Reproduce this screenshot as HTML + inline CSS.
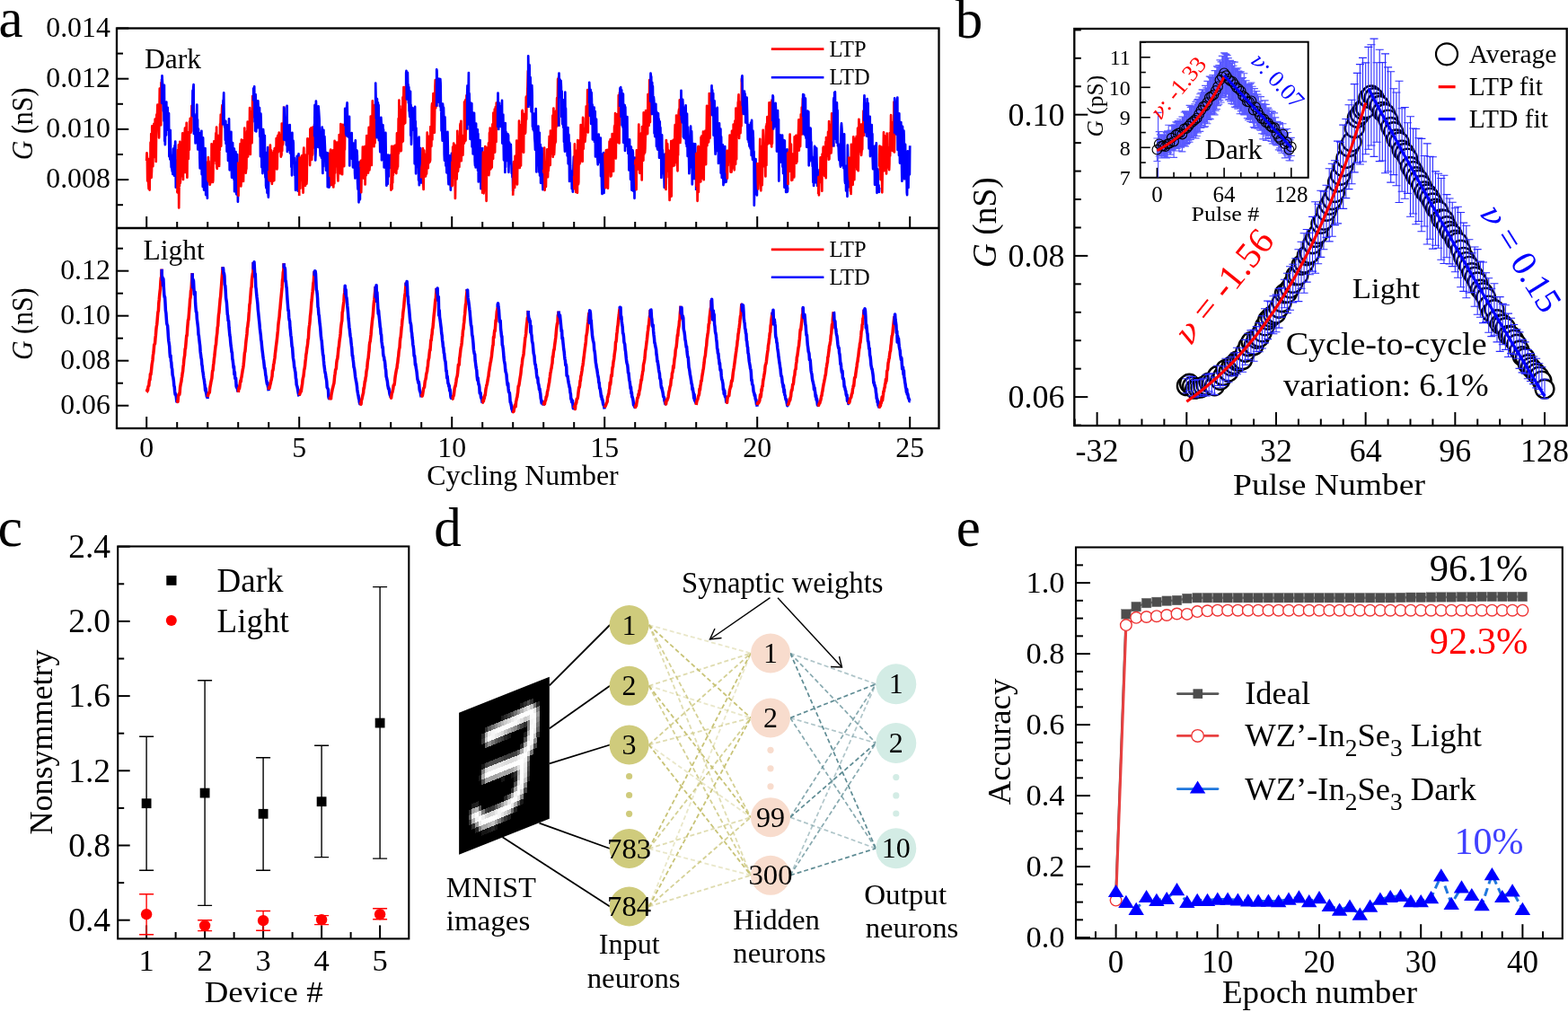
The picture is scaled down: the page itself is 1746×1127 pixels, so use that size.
<!DOCTYPE html>
<html><head><meta charset="utf-8"><title>Figure</title>
<style>html,body{margin:0;padding:0;background:#fff;overflow:hidden;} svg{display:block;}</style>
</head><body>
<svg width="1746" height="1127" viewBox="0 0 1746 1127" font-family="'Liberation Serif', 'Times New Roman', serif">
<rect width="1746" height="1127" fill="#fff"/>
<g id="pa">
<clipPath id="clipA1"><rect x="130" y="31.5" width="915.5" height="222.5"/></clipPath>
<clipPath id="clipA2"><rect x="130" y="254" width="915.5" height="223"/></clipPath>
<g clip-path="url(#clipA1)">
<polyline points="163.2,179.0 163.5,170.4 163.9,175.8 164.2,201.5 164.6,186.5 164.9,176.9 165.2,203.0 165.6,210.2 165.9,187.8 166.3,186.7 166.6,211.6 166.9,186.0 167.3,191.8 167.6,158.7 168.0,196.7 168.3,149.1 168.6,197.8 169.0,189.7 169.3,140.4 169.7,163.0 170.0,172.7 170.3,185.2 170.7,153.3 171.0,154.3 171.4,137.8 171.7,175.0 172.0,154.2 172.4,151.7 172.7,132.7 173.1,155.6 173.4,135.7 173.7,180.0 174.1,141.5 174.4,127.6 174.8,132.5 175.1,125.6 175.4,116.7 175.8,120.6 176.1,118.7 176.5,118.9 176.8,146.8 177.1,153.4 177.5,122.7 177.8,98.6 178.2,125.0 178.5,106.6 178.8,102.5 179.2,139.3 179.5,92.2 179.9,106.9 180.2,88.1" fill="none" stroke="#ff0000" stroke-width="2.7" stroke-linejoin="round" />
<polyline points="180.2,88.1 180.2,114.8 180.5,84.4 180.9,91.1 181.2,96.0 181.6,107.2 181.9,123.7 182.2,98.4 182.6,134.8 182.9,94.8 183.3,157.1 183.6,154.5 183.9,161.1 184.3,118.5 184.6,122.8 185.0,150.5 185.3,113.5 185.6,144.9 186.0,122.4 186.3,119.8 186.7,119.8 187.0,135.7 187.3,134.0 187.7,130.0 188.0,126.2 188.4,174.2 188.7,145.1 189.0,170.9 189.4,177.5 189.7,145.1 190.1,168.4 190.4,177.2 190.7,186.3 191.1,173.2 191.4,187.8 191.8,190.8 192.1,180.4 192.4,193.9 192.8,185.6 193.1,165.7 193.5,176.5 193.8,179.3 194.1,195.7 194.5,162.3 194.8,170.4 195.2,157.5 195.5,173.6 195.8,208.7 196.2,178.6 196.5,200.0 196.9,192.6 197.2,184.3" fill="none" stroke="#0000ff" stroke-width="2.7" stroke-linejoin="round" />
<polyline points="197.2,212.6 197.5,214.4 197.9,167.2 198.2,210.8 198.6,193.6 198.9,161.3 199.2,231.4 199.6,194.8 199.9,207.3 200.3,157.8 200.6,204.0 200.9,202.2 201.3,185.4 201.6,194.3 202.0,180.1 202.3,184.1 202.6,196.1 203.0,156.5 203.3,148.4 203.7,156.6 204.0,199.9 204.3,152.1 204.7,160.1 205.0,156.9 205.4,187.4 205.7,147.9 206.0,142.5 206.4,192.0 206.7,145.5 207.1,150.1 207.4,161.9 207.7,136.8 208.1,174.7 208.4,197.7 208.8,156.0 209.1,149.2 209.4,147.4 209.8,176.9 210.1,148.3 210.5,166.2 210.8,166.7 211.1,135.5 211.5,140.3 211.8,131.9 212.2,136.7 212.5,147.6 212.8,133.4 213.2,146.1 213.5,117.8 213.9,130.2 214.2,119.0" fill="none" stroke="#ff0000" stroke-width="2.7" stroke-linejoin="round" />
<polyline points="214.2,119.0 214.2,128.8 214.5,100.9 214.9,118.7 215.2,97.5 215.6,94.2 215.9,149.0 216.2,126.7 216.6,129.0 216.9,133.9 217.3,143.5 217.6,159.4 217.9,138.3 218.3,151.1 218.6,130.6 219.0,138.5 219.3,116.5 219.6,158.6 220.0,133.3 220.3,166.4 220.7,152.3 221.0,143.5 221.3,161.0 221.7,155.8 222.0,148.1 222.4,177.0 222.7,187.4 223.0,162.2 223.4,182.2 223.7,187.0 224.1,170.4 224.4,145.8 224.7,194.3 225.1,153.5 225.4,156.6 225.8,208.0 226.1,153.4 226.4,169.6 226.8,169.6 227.1,211.6 227.5,186.4 227.8,195.9 228.1,202.0 228.5,165.0 228.8,183.9 229.2,217.1 229.5,213.4 229.8,210.2 230.2,209.1 230.5,186.4 230.9,220.8 231.2,220.1" fill="none" stroke="#0000ff" stroke-width="2.7" stroke-linejoin="round" />
<polyline points="231.2,179.4 231.5,200.3 231.9,175.1 232.2,202.1 232.6,179.7 232.9,200.7 233.2,187.4 233.6,205.7 233.9,205.2 234.3,201.6 234.6,198.2 234.9,203.1 235.3,202.0 235.6,160.3 236.0,187.4 236.3,190.7 236.6,184.7 237.0,202.9 237.3,200.3 237.7,172.0 238.0,170.6 238.3,157.4 238.7,170.9 239.0,162.3 239.4,162.3 239.7,178.8 240.0,159.7 240.4,148.4 240.7,182.3 241.1,141.6 241.4,186.0 241.7,187.9 242.1,167.4 242.4,177.7 242.8,151.2 243.1,184.2 243.4,159.3 243.8,175.2 244.1,184.9 244.5,150.7 244.8,167.1 245.1,138.1 245.5,138.0 245.8,127.6 246.2,162.7 246.5,144.7 246.8,133.6 247.2,120.7 247.5,117.0 247.9,129.0 248.2,139.4" fill="none" stroke="#ff0000" stroke-width="2.7" stroke-linejoin="round" />
<polyline points="248.2,139.4 248.2,128.4 248.5,111.9 248.9,112.3 249.2,103.3 249.6,135.8 249.9,138.6 250.2,141.5 250.6,139.3 250.9,155.9 251.3,134.8 251.6,160.1 251.9,153.1 252.3,153.9 252.6,168.6 253.0,139.4 253.3,160.3 253.6,147.4 254.0,179.0 254.3,170.6 254.7,173.6 255.0,132.3 255.3,154.8 255.7,189.3 256.0,188.9 256.4,186.8 256.7,166.3 257.0,186.9 257.4,146.8 257.7,181.4 258.1,197.6 258.4,194.1 258.7,181.1 259.1,159.0 259.4,173.6 259.8,172.2 260.1,185.6 260.4,199.8 260.8,165.6 261.1,213.2 261.5,194.4 261.8,179.9 262.1,202.3 262.5,169.2 262.8,201.3 263.2,216.3 263.5,187.5 263.8,191.9 264.2,172.0 264.5,187.1 264.9,224.7 265.2,197.4" fill="none" stroke="#0000ff" stroke-width="2.7" stroke-linejoin="round" />
<polyline points="265.2,180.5 265.5,217.8 265.9,190.7 266.2,206.1 266.6,186.7 266.9,196.4 267.2,169.4 267.6,160.1 267.9,182.4 268.3,207.4 268.6,202.9 268.9,155.6 269.3,200.7 269.6,159.1 270.0,174.2 270.3,188.6 270.6,156.4 271.0,202.0 271.3,187.8 271.7,178.5 272.0,183.9 272.3,142.6 272.7,180.1 273.0,166.8 273.4,188.9 273.7,192.6 274.0,189.2 274.4,187.7 274.7,166.1 275.1,146.2 275.4,155.6 275.7,135.7 276.1,174.5 276.4,140.8 276.8,140.7 277.1,137.4 277.4,136.6 277.8,152.4 278.1,120.1 278.5,147.0 278.8,172.0 279.1,152.2 279.5,151.9 279.8,130.2 280.2,124.1 280.5,159.2 280.8,144.4 281.2,107.0 281.5,118.5 281.9,130.5 282.2,112.6" fill="none" stroke="#ff0000" stroke-width="2.7" stroke-linejoin="round" />
<polyline points="282.2,112.6 282.2,98.6 282.5,98.1 282.9,108.9 283.2,96.3 283.6,135.7 283.9,115.0 284.2,145.7 284.6,105.2 284.9,112.1 285.3,146.4 285.6,125.3 285.9,139.6 286.3,114.6 286.6,128.8 287.0,142.2 287.3,112.3 287.6,119.4 288.0,135.9 288.3,130.1 288.7,127.9 289.0,120.0 289.3,152.1 289.7,142.4 290.0,174.2 290.4,126.5 290.7,134.9 291.0,157.1 291.4,186.3 291.7,151.2 292.1,144.2 292.4,193.1 292.7,154.9 293.1,144.0 293.4,147.8 293.8,190.2 294.1,177.7 294.4,175.6 294.8,151.0 295.1,188.0 295.5,197.6 295.8,175.0 296.1,206.6 296.5,209.4 296.8,196.0 297.2,169.9 297.5,214.7 297.8,194.4 298.2,164.0 298.5,214.3 298.9,219.7 299.2,198.1" fill="none" stroke="#0000ff" stroke-width="2.7" stroke-linejoin="round" />
<polyline points="299.2,190.1 299.5,198.3 299.9,201.0 300.2,190.5 300.6,167.5 300.9,161.6 301.2,188.9 301.6,201.6 301.9,167.3 302.3,188.5 302.6,179.7 302.9,204.8 303.3,170.4 303.6,202.1 304.0,172.8 304.3,170.6 304.6,182.3 305.0,168.0 305.3,201.1 305.7,165.4 306.0,175.4 306.3,164.8 306.7,168.7 307.0,188.0 307.4,174.4 307.7,154.0 308.0,164.2 308.4,188.4 308.7,186.8 309.1,152.9 309.4,150.8 309.7,169.4 310.1,152.2 310.4,151.0 310.8,147.5 311.1,154.2 311.4,157.6 311.8,168.3 312.1,167.1 312.5,150.2 312.8,174.6 313.1,173.4 313.5,172.6 313.8,137.6 314.2,168.0 314.5,143.9 314.8,161.7 315.2,159.6 315.5,144.0 315.9,133.7 316.2,118.5" fill="none" stroke="#ff0000" stroke-width="2.7" stroke-linejoin="round" />
<polyline points="316.2,118.5 316.2,155.6 316.5,120.0 316.9,135.3 317.2,145.1 317.6,149.9 317.9,149.6 318.2,156.5 318.6,137.0 318.9,161.6 319.3,152.5 319.6,117.8 319.9,168.9 320.3,159.6 320.6,161.4 321.0,140.8 321.3,153.9 321.6,139.6 322.0,166.8 322.3,164.1 322.7,139.1 323.0,170.5 323.3,165.4 323.7,168.7 324.0,161.7 324.4,185.9 324.7,155.8 325.0,195.3 325.4,147.8 325.7,179.0 326.1,165.3 326.4,156.5 326.7,159.5 327.1,181.8 327.4,178.2 327.8,175.9 328.1,194.9 328.4,192.9 328.8,188.0 329.1,211.8 329.5,182.6 329.8,187.0 330.1,181.9 330.5,183.7 330.8,173.9 331.2,192.1 331.5,199.2 331.8,212.6 332.2,190.1 332.5,171.4 332.9,191.5 333.2,202.9" fill="none" stroke="#0000ff" stroke-width="2.7" stroke-linejoin="round" />
<polyline points="333.2,218.1 333.5,175.7 333.9,209.9 334.2,195.0 334.6,194.9 334.9,196.0 335.2,200.6 335.6,188.8 335.9,173.5 336.3,178.3 336.6,173.2 336.9,209.9 337.3,206.8 337.6,214.6 338.0,171.0 338.3,164.7 338.6,193.3 339.0,178.1 339.3,180.1 339.7,172.5 340.0,206.8 340.3,194.7 340.7,179.7 341.0,184.2 341.4,204.6 341.7,200.0 342.0,169.3 342.4,154.4 342.7,170.9 343.1,164.1 343.4,160.1 343.7,164.3 344.1,159.7 344.4,154.5 344.8,158.3 345.1,184.1 345.4,143.6 345.8,144.0 346.1,152.3 346.5,142.4 346.8,163.3 347.1,177.9 347.5,169.1 347.8,172.8 348.2,171.3 348.5,141.7 348.8,158.1 349.2,161.4 349.5,164.5 349.9,157.2 350.2,137.9" fill="none" stroke="#ff0000" stroke-width="2.7" stroke-linejoin="round" />
<polyline points="350.2,137.9 350.2,151.3 350.5,117.2 350.9,145.6 351.2,178.5 351.6,169.0 351.9,112.5 352.2,120.2 352.6,122.4 352.9,151.3 353.3,147.7 353.6,139.8 353.9,153.6 354.3,164.0 354.6,118.4 355.0,123.3 355.3,128.1 355.6,132.8 356.0,152.7 356.3,164.4 356.7,173.3 357.0,163.3 357.3,168.5 357.7,170.5 358.0,175.7 358.4,152.0 358.7,141.7 359.0,176.6 359.4,193.0 359.7,152.9 360.1,185.6 360.4,144.8 360.7,175.9 361.1,157.2 361.4,152.1 361.8,161.5 362.1,168.8 362.4,171.9 362.8,177.3 363.1,189.6 363.5,180.0 363.8,170.1 364.1,171.7 364.5,176.5 364.8,208.2 365.2,182.2 365.5,170.6 365.8,191.7 366.2,202.0 366.5,208.6 366.9,205.9 367.2,185.8" fill="none" stroke="#0000ff" stroke-width="2.7" stroke-linejoin="round" />
<polyline points="367.2,170.6 367.5,196.0 367.9,167.9 368.2,166.6 368.6,193.3 368.9,206.1 369.2,186.6 369.6,167.8 369.9,186.7 370.3,167.5 370.6,180.7 370.9,167.7 371.3,208.5 371.6,190.8 372.0,204.7 372.3,204.1 372.6,156.9 373.0,192.6 373.3,177.1 373.7,185.2 374.0,170.6 374.3,158.7 374.7,183.0 375.0,172.3 375.4,178.0 375.7,158.5 376.0,193.0 376.4,201.5 376.7,161.7 377.1,184.8 377.4,191.5 377.7,150.0 378.1,173.4 378.4,181.6 378.8,152.9 379.1,193.3 379.4,138.0 379.8,147.9 380.1,178.2 380.5,187.1 380.8,175.2 381.1,194.2 381.5,163.5 381.8,138.8 382.2,156.7 382.5,173.1 382.8,181.8 383.2,185.1 383.5,144.2 383.9,166.6 384.2,140.8" fill="none" stroke="#ff0000" stroke-width="2.7" stroke-linejoin="round" />
<polyline points="384.2,140.8 384.2,120.8 384.5,122.9 384.9,131.4 385.2,149.5 385.6,134.5 385.9,151.2 386.2,118.2 386.6,114.3 386.9,128.1 387.3,142.2 387.6,152.3 387.9,135.1 388.3,142.8 388.6,147.7 389.0,129.8 389.3,184.5 389.6,149.6 390.0,157.4 390.3,166.5 390.7,165.3 391.0,148.7 391.3,163.4 391.7,148.0 392.0,176.9 392.4,166.8 392.7,159.5 393.0,186.3 393.4,178.3 393.7,159.6 394.1,185.7 394.4,167.7 394.7,168.6 395.1,193.2 395.4,198.5 395.8,156.4 396.1,185.6 396.4,179.9 396.8,191.4 397.1,167.2 397.5,168.1 397.8,173.8 398.1,203.3 398.5,210.7 398.8,210.7 399.2,202.9 399.5,225.3 399.8,193.4 400.2,180.7 400.5,218.9 400.9,222.2 401.2,181.3" fill="none" stroke="#0000ff" stroke-width="2.7" stroke-linejoin="round" />
<polyline points="401.2,186.7 401.5,186.0 401.9,178.9 402.2,214.2 402.6,197.9 402.9,183.6 403.2,188.1 403.6,181.5 403.9,163.6 404.3,192.6 404.6,182.9 404.9,167.6 405.3,198.7 405.6,185.3 406.0,195.0 406.3,163.2 406.6,205.4 407.0,185.3 407.3,167.2 407.7,195.2 408.0,161.8 408.3,151.1 408.7,153.2 409.0,178.6 409.4,158.7 409.7,162.5 410.0,192.6 410.4,165.2 410.7,141.9 411.1,156.0 411.4,189.4 411.7,185.4 412.1,165.0 412.4,158.6 412.8,129.5 413.1,156.1 413.4,176.0 413.8,184.0 414.1,143.4 414.5,141.7 414.8,112.4 415.1,154.5 415.5,127.8 415.8,136.6 416.2,117.7 416.5,163.2 416.8,127.9 417.2,144.0 417.5,159.3 417.9,116.4 418.2,117.2" fill="none" stroke="#ff0000" stroke-width="2.7" stroke-linejoin="round" />
<polyline points="418.2,117.2 418.2,92.5 418.5,106.4 418.9,132.1 419.2,129.9 419.6,153.2 419.9,110.1 420.2,121.2 420.6,149.8 420.9,114.3 421.3,145.7 421.6,117.1 421.9,156.2 422.3,143.5 422.6,142.2 423.0,156.9 423.3,169.2 423.6,151.8 424.0,152.4 424.3,130.9 424.7,137.8 425.0,178.3 425.3,142.6 425.7,140.7 426.0,139.9 426.4,139.2 426.7,165.0 427.0,144.4 427.4,158.3 427.7,186.5 428.1,171.4 428.4,179.7 428.7,161.2 429.1,157.9 429.4,147.9 429.8,179.4 430.1,192.1 430.4,206.7 430.8,177.8 431.1,181.1 431.5,197.5 431.8,204.8 432.1,172.5 432.5,184.0 432.8,196.5 433.2,181.6 433.5,176.1 433.8,176.0 434.2,187.0 434.5,172.9 434.9,178.6 435.2,185.9" fill="none" stroke="#0000ff" stroke-width="2.7" stroke-linejoin="round" />
<polyline points="435.2,205.1 435.5,211.6 435.9,185.2 436.2,162.9 436.6,210.2 436.9,179.8 437.2,203.4 437.6,171.1 437.9,194.8 438.3,162.9 438.6,179.1 438.9,191.7 439.3,176.2 439.6,186.3 440.0,161.8 440.3,177.9 440.6,163.2 441.0,174.5 441.3,193.1 441.7,168.4 442.0,148.3 442.3,188.2 442.7,162.3 443.0,185.7 443.4,160.5 443.7,132.1 444.0,170.7 444.4,111.5 444.7,139.6 445.1,142.9 445.4,118.3 445.7,156.1 446.1,155.1 446.4,168.2 446.8,167.6 447.1,122.1 447.4,133.9 447.8,158.2 448.1,144.6 448.5,108.4 448.8,157.3 449.1,128.3 449.5,97.0 449.8,138.2 450.2,98.1 450.5,130.2 450.8,113.7 451.2,137.1 451.5,104.6 451.9,98.9 452.2,94.4" fill="none" stroke="#ff0000" stroke-width="2.7" stroke-linejoin="round" />
<polyline points="452.2,94.4 452.2,81.1 452.5,78.9 452.9,110.5 453.2,87.6 453.6,82.0 453.9,80.9 454.2,96.4 454.6,94.2 454.9,114.6 455.3,97.2 455.6,123.5 455.9,124.4 456.3,129.8 456.6,126.1 457.0,101.8 457.3,150.8 457.6,116.9 458.0,160.8 458.3,150.1 458.7,129.9 459.0,139.1 459.3,120.1 459.7,144.6 460.0,130.5 460.4,125.9 460.7,121.6 461.0,136.1 461.4,128.9 461.7,182.3 462.1,118.9 462.4,160.6 462.7,135.2 463.1,193.3 463.4,142.6 463.8,172.5 464.1,185.9 464.4,172.2 464.8,170.3 465.1,155.1 465.5,162.3 465.8,167.9 466.1,200.7 466.5,152.5 466.8,206.2 467.2,195.0 467.5,189.1 467.8,178.5 468.2,165.2 468.5,196.6 468.9,192.1 469.2,204.7" fill="none" stroke="#0000ff" stroke-width="2.7" stroke-linejoin="round" />
<polyline points="469.2,198.5 469.5,186.7 469.9,184.2 470.2,182.3 470.6,166.9 470.9,165.2 471.2,202.4 471.6,211.0 471.9,194.0 472.3,167.5 472.6,178.6 472.9,171.5 473.3,188.2 473.6,175.6 474.0,196.3 474.3,172.2 474.6,190.5 475.0,193.5 475.3,183.2 475.7,147.5 476.0,160.6 476.3,169.4 476.7,187.2 477.0,154.2 477.4,179.9 477.7,151.9 478.0,181.1 478.4,164.6 478.7,180.1 479.1,178.2 479.4,141.0 479.7,161.8 480.1,160.1 480.4,162.8 480.8,119.2 481.1,115.3 481.4,155.4 481.8,114.5 482.1,125.2 482.5,104.1 482.8,138.8 483.1,145.6 483.5,108.9 483.8,147.7 484.2,120.3 484.5,96.6 484.8,89.0 485.2,120.3 485.5,109.7 485.9,102.1 486.2,118.8" fill="none" stroke="#ff0000" stroke-width="2.7" stroke-linejoin="round" />
<polyline points="486.2,118.8 486.2,77.3 486.5,78.8 486.9,98.9 487.2,97.6 487.6,87.4 487.9,109.4 488.2,104.3 488.6,113.7 488.9,111.9 489.3,96.1 489.6,87.8 489.9,118.3 490.3,88.2 490.6,92.9 491.0,123.3 491.3,116.8 491.6,145.6 492.0,140.8 492.3,146.2 492.7,156.6 493.0,115.6 493.3,119.5 493.7,155.4 494.0,119.8 494.4,138.4 494.7,171.9 495.0,178.6 495.4,130.4 495.7,142.8 496.1,160.1 496.4,184.6 496.7,172.2 497.1,183.7 497.4,192.3 497.8,172.3 498.1,180.9 498.4,146.8 498.8,165.8 499.1,198.0 499.5,205.2 499.8,178.3 500.1,187.0 500.5,173.3 500.8,197.7 501.2,200.7 501.5,190.6 501.8,211.6 502.2,200.4 502.5,198.6 502.9,170.9 503.2,183.9" fill="none" stroke="#0000ff" stroke-width="2.7" stroke-linejoin="round" />
<polyline points="503.2,208.3 503.5,180.6 503.9,206.6 504.2,163.5 504.6,169.2 504.9,192.4 505.2,159.5 505.6,171.4 505.9,198.2 506.3,164.1 506.6,161.7 506.9,221.0 507.3,196.6 507.6,199.3 508.0,168.4 508.3,187.1 508.6,199.4 509.0,186.5 509.3,145.9 509.7,156.8 510.0,190.8 510.3,185.0 510.7,153.8 511.0,152.5 511.4,185.9 511.7,163.1 512.0,170.6 512.4,139.2 512.7,137.5 513.1,144.6 513.4,134.8 513.7,179.2 514.1,161.9 514.4,150.9 514.8,156.1 515.1,165.1 515.4,172.6 515.8,155.0 516.1,157.0 516.5,155.7 516.8,159.6 517.1,113.4 517.5,113.2 517.8,157.3 518.2,111.4 518.5,156.5 518.8,132.8 519.2,143.2 519.5,106.3 519.9,139.1 520.2,144.5" fill="none" stroke="#ff0000" stroke-width="2.7" stroke-linejoin="round" />
<polyline points="520.2,144.5 520.2,104.9 520.5,95.3 520.9,129.3 521.2,102.1 521.6,101.1 521.9,81.1 522.2,138.3 522.6,104.2 522.9,113.7 523.3,127.8 523.6,155.0 523.9,114.5 524.3,119.5 524.6,116.2 525.0,119.6 525.3,115.0 525.6,163.5 526.0,125.1 526.3,142.0 526.7,171.4 527.0,128.6 527.3,162.7 527.7,168.0 528.0,125.8 528.4,144.0 528.7,179.2 529.0,184.2 529.4,150.3 529.7,186.4 530.1,137.6 530.4,177.5 530.7,163.9 531.1,160.3 531.4,156.0 531.8,144.4 532.1,190.1 532.4,149.0 532.8,202.5 533.1,187.6 533.5,196.5 533.8,201.7 534.1,172.4 534.5,156.1 534.8,199.4 535.2,177.5 535.5,210.2 535.8,199.6 536.2,186.8 536.5,189.8 536.9,191.7 537.2,164.0" fill="none" stroke="#0000ff" stroke-width="2.7" stroke-linejoin="round" />
<polyline points="537.2,215.8 537.5,197.2 537.9,169.7 538.2,178.4 538.6,215.3 538.9,207.9 539.2,212.3 539.6,195.3 539.9,206.4 540.3,163.1 540.6,187.9 540.9,211.2 541.3,198.0 541.6,223.8 542.0,178.0 542.3,164.6 542.6,181.2 543.0,187.8 543.3,164.7 543.7,176.6 544.0,159.3 544.3,195.1 544.7,191.0 545.0,147.9 545.4,176.0 545.7,142.7 546.0,157.1 546.4,188.3 546.7,160.7 547.1,167.5 547.4,184.6 547.7,186.5 548.1,161.9 548.4,138.3 548.8,145.8 549.1,176.8 549.4,125.5 549.8,166.9 550.1,146.0 550.5,132.3 550.8,121.5 551.1,169.6 551.5,140.9 551.8,119.2 552.2,120.8 552.5,157.9 552.8,114.5 553.2,125.9 553.5,130.5 553.9,137.9 554.2,141.7" fill="none" stroke="#ff0000" stroke-width="2.7" stroke-linejoin="round" />
<polyline points="554.2,141.7 554.2,125.7 554.5,103.6 554.9,124.3 555.2,144.0 555.6,117.7 555.9,114.5 556.2,131.6 556.6,123.1 556.9,118.1 557.3,140.8 557.6,118.4 557.9,118.8 558.3,121.2 558.6,128.2 559.0,111.8 559.3,159.6 559.6,150.6 560.0,136.5 560.3,127.5 560.7,160.0 561.0,178.3 561.3,173.1 561.7,167.9 562.0,163.8 562.4,191.9 562.7,137.2 563.0,186.0 563.4,146.8 563.7,175.9 564.1,156.0 564.4,174.4 564.7,178.9 565.1,172.1 565.4,149.2 565.8,161.9 566.1,150.5 566.4,191.8 566.8,175.8 567.1,158.7 567.5,175.6 567.8,181.8 568.1,164.4 568.5,163.9 568.8,160.9 569.2,179.1 569.5,182.6 569.8,193.0 570.2,189.2 570.5,197.4 570.9,194.2 571.2,213.1" fill="none" stroke="#0000ff" stroke-width="2.7" stroke-linejoin="round" />
<polyline points="571.2,217.8 571.5,203.9 571.9,194.0 572.2,180.0 572.6,193.4 572.9,196.0 573.2,208.9 573.6,173.8 573.9,195.5 574.3,199.0 574.6,189.4 574.9,195.4 575.3,156.6 575.6,200.7 576.0,205.3 576.3,175.1 576.6,185.1 577.0,187.2 577.3,170.4 577.7,171.9 578.0,134.7 578.3,157.1 578.7,186.9 579.0,149.4 579.4,150.8 579.7,171.4 580.0,184.5 580.4,139.0 580.7,148.9 581.1,148.3 581.4,123.9 581.7,122.8 582.1,127.8 582.4,169.0 582.8,157.7 583.1,169.7 583.4,127.2 583.8,139.1 584.1,143.0 584.5,141.4 584.8,148.7 585.1,147.7 585.5,134.0 585.8,108.2 586.2,132.8 586.5,107.0 586.8,117.4 587.2,102.8 587.5,95.8 587.9,79.2 588.2,120.0" fill="none" stroke="#ff0000" stroke-width="2.7" stroke-linejoin="round" />
<polyline points="588.2,120.0 588.2,62.4 588.5,76.1 588.9,86.2 589.2,112.4 589.6,72.4 589.9,116.4 590.2,103.7 590.6,86.2 590.9,100.5 591.3,109.7 591.6,124.3 591.9,115.2 592.3,95.2 592.6,104.1 593.0,141.0 593.3,126.5 593.6,144.0 594.0,143.8 594.3,145.4 594.7,126.7 595.0,146.1 595.3,153.8 595.7,158.6 596.0,166.8 596.4,148.0 596.7,121.2 597.0,145.8 597.4,191.5 597.7,180.6 598.1,154.1 598.4,178.8 598.7,169.2 599.1,146.3 599.4,140.6 599.8,181.6 600.1,169.5 600.4,191.8 600.8,147.8 601.1,195.6 601.5,186.4 601.8,161.2 602.1,203.8 602.5,172.9 602.8,171.3 603.2,198.9 603.5,164.8 603.8,180.6 604.2,200.6 604.5,211.1 604.9,207.0 605.2,192.3" fill="none" stroke="#0000ff" stroke-width="2.7" stroke-linejoin="round" />
<polyline points="605.2,188.8 605.5,192.0 605.9,189.5 606.2,164.7 606.6,211.8 606.9,206.4 607.2,180.5 607.6,181.0 607.9,207.9 608.3,186.7 608.6,195.7 608.9,188.8 609.3,166.3 609.6,189.1 610.0,197.2 610.3,187.7 610.6,190.5 611.0,186.4 611.3,166.1 611.7,151.9 612.0,152.7 612.3,156.5 612.7,183.8 613.0,145.5 613.4,164.3 613.7,154.9 614.0,171.2 614.4,165.7 614.7,164.2 615.1,167.0 615.4,128.7 615.7,174.8 616.1,154.9 616.4,120.6 616.8,163.5 617.1,171.9 617.4,164.4 617.8,157.9 618.1,138.2 618.5,151.2 618.8,158.4 619.1,123.7 619.5,141.5 619.8,132.5 620.2,109.1 620.5,136.2 620.8,119.6 621.2,88.0 621.5,126.6 621.9,86.4 622.2,140.7" fill="none" stroke="#ff0000" stroke-width="2.7" stroke-linejoin="round" />
<polyline points="622.2,140.7 622.2,94.8 622.5,81.6 622.9,98.3 623.2,98.1 623.6,88.6 623.9,108.2 624.2,97.3 624.6,90.1 624.9,96.8 625.3,130.1 625.6,101.5 625.9,127.2 626.3,138.3 626.6,122.8 627.0,111.1 627.3,142.1 627.6,112.4 628.0,158.0 628.3,148.5 628.7,162.9 629.0,168.6 629.3,102.7 629.7,155.3 630.0,120.7 630.4,157.2 630.7,159.1 631.0,157.1 631.4,162.4 631.7,173.4 632.1,152.4 632.4,142.0 632.7,182.3 633.1,149.6 633.4,150.3 633.8,172.7 634.1,202.0 634.4,159.2 634.8,168.5 635.1,184.9 635.5,192.0 635.8,190.0 636.1,201.3 636.5,191.2 636.8,210.2 637.2,209.7 637.5,196.8 637.8,213.6 638.2,200.2 638.5,183.9 638.9,174.5 639.2,175.2" fill="none" stroke="#0000ff" stroke-width="2.7" stroke-linejoin="round" />
<polyline points="639.2,195.9 639.5,210.2 639.9,160.4 640.2,205.0 640.6,202.1 640.9,167.5 641.2,213.9 641.6,210.3 641.9,190.4 642.3,173.4 642.6,183.9 642.9,214.7 643.3,156.1 643.6,188.7 644.0,205.1 644.3,202.6 644.6,169.9 645.0,156.9 645.3,182.6 645.7,177.0 646.0,181.4 646.3,164.6 646.7,139.0 647.0,154.9 647.4,175.8 647.7,143.5 648.0,158.9 648.4,171.3 648.7,179.8 649.1,130.8 649.4,131.9 649.7,165.7 650.1,143.2 650.4,151.6 650.8,147.6 651.1,156.0 651.4,157.9 651.8,152.7 652.1,150.5 652.5,132.2 652.8,118.4 653.1,134.8 653.5,141.6 653.8,136.2 654.2,100.2 654.5,113.4 654.8,147.4 655.2,108.8 655.5,122.9 655.9,102.9 656.2,115.1" fill="none" stroke="#ff0000" stroke-width="2.7" stroke-linejoin="round" />
<polyline points="656.2,115.1 656.2,91.9 656.5,98.1 656.9,128.9 657.2,113.0 657.6,99.8 657.9,102.4 658.2,137.9 658.6,103.1 658.9,110.3 659.3,135.9 659.6,116.6 659.9,155.3 660.3,134.0 660.6,147.1 661.0,153.6 661.3,154.0 661.6,119.6 662.0,158.1 662.3,136.9 662.7,124.1 663.0,174.5 663.3,163.3 663.7,173.3 664.0,132.5 664.4,165.1 664.7,174.4 665.0,166.9 665.4,177.9 665.7,183.3 666.1,155.4 666.4,178.4 666.7,149.7 667.1,168.9 667.4,180.7 667.8,157.4 668.1,179.0 668.4,172.4 668.8,153.6 669.1,196.2 669.5,192.7 669.8,188.7 670.1,207.1 670.5,215.9 670.8,207.0 671.2,210.8 671.5,171.3 671.8,207.1 672.2,170.1 672.5,215.0 672.9,186.0 673.2,182.3" fill="none" stroke="#0000ff" stroke-width="2.7" stroke-linejoin="round" />
<polyline points="673.2,172.5 673.5,171.7 673.9,187.2 674.2,209.2 674.6,172.2 674.9,167.3 675.2,197.0 675.6,190.8 675.9,178.6 676.3,166.8 676.6,189.3 676.9,209.7 677.3,188.9 677.6,176.7 678.0,185.4 678.3,183.7 678.6,157.7 679.0,175.2 679.3,175.5 679.7,155.0 680.0,196.5 680.3,155.4 680.7,195.7 681.0,175.9 681.4,185.0 681.7,149.0 682.0,176.4 682.4,165.0 682.7,153.5 683.1,190.8 683.4,159.4 683.7,168.6 684.1,141.4 684.4,139.9 684.8,159.0 685.1,126.2 685.4,163.4 685.8,176.4 686.1,136.9 686.5,144.4 686.8,157.2 687.1,149.0 687.5,127.1 687.8,158.5 688.2,131.5 688.5,146.5 688.8,106.2 689.2,151.7 689.5,159.5 689.9,103.4 690.2,119.1" fill="none" stroke="#ff0000" stroke-width="2.7" stroke-linejoin="round" />
<polyline points="690.2,119.1 690.2,108.1 690.5,98.2 690.9,112.8 691.2,97.2 691.6,130.1 691.9,114.1 692.2,100.3 692.6,139.6 692.9,114.5 693.3,110.8 693.6,141.8 693.9,104.7 694.3,158.8 694.6,116.3 695.0,143.0 695.3,145.3 695.6,117.1 696.0,167.9 696.3,119.3 696.7,142.8 697.0,144.6 697.3,137.4 697.7,153.4 698.0,150.3 698.4,130.0 698.7,163.2 699.0,157.2 699.4,171.0 699.7,164.2 700.1,161.2 700.4,189.4 700.7,159.8 701.1,155.4 701.4,177.1 701.8,174.4 702.1,199.7 702.4,179.0 702.8,163.6 703.1,192.8 703.5,211.6 703.8,188.7 704.1,167.5 704.5,167.3 704.8,170.5 705.2,212.7 705.5,204.3 705.8,195.5 706.2,178.1 706.5,220.8 706.9,175.6 707.2,182.1" fill="none" stroke="#0000ff" stroke-width="2.7" stroke-linejoin="round" />
<polyline points="707.2,183.7 707.5,178.5 707.9,184.0 708.2,201.7 708.6,211.1 708.9,167.4 709.2,170.5 709.6,176.5 709.9,170.6 710.3,188.4 710.6,180.4 710.9,170.4 711.3,138.5 711.6,179.0 712.0,186.2 712.3,192.8 712.6,190.4 713.0,179.9 713.3,150.2 713.7,151.8 714.0,148.4 714.3,159.7 714.7,200.4 715.0,141.1 715.4,165.4 715.7,146.5 716.0,176.9 716.4,178.8 716.7,125.4 717.1,159.8 717.4,171.4 717.7,152.4 718.1,169.9 718.4,165.3 718.8,149.4 719.1,123.0 719.4,126.4 719.8,145.5 720.1,145.8 720.5,123.2 720.8,149.2 721.1,148.8 721.5,105.0 721.8,109.5 722.2,117.8 722.5,139.9 722.8,132.7 723.2,89.0 723.5,103.3 723.9,136.1 724.2,88.1" fill="none" stroke="#ff0000" stroke-width="2.7" stroke-linejoin="round" />
<polyline points="724.2,88.1 724.2,112.8 724.5,81.7 724.9,85.2 725.2,85.3 725.6,108.9 725.9,127.1 726.2,91.8 726.6,113.3 726.9,96.2 727.3,122.6 727.6,123.7 727.9,108.2 728.3,112.1 728.6,148.6 729.0,121.3 729.3,152.1 729.6,121.9 730.0,122.3 730.3,115.8 730.7,138.1 731.0,162.9 731.3,124.7 731.7,136.6 732.0,165.6 732.4,166.6 732.7,150.7 733.0,126.4 733.4,145.4 733.7,132.5 734.1,175.7 734.4,164.1 734.7,135.3 735.1,158.5 735.4,142.0 735.8,167.3 736.1,156.3 736.4,197.9 736.8,188.5 737.1,150.3 737.5,175.7 737.8,167.2 738.1,193.0 738.5,181.2 738.8,177.3 739.2,180.3 739.5,195.8 739.8,208.8 740.2,177.8 740.5,171.7 740.9,195.8 741.2,205.2" fill="none" stroke="#0000ff" stroke-width="2.7" stroke-linejoin="round" />
<polyline points="741.2,207.5 741.5,210.9 741.9,156.1 742.2,185.3 742.6,161.2 742.9,162.4 743.2,160.0 743.6,172.7 743.9,190.6 744.3,177.2 744.6,197.5 744.9,167.9 745.3,204.9 745.6,223.0 746.0,201.8 746.3,197.6 746.6,177.0 747.0,176.8 747.3,157.0 747.7,218.6 748.0,175.3 748.3,165.7 748.7,168.1 749.0,175.2 749.4,184.9 749.7,155.9 750.0,163.4 750.4,168.8 750.7,177.9 751.1,184.2 751.4,151.4 751.7,139.2 752.1,150.8 752.4,145.8 752.8,180.9 753.1,128.5 753.4,145.2 753.8,176.3 754.1,177.3 754.5,190.3 754.8,131.2 755.1,172.7 755.5,129.5 755.8,124.2 756.2,121.5 756.5,147.3 756.8,111.4 757.2,155.7 757.5,158.9 757.9,124.7 758.2,123.9" fill="none" stroke="#ff0000" stroke-width="2.7" stroke-linejoin="round" />
<polyline points="758.2,123.9 758.2,128.0 758.5,100.8 758.9,133.1 759.2,128.5 759.6,136.3 759.9,125.6 760.2,110.9 760.6,120.4 760.9,152.6 761.3,151.7 761.6,119.6 761.9,153.9 762.3,144.2 762.6,149.5 763.0,131.5 763.3,154.8 763.6,117.4 764.0,159.9 764.3,133.3 764.7,162.9 765.0,126.6 765.3,147.9 765.7,173.9 766.0,141.7 766.4,154.5 766.7,158.9 767.0,171.4 767.4,193.2 767.7,187.0 768.1,165.2 768.4,186.4 768.7,185.0 769.1,140.7 769.4,161.5 769.8,149.2 770.1,146.0 770.4,157.8 770.8,205.3 771.1,182.7 771.5,174.5 771.8,175.8 772.1,171.0 772.5,160.1 772.8,187.0 773.2,199.0 773.5,190.8 773.8,172.0 774.2,160.4 774.5,193.9 774.9,172.2 775.2,212.1" fill="none" stroke="#0000ff" stroke-width="2.7" stroke-linejoin="round" />
<polyline points="775.2,170.2 775.5,207.3 775.9,170.7 776.2,182.1 776.6,223.8 776.9,212.4 777.2,164.1 777.6,162.9 777.9,213.8 778.3,178.6 778.6,176.9 778.9,164.8 779.3,192.6 779.6,198.1 780.0,163.7 780.3,202.3 780.6,153.1 781.0,199.0 781.3,151.6 781.7,196.0 782.0,163.1 782.3,185.4 782.7,186.4 783.0,146.7 783.4,166.2 783.7,200.2 784.0,154.0 784.4,146.9 784.7,148.2 785.1,154.5 785.4,145.5 785.7,145.9 786.1,183.1 786.4,156.5 786.8,139.9 787.1,117.8 787.4,162.2 787.8,119.1 788.1,130.4 788.5,137.3 788.8,124.9 789.1,158.3 789.5,143.0 789.8,104.1 790.2,131.5 790.5,153.8 790.8,116.2 791.2,113.8 791.5,105.0 791.9,121.9 792.2,110.0" fill="none" stroke="#ff0000" stroke-width="2.7" stroke-linejoin="round" />
<polyline points="792.2,110.0 792.2,112.5 792.5,95.4 792.9,128.1 793.2,100.4 793.6,110.6 793.9,117.3 794.2,104.1 794.6,150.7 794.9,118.2 795.3,144.2 795.6,112.4 795.9,148.3 796.3,161.7 796.6,171.7 797.0,163.7 797.3,166.8 797.6,140.4 798.0,120.9 798.3,165.0 798.7,119.9 799.0,150.8 799.3,168.4 799.7,142.1 800.0,181.9 800.4,168.2 800.7,166.8 801.0,137.3 801.4,165.8 801.7,147.6 802.1,150.7 802.4,143.7 802.7,192.7 803.1,152.4 803.4,170.9 803.8,198.0 804.1,166.7 804.4,173.0 804.8,161.4 805.1,181.1 805.5,206.1 805.8,183.1 806.1,197.6 806.5,180.0 806.8,203.2 807.2,163.0 807.5,180.5 807.8,190.8 808.2,196.4 808.5,202.7 808.9,199.0 809.2,198.7" fill="none" stroke="#0000ff" stroke-width="2.7" stroke-linejoin="round" />
<polyline points="809.2,192.5 809.5,167.8 809.9,198.6 810.2,176.2 810.6,184.4 810.9,177.9 811.2,169.5 811.6,169.9 811.9,166.9 812.3,165.4 812.6,150.5 812.9,165.1 813.3,168.0 813.6,191.6 814.0,172.7 814.3,170.4 814.6,191.6 815.0,145.8 815.3,159.5 815.7,171.6 816.0,175.0 816.3,186.9 816.7,138.6 817.0,140.2 817.4,171.8 817.7,189.3 818.0,149.6 818.4,134.7 818.7,168.9 819.1,182.8 819.4,120.7 819.7,130.3 820.1,177.2 820.4,136.8 820.8,143.5 821.1,144.2 821.4,138.9 821.8,114.2 822.1,113.0 822.5,105.4 822.8,141.5 823.1,153.9 823.5,115.7 823.8,136.1 824.2,114.0 824.5,148.1 824.8,139.6 825.2,116.3 825.5,140.3 825.9,87.8 826.2,91.3" fill="none" stroke="#ff0000" stroke-width="2.7" stroke-linejoin="round" />
<polyline points="826.2,91.3 826.2,85.5 826.5,84.4 826.9,117.5 827.2,108.6 827.6,123.8 827.9,126.9 828.2,105.3 828.6,115.2 828.9,101.6 829.3,110.2 829.6,104.7 829.9,109.5 830.3,136.6 830.6,115.9 831.0,132.6 831.3,126.4 831.6,108.7 832.0,123.3 832.3,138.1 832.7,155.4 833.0,153.0 833.3,138.8 833.7,158.5 834.0,139.4 834.4,162.0 834.7,163.3 835.0,159.4 835.4,145.8 835.7,165.4 836.1,136.6 836.4,137.0 836.7,173.0 837.1,133.9 837.4,156.0 837.8,173.4 838.1,177.9 838.4,145.7 838.8,153.7 839.1,172.9 839.5,168.7 839.8,228.7 840.1,209.2 840.5,206.0 840.8,192.2 841.2,205.5 841.5,177.1 841.8,194.7 842.2,198.3 842.5,215.8 842.9,217.5 843.2,182.0" fill="none" stroke="#0000ff" stroke-width="2.7" stroke-linejoin="round" />
<polyline points="843.2,180.9 843.5,186.1 843.9,204.2 844.2,210.5 844.6,201.2 844.9,200.3 845.2,185.7 845.6,201.5 845.9,179.2 846.3,154.8 846.6,196.0 846.9,183.6 847.3,212.3 847.6,162.9 848.0,203.1 848.3,171.1 848.6,206.1 849.0,192.3 849.3,165.9 849.7,144.8 850.0,162.0 850.3,171.7 850.7,185.2 851.0,161.3 851.4,166.1 851.7,182.6 852.0,162.9 852.4,196.4 852.7,151.9 853.1,140.5 853.4,184.0 853.7,138.0 854.1,147.4 854.4,130.0 854.8,160.5 855.1,152.5 855.4,145.1 855.8,150.5 856.1,157.2 856.5,114.3 856.8,157.1 857.1,129.2 857.5,159.7 857.8,114.3 858.2,151.5 858.5,130.3 858.8,157.6 859.2,163.5 859.5,111.5 859.9,159.8 860.2,135.1" fill="none" stroke="#ff0000" stroke-width="2.7" stroke-linejoin="round" />
<polyline points="860.2,135.1 860.2,133.1 860.5,106.4 860.9,107.7 861.2,143.5 861.6,121.1 861.9,125.8 862.2,141.1 862.6,128.5 862.9,140.0 863.3,139.5 863.6,114.9 863.9,120.3 864.3,139.1 864.6,124.9 865.0,168.6 865.3,147.4 865.6,157.6 866.0,123.1 866.3,137.8 866.7,152.8 867.0,133.1 867.3,201.6 867.7,154.0 868.0,161.1 868.4,169.3 868.7,150.4 869.0,166.0 869.4,180.4 869.7,177.7 870.1,158.2 870.4,176.2 870.7,180.8 871.1,150.5 871.4,185.7 871.8,166.9 872.1,193.1 872.4,189.3 872.8,156.0 873.1,185.5 873.5,208.7 873.8,156.5 874.1,205.9 874.5,169.5 874.8,167.7 875.2,214.0 875.5,213.5 875.8,203.8 876.2,213.8 876.5,166.4 876.9,213.5 877.2,208.7" fill="none" stroke="#0000ff" stroke-width="2.7" stroke-linejoin="round" />
<polyline points="877.2,169.8 877.5,205.0 877.9,169.8 878.2,189.6 878.6,181.4 878.9,177.0 879.2,166.7 879.6,149.7 879.9,190.7 880.3,177.4 880.6,169.4 880.9,160.5 881.3,200.8 881.6,194.3 882.0,171.7 882.3,200.5 882.6,171.7 883.0,179.0 883.3,188.0 883.7,174.3 884.0,185.1 884.3,197.4 884.7,152.4 885.0,163.2 885.4,158.3 885.7,179.9 886.0,172.3 886.4,150.8 886.7,181.7 887.1,158.6 887.4,180.2 887.7,166.1 888.1,154.2 888.4,150.7 888.8,151.8 889.1,144.8 889.4,133.3 889.8,167.6 890.1,135.1 890.5,150.2 890.8,135.0 891.1,163.1 891.5,141.0 891.8,127.4 892.2,139.7 892.5,145.7 892.8,119.6 893.2,149.5 893.5,123.2 893.9,109.7 894.2,130.0" fill="none" stroke="#ff0000" stroke-width="2.7" stroke-linejoin="round" />
<polyline points="894.2,130.0 894.2,105.2 894.5,106.4 894.9,149.2 895.2,105.6 895.6,123.6 895.9,139.9 896.2,120.1 896.6,150.8 896.9,109.7 897.3,151.0 897.6,153.9 897.9,126.7 898.3,163.8 898.6,142.0 899.0,157.5 899.3,123.6 899.6,147.4 900.0,147.1 900.3,124.4 900.7,184.3 901.0,163.8 901.3,180.1 901.7,148.8 902.0,145.4 902.4,142.5 902.7,143.9 903.0,163.4 903.4,158.0 903.7,178.7 904.1,174.7 904.4,176.6 904.7,185.2 905.1,183.5 905.4,202.9 905.8,184.8 906.1,207.0 906.4,188.6 906.8,172.1 907.1,162.9 907.5,177.3 907.8,164.0 908.1,183.6 908.5,203.1 908.8,190.2 909.2,165.2 909.5,181.1 909.8,189.2 910.2,207.0 910.5,189.2 910.9,196.3 911.2,190.6" fill="none" stroke="#0000ff" stroke-width="2.7" stroke-linejoin="round" />
<polyline points="911.2,216.1 911.5,197.0 911.9,217.3 912.2,203.0 912.6,198.3 912.9,198.3 913.2,199.2 913.6,175.3 913.9,181.9 914.3,202.9 914.6,203.2 914.9,176.4 915.3,212.7 915.6,171.6 916.0,190.8 916.3,190.4 916.6,164.4 917.0,163.4 917.3,185.9 917.7,186.2 918.0,194.4 918.3,196.0 918.7,180.7 919.0,186.4 919.4,158.0 919.7,198.2 920.0,153.0 920.4,173.3 920.7,174.0 921.1,155.2 921.4,155.8 921.7,166.2 922.1,146.9 922.4,164.6 922.8,177.7 923.1,135.0 923.4,177.3 923.8,144.5 924.1,155.8 924.5,143.9 924.8,139.0 925.1,153.7 925.5,170.5 925.8,166.7 926.2,126.3 926.5,153.8 926.8,141.2 927.2,132.6 927.5,161.0 927.9,153.0 928.2,163.5" fill="none" stroke="#ff0000" stroke-width="2.7" stroke-linejoin="round" />
<polyline points="928.2,163.5 928.2,112.7 928.5,109.1 928.9,140.2 929.2,103.0 929.6,133.0 929.9,102.3 930.2,124.0 930.6,154.8 930.9,146.9 931.3,126.5 931.6,158.7 931.9,114.4 932.3,140.3 932.6,122.9 933.0,162.5 933.3,159.9 933.6,160.6 934.0,172.4 934.3,178.2 934.7,162.1 935.0,171.5 935.3,173.4 935.7,183.4 936.0,185.6 936.4,155.9 936.7,141.3 937.0,137.4 937.4,142.8 937.7,149.0 938.1,157.6 938.4,184.3 938.7,157.0 939.1,158.2 939.4,187.2 939.8,181.8 940.1,149.3 940.4,184.9 940.8,201.0 941.1,203.9 941.5,184.7 941.8,194.5 942.1,212.4 942.5,203.4 942.8,195.5 943.2,186.0 943.5,218.8 943.8,161.7 944.2,176.7 944.5,191.8 944.9,177.0 945.2,209.5" fill="none" stroke="#0000ff" stroke-width="2.7" stroke-linejoin="round" />
<polyline points="945.2,174.5 945.5,181.8 945.9,195.7 946.2,200.4 946.6,189.1 946.9,212.8 947.2,198.2 947.6,215.9 947.9,160.9 948.3,202.9 948.6,205.0 948.9,174.9 949.3,186.3 949.6,205.8 950.0,167.5 950.3,152.4 950.6,160.6 951.0,169.9 951.3,200.1 951.7,178.9 952.0,155.7 952.3,166.0 952.7,170.8 953.0,154.1 953.4,175.9 953.7,151.9 954.0,181.2 954.4,188.8 954.7,179.6 955.1,142.5 955.4,150.2 955.7,190.2 956.1,163.0 956.4,132.9 956.8,140.1 957.1,164.8 957.4,155.4 957.8,148.7 958.1,138.7 958.5,168.8 958.8,169.6 959.1,172.8 959.5,167.8 959.8,142.9 960.2,166.3 960.5,137.8 960.8,143.5 961.2,139.8 961.5,123.7 961.9,150.8 962.2,134.9" fill="none" stroke="#ff0000" stroke-width="2.7" stroke-linejoin="round" />
<polyline points="962.2,134.9 962.2,117.2 962.5,106.3 962.9,121.4 963.2,126.9 963.6,147.1 963.9,127.6 964.2,119.5 964.6,115.1 964.9,151.4 965.3,142.6 965.6,110.2 965.9,128.8 966.3,151.9 966.6,114.9 967.0,148.2 967.3,152.2 967.6,165.4 968.0,161.0 968.3,130.9 968.7,129.8 969.0,174.1 969.3,151.0 969.7,141.7 970.0,149.2 970.4,172.7 970.7,139.1 971.0,162.5 971.4,149.2 971.7,176.5 972.1,188.1 972.4,163.2 972.7,162.6 973.1,184.8 973.4,170.3 973.8,180.3 974.1,205.7 974.4,166.8 974.8,185.0 975.1,162.2 975.5,197.8 975.8,159.4 976.1,189.3 976.5,214.8 976.8,197.2 977.2,201.6 977.5,188.6 977.8,206.1 978.2,212.5 978.5,206.4 978.9,213.8 979.2,208.8" fill="none" stroke="#0000ff" stroke-width="2.7" stroke-linejoin="round" />
<polyline points="979.2,185.6 979.5,162.6 979.9,189.1 980.2,174.0 980.6,200.1 980.9,197.3 981.2,163.6 981.6,189.1 981.9,186.1 982.3,214.3 982.6,196.9 982.9,173.0 983.3,187.7 983.6,170.1 984.0,147.3 984.3,180.8 984.6,190.2 985.0,151.2 985.3,173.1 985.7,184.3 986.0,167.7 986.3,153.0 986.7,163.9 987.0,193.5 987.4,169.6 987.7,148.5 988.0,186.5 988.4,182.8 988.7,183.2 989.1,171.6 989.4,186.1 989.7,164.4 990.1,189.1 990.4,182.1 990.8,148.2 991.1,173.6 991.4,162.1 991.8,152.4 992.1,128.2 992.5,140.8 992.8,167.3 993.1,158.1 993.5,161.4 993.8,136.4 994.2,168.1 994.5,165.9 994.8,139.2 995.2,151.0 995.5,113.6 995.9,169.5 996.2,148.8" fill="none" stroke="#ff0000" stroke-width="2.7" stroke-linejoin="round" />
<polyline points="996.2,148.8 996.2,109.3 996.5,111.9 996.9,134.8 997.2,141.0 997.6,126.2 997.9,149.5 998.2,121.6 998.6,124.0 998.9,135.1 999.3,108.5 999.6,166.9 999.9,150.0 1000.3,142.7 1000.6,132.7 1001.0,173.1 1001.3,126.3 1001.6,153.8 1002.0,181.6 1002.3,151.0 1002.7,167.5 1003.0,145.9 1003.3,136.2 1003.7,154.1 1004.0,180.0 1004.4,201.7 1004.7,164.1 1005.0,140.8 1005.4,156.8 1005.7,150.2 1006.1,151.6 1006.4,145.5 1006.7,155.2 1007.1,199.3 1007.4,181.6 1007.8,172.3 1008.1,160.9 1008.4,190.5 1008.8,197.0 1009.1,186.9 1009.5,194.9 1009.8,214.6 1010.1,217.1 1010.5,176.1 1010.8,168.4 1011.2,175.8 1011.5,209.0 1011.8,181.1 1012.2,179.7 1012.5,178.9 1012.9,194.3 1013.2,162.3" fill="none" stroke="#0000ff" stroke-width="2.7" stroke-linejoin="round" />
</g>
<g clip-path="url(#clipA2)">
<polyline points="163.2,436.7 163.6,436.3 164.0,433.9 164.5,434.8 164.9,431.1 165.3,429.8 165.8,429.5 166.2,424.8 166.6,422.7 167.0,422.9 167.4,416.4 167.9,417.4 168.3,414.3 168.7,410.7 169.1,406.4 169.6,403.5 170.0,401.0 170.4,396.0 170.8,393.7 171.3,389.1 171.7,383.8 172.1,383.3 172.5,382.9 173.0,376.5 173.4,373.4 173.8,368.0 174.2,364.0 174.7,361.5 175.1,357.2 175.5,352.0 175.9,347.6 176.4,346.1 176.8,337.4 177.2,334.0 177.6,329.5 178.1,324.5 178.5,321.5 178.9,314.2 179.3,309.4 179.8,308.2 180.2,299.7" fill="none" stroke="#ff0000" stroke-width="3.5" stroke-linejoin="round" />
<polyline points="180.2,299.7 180.2,305.1 180.6,311.9 181.0,308.8 181.5,317.9 181.9,310.5 182.3,319.5 182.8,328.0 183.2,330.9 183.6,330.8 184.0,337.5 184.4,345.9 184.9,348.7 185.3,354.8 185.7,360.0 186.1,361.6 186.6,362.7 187.0,368.2 187.4,374.7 187.8,379.5 188.3,382.7 188.7,385.5 189.1,393.1 189.5,397.6 190.0,395.9 190.4,402.0 190.8,403.7 191.2,409.3 191.7,410.9 192.1,417.4 192.5,419.1 192.9,420.7 193.4,424.6 193.8,429.7 194.2,430.5 194.6,435.5 195.1,439.2 195.5,438.7 195.9,439.6 196.3,442.3 196.8,447.0 197.2,444.9" fill="none" stroke="#0000ff" stroke-width="3.5" stroke-linejoin="round" />
<polyline points="197.2,445.4 197.6,446.1 198.0,447.4 198.5,441.7 198.9,440.1 199.3,438.7 199.8,439.4 200.2,436.8 200.6,431.3 201.0,429.0 201.4,426.7 201.9,424.9 202.3,421.1 202.7,419.3 203.1,415.9 203.6,413.3 204.0,408.6 204.4,406.0 204.8,400.8 205.3,397.5 205.7,395.7 206.1,388.6 206.5,388.4 207.0,382.5 207.4,377.7 207.8,373.4 208.2,373.6 208.7,365.3 209.1,360.8 209.5,356.1 209.9,356.2 210.4,349.8 210.8,344.5 211.2,340.3 211.6,333.3 212.1,331.1 212.5,323.9 212.9,323.4 213.3,317.9 213.8,309.3 214.2,304.2" fill="none" stroke="#ff0000" stroke-width="3.5" stroke-linejoin="round" />
<polyline points="214.2,304.2 214.2,314.2 214.6,320.1 215.0,311.2 215.5,312.7 215.9,320.6 216.3,327.8 216.8,326.7 217.2,325.1 217.6,337.5 218.0,342.9 218.4,347.4 218.9,347.5 219.3,354.8 219.7,358.0 220.1,361.3 220.6,365.6 221.0,372.6 221.4,373.8 221.8,377.9 222.3,382.3 222.7,385.3 223.1,391.4 223.5,394.4 224.0,398.6 224.4,400.2 224.8,405.8 225.2,407.6 225.7,413.1 226.1,414.9 226.5,418.3 226.9,421.0 227.4,423.5 227.8,426.8 228.2,429.5 228.6,434.8 229.1,432.4 229.5,437.3 229.9,438.8 230.3,441.4 230.8,440.2 231.2,444.1" fill="none" stroke="#0000ff" stroke-width="3.5" stroke-linejoin="round" />
<polyline points="231.2,442.1 231.6,440.5 232.0,438.8 232.5,437.8 232.9,436.8 233.3,437.1 233.8,431.9 234.2,429.7 234.6,427.7 235.0,425.1 235.4,423.3 235.9,421.1 236.3,416.2 236.7,412.8 237.1,412.5 237.6,406.8 238.0,404.2 238.4,399.9 238.8,397.0 239.3,392.3 239.7,388.6 240.1,384.9 240.5,383.8 241.0,377.0 241.4,373.8 241.8,371.1 242.2,364.6 242.7,362.8 243.1,355.6 243.5,350.1 243.9,348.3 244.4,341.9 244.8,337.7 245.2,332.7 245.6,330.4 246.1,323.1 246.5,318.7 246.9,312.9 247.3,307.5 247.8,302.4 248.2,297.2" fill="none" stroke="#ff0000" stroke-width="3.5" stroke-linejoin="round" />
<polyline points="248.2,297.2 248.2,299.9 248.6,298.8 249.0,304.8 249.5,304.4 249.9,307.2 250.3,317.0 250.8,318.1 251.2,324.1 251.6,331.9 252.0,334.2 252.4,337.1 252.9,344.1 253.3,350.3 253.7,351.6 254.1,357.0 254.6,357.4 255.0,364.3 255.4,368.2 255.8,373.1 256.3,375.6 256.7,380.6 257.1,384.9 257.5,387.3 258.0,392.0 258.4,392.4 258.8,399.5 259.2,401.2 259.7,405.4 260.1,409.7 260.5,408.3 260.9,416.8 261.4,414.5 261.8,421.5 262.2,422.0 262.6,421.3 263.1,430.2 263.5,431.3 263.9,429.4 264.4,432.9 264.8,435.5 265.2,435.7" fill="none" stroke="#0000ff" stroke-width="3.5" stroke-linejoin="round" />
<polyline points="265.2,436.8 265.6,434.8 266.0,432.0 266.5,432.8 266.9,430.4 267.3,427.2 267.8,424.1 268.2,425.0 268.6,421.4 269.0,419.9 269.4,417.3 269.9,414.2 270.3,411.5 270.7,409.8 271.1,406.9 271.6,402.1 272.0,397.7 272.4,392.9 272.9,391.5 273.3,387.4 273.7,382.6 274.1,378.7 274.5,375.8 275.0,371.7 275.4,365.3 275.8,363.9 276.2,359.8 276.7,356.9 277.1,350.0 277.5,346.4 277.9,339.3 278.4,337.4 278.8,331.4 279.2,326.5 279.6,320.9 280.1,319.6 280.5,311.2 280.9,308.3 281.4,304.4 281.8,304.1 282.2,292.0" fill="none" stroke="#ff0000" stroke-width="3.5" stroke-linejoin="round" />
<polyline points="282.2,292.0 282.2,299.0 282.6,295.6 283.0,291.7 283.5,300.6 283.9,308.4 284.3,305.0 284.8,319.5 285.2,321.7 285.6,326.6 286.0,330.7 286.4,333.8 286.9,338.5 287.3,344.8 287.7,348.3 288.1,352.3 288.6,357.2 289.0,360.9 289.4,366.0 289.9,370.1 290.3,372.9 290.7,378.4 291.1,380.2 291.5,384.9 292.0,389.6 292.4,392.8 292.8,396.2 293.2,399.2 293.7,402.2 294.1,406.0 294.5,410.2 294.9,409.9 295.4,413.7 295.8,417.7 296.2,419.3 296.6,422.8 297.1,426.1 297.5,428.0 297.9,426.3 298.4,430.6 298.8,432.1 299.2,435.2" fill="none" stroke="#0000ff" stroke-width="3.5" stroke-linejoin="round" />
<polyline points="299.2,433.9 299.6,431.3 300.1,432.3 300.5,430.1 300.9,428.2 301.3,427.0 301.8,423.8 302.2,423.2 302.6,420.5 303.0,419.3 303.4,412.7 303.9,412.7 304.3,410.1 304.7,405.5 305.1,404.6 305.6,400.8 306.0,398.5 306.4,394.1 306.8,391.1 307.3,386.4 307.7,383.5 308.1,380.3 308.6,376.1 309.0,371.9 309.4,368.4 309.8,362.6 310.2,358.8 310.7,355.2 311.1,352.5 311.5,346.1 311.9,343.8 312.4,337.5 312.8,333.1 313.2,329.3 313.6,324.9 314.1,319.9 314.5,311.8 314.9,310.2 315.3,303.3 315.8,301.1 316.2,293.2" fill="none" stroke="#ff0000" stroke-width="3.5" stroke-linejoin="round" />
<polyline points="316.2,293.2 316.2,297.0 316.6,298.0 317.1,298.2 317.5,300.0 317.9,313.4 318.3,312.7 318.8,318.7 319.2,320.8 319.6,328.0 320.0,333.8 320.4,338.9 320.9,345.8 321.3,345.4 321.7,353.4 322.1,356.3 322.6,357.7 323.0,365.0 323.4,367.8 323.8,373.2 324.3,376.0 324.7,381.0 325.1,385.8 325.6,387.0 326.0,393.2 326.4,398.5 326.8,400.7 327.2,403.1 327.7,409.0 328.1,409.6 328.5,413.0 328.9,414.2 329.4,421.3 329.8,422.4 330.2,428.6 330.6,429.5 331.1,431.3 331.5,433.3 331.9,436.1 332.3,438.1 332.8,440.5 333.2,441.3" fill="none" stroke="#0000ff" stroke-width="3.5" stroke-linejoin="round" />
<polyline points="333.2,440.3 333.6,439.3 334.1,438.1 334.5,436.2 334.9,434.3 335.3,436.0 335.8,432.4 336.2,429.7 336.6,427.9 337.0,423.3 337.4,421.0 337.9,419.3 338.3,416.1 338.7,411.8 339.1,410.6 339.6,407.3 340.0,402.6 340.4,399.7 340.8,395.1 341.3,392.7 341.7,388.6 342.1,386.4 342.6,383.1 343.0,378.0 343.4,377.2 343.8,369.5 344.2,364.7 344.7,361.5 345.1,357.6 345.5,351.7 345.9,348.6 346.4,342.9 346.8,336.9 347.2,334.1 347.6,329.1 348.1,324.9 348.5,320.4 348.9,315.3 349.3,313.4 349.8,304.7 350.2,302.1" fill="none" stroke="#ff0000" stroke-width="3.5" stroke-linejoin="round" />
<polyline points="350.2,302.1 350.2,306.0 350.6,301.7 351.1,302.0 351.5,304.7 351.9,313.2 352.3,322.7 352.8,323.7 353.2,327.2 353.6,332.1 354.0,341.8 354.4,342.8 354.9,350.4 355.3,351.2 355.7,356.0 356.1,360.3 356.6,364.0 357.0,369.0 357.4,374.6 357.8,377.3 358.3,380.1 358.7,386.0 359.1,389.7 359.6,395.3 360.0,395.6 360.4,401.7 360.8,405.7 361.2,408.8 361.7,412.8 362.1,415.2 362.5,416.3 362.9,420.1 363.4,422.3 363.8,425.1 364.2,431.3 364.6,432.0 365.1,433.0 365.5,434.2 365.9,441.7 366.3,443.6 366.8,442.5 367.2,444.6" fill="none" stroke="#0000ff" stroke-width="3.5" stroke-linejoin="round" />
<polyline points="367.2,445.4 367.6,443.1 368.1,443.5 368.5,444.0 368.9,439.8 369.3,437.9 369.8,435.4 370.2,433.1 370.6,431.9 371.0,430.1 371.4,428.3 371.9,426.9 372.3,422.9 372.7,418.5 373.1,416.2 373.6,411.6 374.0,411.3 374.4,410.2 374.8,404.0 375.3,400.5 375.7,399.9 376.1,397.1 376.6,391.6 377.0,387.4 377.4,386.0 377.8,381.5 378.2,378.3 378.7,375.0 379.1,371.4 379.5,365.7 379.9,362.4 380.4,358.8 380.8,357.0 381.2,347.7 381.6,346.7 382.1,341.6 382.5,338.5 382.9,335.9 383.3,328.7 383.8,325.4 384.2,320.7" fill="none" stroke="#ff0000" stroke-width="3.5" stroke-linejoin="round" />
<polyline points="384.2,320.7 384.2,318.2 384.6,327.5 385.1,322.6 385.5,330.6 385.9,331.3 386.3,334.4 386.8,340.7 387.2,344.5 387.6,349.3 388.0,354.8 388.4,358.4 388.9,364.5 389.3,366.7 389.7,371.3 390.1,374.5 390.6,376.9 391.0,381.3 391.4,384.9 391.8,387.7 392.3,396.4 392.7,396.0 393.1,400.2 393.6,403.7 394.0,408.9 394.4,409.5 394.8,412.0 395.2,415.3 395.7,420.0 396.1,422.0 396.5,424.5 396.9,426.1 397.4,429.7 397.8,433.9 398.2,436.5 398.6,438.8 399.1,441.0 399.5,444.1 399.9,444.3 400.3,448.1 400.8,449.7 401.2,448.9" fill="none" stroke="#0000ff" stroke-width="3.5" stroke-linejoin="round" />
<polyline points="401.2,450.1 401.6,449.1 402.1,450.2 402.5,445.4 402.9,444.8 403.3,443.2 403.8,440.5 404.2,438.8 404.6,437.6 405.0,432.0 405.4,432.5 405.9,428.2 406.3,424.4 406.7,424.6 407.1,420.8 407.6,418.9 408.0,413.6 408.4,412.0 408.8,409.7 409.3,403.4 409.7,400.5 410.1,399.1 410.6,393.1 411.0,390.6 411.4,383.9 411.8,381.3 412.2,380.1 412.7,375.8 413.1,372.5 413.5,367.3 413.9,363.2 414.4,358.2 414.8,354.7 415.2,352.3 415.6,347.1 416.1,340.0 416.5,335.8 416.9,333.2 417.3,328.2 417.8,323.3 418.2,319.1" fill="none" stroke="#ff0000" stroke-width="3.5" stroke-linejoin="round" />
<polyline points="418.2,319.1 418.2,330.8 418.6,320.3 419.1,317.8 419.5,335.6 419.9,325.5 420.3,333.6 420.8,342.3 421.2,349.5 421.6,345.8 422.0,351.1 422.4,354.5 422.9,359.6 423.3,364.2 423.7,365.6 424.1,371.9 424.6,372.9 425.0,380.2 425.4,382.7 425.8,387.0 426.3,386.5 426.7,394.3 427.1,396.7 427.6,397.4 428.0,401.3 428.4,401.6 428.8,405.2 429.2,410.0 429.7,412.8 430.1,419.3 430.5,420.7 430.9,422.6 431.4,425.0 431.8,429.2 432.2,430.9 432.6,433.1 433.1,432.5 433.5,435.4 433.9,438.3 434.3,439.9 434.8,440.4 435.2,442.7" fill="none" stroke="#0000ff" stroke-width="3.5" stroke-linejoin="round" />
<polyline points="435.2,442.0 435.6,443.2 436.1,439.3 436.5,437.6 436.9,436.8 437.3,434.9 437.7,433.2 438.2,429.1 438.6,429.1 439.0,428.7 439.4,425.9 439.9,421.3 440.3,418.3 440.7,415.9 441.2,413.0 441.6,410.8 442.0,409.8 442.4,405.8 442.8,404.0 443.3,399.0 443.7,396.8 444.1,391.7 444.6,388.5 445.0,387.1 445.4,380.3 445.8,376.5 446.2,375.4 446.7,369.7 447.1,365.1 447.5,362.4 447.9,357.0 448.4,353.7 448.8,348.5 449.2,345.4 449.7,341.6 450.1,336.5 450.5,331.8 450.9,329.1 451.3,325.7 451.8,319.5 452.2,314.7" fill="none" stroke="#ff0000" stroke-width="3.5" stroke-linejoin="round" />
<polyline points="452.2,314.7 452.2,317.3 452.6,316.6 453.1,313.4 453.5,318.7 453.9,329.8 454.3,330.2 454.7,337.2 455.2,340.5 455.6,344.5 456.0,349.1 456.4,354.2 456.9,359.7 457.3,359.8 457.7,362.2 458.2,369.1 458.6,370.8 459.0,375.8 459.4,378.5 459.8,383.7 460.3,386.4 460.7,389.7 461.1,396.4 461.6,396.0 462.0,399.8 462.4,406.4 462.8,405.1 463.2,409.1 463.7,411.8 464.1,414.5 464.5,418.5 464.9,422.2 465.4,424.0 465.8,426.5 466.2,425.1 466.7,428.0 467.1,433.6 467.5,435.5 467.9,436.3 468.3,437.6 468.8,440.8 469.2,442.2" fill="none" stroke="#0000ff" stroke-width="3.5" stroke-linejoin="round" />
<polyline points="469.2,438.4 469.6,438.9 470.1,441.1 470.5,440.1 470.9,437.5 471.3,434.7 471.7,432.5 472.2,431.7 472.6,431.2 473.0,426.8 473.4,424.1 473.9,422.5 474.3,420.7 474.7,416.8 475.2,414.9 475.6,413.5 476.0,409.2 476.4,408.0 476.8,402.3 477.3,399.9 477.7,398.6 478.1,393.9 478.6,389.4 479.0,390.2 479.4,384.4 479.8,378.8 480.2,379.2 480.7,373.9 481.1,371.8 481.5,366.5 481.9,365.6 482.4,360.8 482.8,355.6 483.2,350.9 483.7,346.7 484.1,342.6 484.5,337.6 484.9,333.6 485.3,332.4 485.8,325.2 486.2,320.9" fill="none" stroke="#ff0000" stroke-width="3.5" stroke-linejoin="round" />
<polyline points="486.2,320.9 486.2,321.0 486.6,326.4 487.1,320.9 487.5,332.1 487.9,335.1 488.3,330.4 488.7,351.1 489.2,345.5 489.6,353.4 490.0,355.7 490.4,358.7 490.9,363.0 491.3,366.0 491.7,371.1 492.2,373.8 492.6,379.0 493.0,381.5 493.4,386.5 493.8,386.9 494.3,393.2 494.7,393.7 495.1,398.6 495.6,401.7 496.0,402.7 496.4,407.4 496.8,413.5 497.2,412.9 497.7,420.8 498.1,419.0 498.5,422.7 498.9,426.9 499.4,427.3 499.8,430.3 500.2,429.3 500.7,435.1 501.1,433.7 501.5,436.6 501.9,441.3 502.3,443.2 502.8,441.4 503.2,444.4" fill="none" stroke="#0000ff" stroke-width="3.5" stroke-linejoin="round" />
<polyline points="503.2,444.0 503.6,444.0 504.1,444.2 504.5,441.9 504.9,441.1 505.3,440.2 505.7,436.9 506.2,432.4 506.6,430.5 507.0,430.4 507.4,427.9 507.9,425.0 508.3,421.5 508.7,420.2 509.2,418.5 509.6,415.6 510.0,410.9 510.4,406.1 510.8,407.1 511.3,405.8 511.7,399.0 512.1,396.9 512.5,393.3 513.0,388.6 513.4,386.6 513.8,384.8 514.2,382.0 514.7,376.0 515.1,373.7 515.5,368.1 516.0,366.3 516.4,361.2 516.8,358.7 517.2,353.3 517.7,349.4 518.1,344.0 518.5,338.9 518.9,338.8 519.3,330.9 519.8,326.6 520.2,322.2" fill="none" stroke="#ff0000" stroke-width="3.5" stroke-linejoin="round" />
<polyline points="520.2,322.2 520.2,323.4 520.6,323.0 521.0,331.2 521.5,334.4 521.9,336.6 522.3,339.9 522.8,344.3 523.2,347.2 523.6,352.3 524.0,357.0 524.5,362.7 524.9,362.9 525.3,367.1 525.7,373.1 526.2,374.8 526.6,378.6 527.0,382.7 527.4,389.2 527.8,391.7 528.3,394.3 528.7,394.4 529.1,401.5 529.5,404.0 530.0,408.4 530.4,410.6 530.8,412.5 531.2,419.1 531.7,423.2 532.1,420.8 532.5,424.6 533.0,428.2 533.4,428.5 533.8,431.0 534.2,438.0 534.7,437.4 535.1,437.6 535.5,442.3 535.9,443.6 536.3,443.3 536.8,446.5 537.2,448.8" fill="none" stroke="#0000ff" stroke-width="3.5" stroke-linejoin="round" />
<polyline points="537.2,447.8 537.6,448.1 538.0,444.9 538.5,446.6 538.9,441.9 539.3,443.8 539.8,440.0 540.2,440.2 540.6,436.9 541.0,433.3 541.5,431.1 541.9,428.8 542.3,428.3 542.7,425.7 543.2,423.2 543.6,420.2 544.0,418.9 544.4,414.4 544.8,412.7 545.3,408.9 545.7,406.9 546.1,403.8 546.5,402.6 547.0,399.2 547.4,397.2 547.8,392.8 548.2,389.5 548.7,385.0 549.1,384.3 549.5,375.3 550.0,376.1 550.4,371.0 550.8,367.7 551.2,368.6 551.7,362.2 552.1,356.4 552.5,357.5 552.9,352.1 553.3,347.0 553.8,345.0 554.2,342.0" fill="none" stroke="#ff0000" stroke-width="3.5" stroke-linejoin="round" />
<polyline points="554.2,342.0 554.2,339.0 554.6,337.9 555.0,342.1 555.5,345.3 555.9,351.7 556.3,358.3 556.8,358.3 557.2,357.2 557.6,366.7 558.0,369.5 558.5,374.9 558.9,374.5 559.3,384.4 559.7,384.7 560.2,388.3 560.6,392.2 561.0,397.8 561.4,401.3 561.8,403.3 562.3,406.1 562.7,411.3 563.1,414.3 563.5,415.0 564.0,417.4 564.4,422.8 564.8,426.0 565.2,428.9 565.7,427.0 566.1,432.7 566.5,436.2 567.0,437.2 567.4,437.7 567.8,441.8 568.2,448.0 568.7,448.2 569.1,450.7 569.5,452.6 569.9,455.6 570.3,456.0 570.8,458.3 571.2,457.0" fill="none" stroke="#0000ff" stroke-width="3.5" stroke-linejoin="round" />
<polyline points="571.2,457.4 571.6,458.7 572.0,458.2 572.5,455.5 572.9,452.8 573.3,451.5 573.8,450.5 574.2,452.8 574.6,447.4 575.0,445.7 575.5,443.1 575.9,442.1 576.3,438.8 576.7,436.7 577.2,430.0 577.6,430.0 578.0,428.5 578.4,425.7 578.8,423.0 579.3,419.8 579.7,417.7 580.1,414.2 580.5,409.9 581.0,407.0 581.4,404.5 581.8,400.1 582.2,398.2 582.7,396.4 583.1,394.0 583.5,389.2 584.0,384.9 584.4,380.8 584.8,376.4 585.2,374.8 585.7,371.4 586.1,365.7 586.5,361.4 586.9,358.9 587.3,353.9 587.8,356.6 588.2,345.9" fill="none" stroke="#ff0000" stroke-width="3.5" stroke-linejoin="round" />
<polyline points="588.2,345.9 588.2,349.4 588.6,351.7 589.0,356.3 589.5,355.2 589.9,358.8 590.3,357.4 590.8,370.1 591.2,362.9 591.6,371.9 592.0,373.4 592.5,380.0 592.9,381.3 593.3,383.2 593.7,388.0 594.2,393.5 594.6,394.9 595.0,396.6 595.4,402.6 595.8,405.6 596.3,406.0 596.7,410.6 597.1,411.0 597.5,416.5 598.0,420.2 598.4,421.3 598.8,420.5 599.2,426.6 599.7,427.7 600.1,429.8 600.5,433.9 601.0,433.1 601.4,436.7 601.8,438.4 602.2,443.6 602.7,445.6 603.1,448.9 603.5,446.8 603.9,448.4 604.3,448.3 604.8,448.3 605.2,451.6" fill="none" stroke="#0000ff" stroke-width="3.5" stroke-linejoin="round" />
<polyline points="605.2,451.6 605.6,450.2 606.0,448.0 606.5,449.8 606.9,446.7 607.3,446.3 607.8,444.9 608.2,441.7 608.6,441.9 609.0,440.4 609.5,436.2 609.9,434.9 610.3,433.0 610.7,430.6 611.2,427.4 611.6,426.1 612.0,422.1 612.4,420.0 612.8,416.0 613.3,413.6 613.7,411.3 614.1,409.8 614.5,406.4 615.0,404.4 615.4,397.0 615.8,397.8 616.2,393.7 616.7,389.5 617.1,389.6 617.5,385.6 618.0,381.7 618.4,379.1 618.8,375.9 619.2,371.5 619.7,365.7 620.1,362.8 620.5,360.0 620.9,360.5 621.3,351.3 621.8,349.7 622.2,346.6" fill="none" stroke="#ff0000" stroke-width="3.5" stroke-linejoin="round" />
<polyline points="622.2,346.6 622.2,351.5 622.6,350.3 623.0,352.9 623.5,351.0 623.9,355.1 624.3,358.9 624.8,364.6 625.2,369.0 625.6,367.8 626.0,377.2 626.5,376.1 626.9,380.8 627.3,384.6 627.7,388.8 628.2,391.7 628.6,396.4 629.0,400.0 629.4,401.2 629.8,406.7 630.3,406.0 630.7,408.6 631.1,418.4 631.5,418.5 632.0,418.6 632.4,421.5 632.8,424.4 633.2,426.6 633.7,428.8 634.1,431.1 634.5,432.2 635.0,437.3 635.4,438.3 635.8,444.3 636.2,444.2 636.7,447.8 637.1,445.8 637.5,446.2 637.9,450.5 638.3,454.7 638.8,454.1 639.2,454.7" fill="none" stroke="#0000ff" stroke-width="3.5" stroke-linejoin="round" />
<polyline points="639.2,454.5 639.6,452.9 640.0,452.1 640.5,455.5 640.9,449.2 641.3,450.0 641.8,448.5 642.2,444.3 642.6,444.6 643.0,444.0 643.5,441.9 643.9,438.0 644.3,434.7 644.7,431.6 645.2,431.3 645.6,429.2 646.0,424.0 646.4,424.0 646.8,418.9 647.3,417.7 647.7,414.8 648.1,412.5 648.5,408.9 649.0,406.8 649.4,404.0 649.8,400.1 650.2,397.6 650.7,393.1 651.1,390.1 651.5,387.1 652.0,383.6 652.4,380.2 652.8,374.2 653.2,372.8 653.7,369.9 654.1,365.9 654.5,361.0 654.9,358.7 655.3,354.2 655.8,349.1 656.2,351.2" fill="none" stroke="#ff0000" stroke-width="3.5" stroke-linejoin="round" />
<polyline points="656.2,351.2 656.2,359.6 656.6,345.8 657.0,346.1 657.5,349.0 657.9,357.3 658.3,356.8 658.8,365.1 659.2,369.0 659.6,374.3 660.0,376.6 660.5,379.7 660.9,380.8 661.3,383.0 661.7,389.5 662.2,391.5 662.6,394.9 663.0,399.6 663.4,404.1 663.8,405.7 664.3,409.8 664.7,411.1 665.1,413.7 665.5,416.7 666.0,419.5 666.4,421.2 666.8,426.0 667.2,426.0 667.7,432.4 668.1,432.3 668.5,434.2 669.0,438.3 669.4,441.8 669.8,440.6 670.2,444.7 670.7,444.5 671.1,446.4 671.5,449.3 671.9,450.9 672.3,450.8 672.8,452.9 673.2,455.6" fill="none" stroke="#0000ff" stroke-width="3.5" stroke-linejoin="round" />
<polyline points="673.2,454.0 673.6,453.0 674.0,452.5 674.5,451.4 674.9,450.4 675.3,448.9 675.8,448.2 676.2,447.1 676.6,442.0 677.0,442.1 677.5,438.9 677.9,438.8 678.3,434.4 678.7,433.3 679.2,426.0 679.6,428.4 680.0,425.7 680.4,420.6 680.8,417.6 681.3,418.7 681.7,412.8 682.1,409.0 682.5,408.6 683.0,403.1 683.4,401.4 683.8,398.7 684.2,394.6 684.7,391.3 685.1,389.0 685.5,381.0 686.0,380.8 686.4,377.6 686.8,372.0 687.2,369.4 687.7,363.9 688.1,362.1 688.5,357.5 688.9,353.5 689.3,350.6 689.8,345.7 690.2,343.6" fill="none" stroke="#ff0000" stroke-width="3.5" stroke-linejoin="round" />
<polyline points="690.2,343.6 690.2,342.3 690.6,343.0 691.0,342.4 691.5,355.2 691.9,352.6 692.3,358.0 692.8,362.1 693.2,364.0 693.6,371.1 694.0,371.3 694.5,375.0 694.9,380.8 695.3,382.3 695.7,383.2 696.2,389.5 696.6,391.3 697.0,395.8 697.4,399.9 697.8,403.2 698.3,405.5 698.7,406.1 699.1,409.8 699.5,415.0 700.0,415.4 700.4,419.9 700.8,423.5 701.2,424.6 701.7,429.2 702.1,432.8 702.5,431.0 703.0,438.1 703.4,436.9 703.8,442.2 704.2,442.1 704.7,444.4 705.1,446.7 705.5,451.1 705.9,449.7 706.3,451.0 706.8,453.5 707.2,453.1" fill="none" stroke="#0000ff" stroke-width="3.5" stroke-linejoin="round" />
<polyline points="707.2,451.8 707.6,453.4 708.0,451.3 708.5,451.9 708.9,448.7 709.3,446.9 709.8,443.0 710.2,443.2 710.6,442.0 711.0,438.8 711.5,439.7 711.9,435.0 712.3,434.8 712.7,432.6 713.2,428.1 713.6,426.6 714.0,422.7 714.4,423.5 714.9,418.7 715.3,416.9 715.7,413.8 716.1,412.9 716.5,406.4 717.0,404.3 717.4,402.7 717.8,400.0 718.2,396.2 718.7,390.2 719.1,388.7 719.5,385.6 720.0,381.2 720.4,378.3 720.8,374.5 721.2,370.3 721.7,367.2 722.1,362.9 722.5,361.7 722.9,357.3 723.4,352.7 723.8,350.5 724.2,345.2" fill="none" stroke="#ff0000" stroke-width="3.5" stroke-linejoin="round" />
<polyline points="724.2,345.2 724.2,352.4 724.6,345.2 725.0,345.1 725.5,353.5 725.9,355.5 726.3,362.7 726.8,363.7 727.2,361.9 727.6,368.4 728.0,372.7 728.5,376.6 728.9,381.9 729.3,382.2 729.7,385.2 730.2,387.4 730.6,389.1 731.0,394.6 731.4,396.7 731.9,402.7 732.3,402.2 732.7,405.6 733.1,407.7 733.5,411.5 734.0,414.5 734.4,415.6 734.8,421.4 735.2,422.0 735.7,423.8 736.1,429.0 736.5,431.9 737.0,431.8 737.4,434.4 737.8,435.8 738.2,437.8 738.7,441.8 739.1,442.0 739.5,442.5 739.9,446.2 740.4,447.5 740.8,449.8 741.2,447.7" fill="none" stroke="#0000ff" stroke-width="3.5" stroke-linejoin="round" />
<polyline points="741.2,446.6 741.6,450.1 742.0,446.6 742.5,445.3 742.9,445.8 743.3,444.1 743.8,443.4 744.2,441.3 744.6,438.4 745.0,435.8 745.5,434.5 745.9,431.4 746.3,430.0 746.7,429.4 747.2,423.8 747.6,421.7 748.0,421.5 748.4,415.8 748.9,414.7 749.3,412.4 749.7,407.4 750.1,409.9 750.5,405.9 751.0,400.1 751.4,398.2 751.8,396.0 752.2,389.8 752.7,387.8 753.1,386.7 753.5,382.6 754.0,377.4 754.4,372.8 754.8,373.9 755.2,367.7 755.7,364.8 756.1,362.9 756.5,357.3 756.9,356.6 757.4,348.4 757.8,344.6 758.2,340.7" fill="none" stroke="#ff0000" stroke-width="3.5" stroke-linejoin="round" />
<polyline points="758.2,340.7 758.2,348.9 758.6,345.7 759.0,342.5 759.5,352.3 759.9,354.7 760.3,351.8 760.8,354.1 761.2,365.9 761.6,368.3 762.0,369.6 762.5,373.5 762.9,378.2 763.3,379.6 763.7,382.9 764.2,386.8 764.6,385.8 765.0,391.3 765.4,395.1 765.9,397.9 766.3,398.0 766.7,403.7 767.1,409.2 767.5,410.5 768.0,413.7 768.4,417.3 768.8,418.8 769.2,421.4 769.7,424.4 770.1,427.5 770.5,427.9 771.0,433.8 771.4,432.5 771.8,435.9 772.2,437.5 772.7,443.4 773.1,439.3 773.5,446.0 773.9,446.3 774.4,445.5 774.8,448.5 775.2,449.0" fill="none" stroke="#0000ff" stroke-width="3.5" stroke-linejoin="round" />
<polyline points="775.2,451.1 775.6,448.4 776.0,446.7 776.5,444.9 776.9,444.7 777.3,442.5 777.8,440.6 778.2,440.1 778.6,438.3 779.0,432.9 779.5,434.2 779.9,429.4 780.3,428.4 780.7,424.2 781.2,424.3 781.6,420.3 782.0,417.8 782.4,415.7 782.9,412.2 783.3,410.6 783.7,406.8 784.1,404.1 784.5,399.6 785.0,397.4 785.4,395.7 785.8,391.2 786.2,387.5 786.7,385.0 787.1,378.8 787.5,376.4 788.0,372.2 788.4,370.6 788.8,366.4 789.2,360.9 789.7,360.1 790.1,354.0 790.5,350.4 790.9,346.9 791.4,343.2 791.8,343.0 792.2,334.3" fill="none" stroke="#ff0000" stroke-width="3.5" stroke-linejoin="round" />
<polyline points="792.2,334.3 792.2,345.1 792.6,333.2 793.0,341.3 793.5,356.0 793.9,346.2 794.3,346.0 794.8,352.0 795.2,350.3 795.6,361.0 796.0,363.5 796.5,369.5 796.9,371.3 797.3,372.7 797.7,377.7 798.2,381.6 798.6,388.1 799.0,389.0 799.4,393.6 799.9,393.7 800.3,399.1 800.7,400.6 801.1,405.7 801.5,404.4 802.0,411.8 802.4,412.8 802.8,411.9 803.2,418.2 803.7,422.5 804.1,422.9 804.5,424.9 805.0,427.5 805.4,434.1 805.8,433.1 806.2,438.7 806.7,434.9 807.1,439.5 807.5,442.1 807.9,442.1 808.4,443.9 808.8,447.6 809.2,444.2" fill="none" stroke="#0000ff" stroke-width="3.5" stroke-linejoin="round" />
<polyline points="809.2,446.9 809.6,448.3 810.0,443.5 810.5,442.2 810.9,441.2 811.3,440.6 811.8,440.7 812.2,436.7 812.6,433.7 813.0,433.0 813.5,429.9 813.9,430.6 814.3,426.1 814.7,423.9 815.2,424.4 815.6,422.1 816.0,418.3 816.4,414.7 816.9,411.4 817.3,409.5 817.7,406.4 818.1,403.5 818.5,400.2 819.0,396.5 819.4,393.5 819.8,390.9 820.2,387.3 820.7,384.8 821.1,379.9 821.5,378.1 822.0,372.0 822.4,370.5 822.8,366.5 823.2,364.2 823.7,360.0 824.1,355.6 824.5,352.0 824.9,351.7 825.4,343.7 825.8,339.2 826.2,341.6" fill="none" stroke="#ff0000" stroke-width="3.5" stroke-linejoin="round" />
<polyline points="826.2,341.6 826.2,339.3 826.6,346.1 827.0,345.4 827.5,340.1 827.9,345.9 828.3,354.5 828.8,358.3 829.2,359.9 829.6,366.0 830.0,366.4 830.5,371.3 830.9,371.6 831.3,379.5 831.7,379.9 832.2,385.9 832.6,386.8 833.0,393.2 833.4,394.0 833.9,399.0 834.3,402.8 834.7,405.0 835.1,407.1 835.5,410.3 836.0,411.6 836.4,415.6 836.8,423.7 837.2,423.2 837.7,428.3 838.1,428.5 838.5,429.6 839.0,435.1 839.4,437.3 839.8,437.6 840.2,440.5 840.7,439.8 841.1,443.7 841.5,445.3 841.9,445.2 842.4,450.0 842.8,450.5 843.2,452.8" fill="none" stroke="#0000ff" stroke-width="3.5" stroke-linejoin="round" />
<polyline points="843.2,451.1 843.6,449.6 844.0,448.3 844.5,449.0 844.9,448.5 845.3,447.2 845.8,446.4 846.2,442.8 846.6,439.5 847.0,442.3 847.5,440.0 847.9,433.5 848.3,435.1 848.7,430.4 849.2,430.0 849.6,425.1 850.0,422.6 850.4,420.8 850.9,417.4 851.3,415.6 851.7,412.2 852.1,407.8 852.5,405.9 853.0,405.1 853.4,402.3 853.8,398.6 854.2,395.4 854.7,391.9 855.1,389.5 855.5,384.7 856.0,382.1 856.4,378.4 856.8,375.4 857.2,371.2 857.7,369.9 858.1,362.9 858.5,360.8 858.9,356.4 859.4,352.7 859.8,350.1 860.2,347.7" fill="none" stroke="#ff0000" stroke-width="3.5" stroke-linejoin="round" />
<polyline points="860.2,347.7 860.2,349.9 860.6,349.9 861.0,345.2 861.5,361.1 861.9,357.0 862.3,355.8 862.8,360.3 863.2,362.6 863.6,373.0 864.0,375.9 864.5,376.9 864.9,381.5 865.3,381.8 865.7,387.2 866.2,390.4 866.6,393.1 867.0,397.3 867.4,399.7 867.9,403.9 868.3,405.9 868.7,409.4 869.1,411.1 869.5,416.4 870.0,419.3 870.4,419.0 870.8,422.0 871.2,426.3 871.7,427.7 872.1,431.4 872.5,429.1 873.0,436.8 873.4,434.1 873.8,440.0 874.2,440.2 874.7,443.1 875.1,445.1 875.5,444.8 875.9,446.6 876.4,449.6 876.8,451.7 877.2,448.0" fill="none" stroke="#0000ff" stroke-width="3.5" stroke-linejoin="round" />
<polyline points="877.2,449.3 877.6,450.4 878.0,450.1 878.5,448.2 878.9,447.2 879.3,444.3 879.8,445.4 880.2,442.5 880.6,441.6 881.0,437.1 881.5,434.4 881.9,434.7 882.3,431.7 882.7,428.3 883.2,428.0 883.6,426.3 884.0,421.3 884.4,419.4 884.9,417.6 885.3,412.7 885.7,411.4 886.1,411.1 886.5,405.5 887.0,403.0 887.4,397.5 887.8,396.7 888.2,393.8 888.7,389.7 889.1,386.7 889.5,385.4 890.0,380.1 890.4,377.2 890.8,371.5 891.2,366.8 891.7,367.6 892.1,363.7 892.5,359.9 892.9,357.4 893.4,350.2 893.8,352.7 894.2,342.9" fill="none" stroke="#ff0000" stroke-width="3.5" stroke-linejoin="round" />
<polyline points="894.2,342.9 894.2,342.4 894.6,352.0 895.0,353.8 895.5,350.5 895.9,350.3 896.3,354.2 896.8,361.0 897.2,362.6 897.6,368.6 898.0,373.4 898.5,373.1 898.9,379.3 899.3,384.4 899.7,386.7 900.2,391.6 900.6,392.4 901.0,394.0 901.4,400.6 901.9,400.1 902.3,401.7 902.7,407.3 903.1,412.5 903.5,414.9 904.0,416.9 904.4,421.1 904.8,423.8 905.2,424.9 905.7,427.4 906.1,428.7 906.5,433.8 907.0,431.6 907.4,435.1 907.8,437.5 908.2,441.9 908.7,440.3 909.1,445.3 909.5,443.9 909.9,446.6 910.4,451.0 910.8,451.5 911.2,448.7" fill="none" stroke="#0000ff" stroke-width="3.5" stroke-linejoin="round" />
<polyline points="911.2,450.3 911.6,451.3 912.0,450.0 912.5,448.9 912.9,448.9 913.3,446.8 913.8,445.8 914.2,443.9 914.6,441.0 915.0,440.9 915.5,436.8 915.9,435.6 916.3,432.6 916.7,430.2 917.2,427.5 917.6,425.9 918.0,423.4 918.4,421.9 918.9,418.4 919.3,417.6 919.7,414.1 920.1,410.1 920.5,408.3 921.0,404.7 921.4,403.7 921.8,397.6 922.2,397.0 922.7,392.7 923.1,390.1 923.5,385.6 924.0,384.0 924.4,381.5 924.8,379.2 925.2,373.8 925.7,371.5 926.1,365.8 926.5,361.2 926.9,365.1 927.4,354.6 927.8,350.9 928.2,347.2" fill="none" stroke="#ff0000" stroke-width="3.5" stroke-linejoin="round" />
<polyline points="928.2,347.2 928.2,347.2 928.6,348.1 929.0,356.9 929.5,357.2 929.9,357.9 930.3,365.3 930.8,366.4 931.2,370.7 931.6,373.1 932.0,374.2 932.5,379.0 932.9,383.2 933.3,385.7 933.7,387.6 934.2,387.5 934.6,393.3 935.0,394.4 935.4,398.8 935.9,405.6 936.3,404.6 936.7,409.2 937.1,412.6 937.5,414.9 938.0,413.2 938.4,420.8 938.8,421.8 939.2,421.6 939.7,424.7 940.1,430.6 940.5,430.4 941.0,433.2 941.4,434.9 941.8,435.4 942.2,439.4 942.7,440.8 943.1,439.9 943.5,446.5 943.9,445.8 944.4,445.8 944.8,449.5 945.2,449.3" fill="none" stroke="#0000ff" stroke-width="3.5" stroke-linejoin="round" />
<polyline points="945.2,450.0 945.6,447.6 946.0,447.8 946.5,444.9 946.9,443.4 947.3,443.2 947.8,442.2 948.2,439.7 948.6,438.2 949.0,438.0 949.5,433.1 949.9,432.1 950.3,429.3 950.7,429.8 951.2,424.6 951.6,420.7 952.0,420.1 952.4,420.2 952.9,415.8 953.3,413.2 953.7,410.2 954.1,408.0 954.5,404.2 955.0,402.5 955.4,398.7 955.8,396.9 956.2,392.8 956.7,388.5 957.1,387.3 957.5,382.6 958.0,381.3 958.4,377.3 958.8,373.7 959.2,368.5 959.7,367.5 960.1,361.5 960.5,361.4 960.9,354.8 961.4,353.7 961.8,347.7 962.2,344.8" fill="none" stroke="#ff0000" stroke-width="3.5" stroke-linejoin="round" />
<polyline points="962.2,344.8 962.2,349.2 962.6,347.2 963.0,343.7 963.5,346.0 963.9,352.5 964.3,365.1 964.8,361.8 965.2,366.4 965.6,370.5 966.0,371.8 966.5,379.8 966.9,380.1 967.3,383.8 967.7,388.4 968.2,387.9 968.6,395.6 969.0,396.8 969.4,399.9 969.9,406.4 970.3,408.3 970.7,410.6 971.1,410.8 971.5,413.5 972.0,416.8 972.4,420.1 972.8,426.5 973.2,425.5 973.7,429.2 974.1,429.1 974.5,431.3 975.0,432.3 975.4,436.9 975.8,438.9 976.2,443.8 976.7,444.1 977.1,448.0 977.5,446.5 977.9,451.3 978.4,451.2 978.8,453.3 979.2,453.5" fill="none" stroke="#0000ff" stroke-width="3.5" stroke-linejoin="round" />
<polyline points="979.2,452.3 979.6,453.1 980.0,451.2 980.5,451.7 980.9,447.5 981.3,448.7 981.8,445.1 982.2,442.0 982.6,446.1 983.0,442.4 983.5,439.5 983.9,435.7 984.3,435.7 984.7,432.4 985.2,431.5 985.6,427.5 986.0,427.4 986.4,422.3 986.9,424.6 987.3,420.6 987.7,413.2 988.1,412.6 988.5,411.1 989.0,404.3 989.4,402.9 989.8,399.8 990.2,398.8 990.7,394.4 991.1,391.4 991.5,391.0 992.0,384.9 992.4,382.6 992.8,377.4 993.2,374.0 993.7,373.1 994.1,369.6 994.5,365.1 994.9,361.8 995.4,357.0 995.8,353.4 996.2,352.6" fill="none" stroke="#ff0000" stroke-width="3.5" stroke-linejoin="round" />
<polyline points="996.2,352.6 996.2,360.4 996.6,349.9 997.0,355.8 997.5,359.2 997.9,362.1 998.3,370.6 998.8,368.9 999.2,381.1 999.6,374.3 1000.0,378.1 1000.5,377.0 1000.9,382.1 1001.3,386.0 1001.7,388.4 1002.2,390.4 1002.6,395.5 1003.0,397.5 1003.4,400.5 1003.9,398.8 1004.3,405.2 1004.7,411.0 1005.1,409.3 1005.5,409.1 1006.0,417.0 1006.4,412.7 1006.8,420.5 1007.2,421.2 1007.7,425.9 1008.1,427.6 1008.5,431.3 1009.0,433.1 1009.4,436.8 1009.8,433.6 1010.2,439.0 1010.7,438.4 1011.1,440.1 1011.5,443.2 1011.9,443.5 1012.4,445.0 1012.8,446.7 1013.2,446.5" fill="none" stroke="#0000ff" stroke-width="3.5" stroke-linejoin="round" />
</g>
<rect x="130" y="31.5" width="915.5" height="445.5" fill="none" stroke="#000" stroke-width="2.3"/>
<line x1="130" y1="254" x2="1045.5" y2="254" stroke="#000" stroke-width="2.3" />
<line x1="163.2" y1="254" x2="163.2" y2="241" stroke="#000" stroke-width="2" />
<line x1="197.2" y1="254" x2="197.2" y2="247" stroke="#000" stroke-width="2" />
<line x1="231.2" y1="254" x2="231.2" y2="247" stroke="#000" stroke-width="2" />
<line x1="265.2" y1="254" x2="265.2" y2="247" stroke="#000" stroke-width="2" />
<line x1="299.2" y1="254" x2="299.2" y2="247" stroke="#000" stroke-width="2" />
<line x1="333.2" y1="254" x2="333.2" y2="241" stroke="#000" stroke-width="2" />
<line x1="367.2" y1="254" x2="367.2" y2="247" stroke="#000" stroke-width="2" />
<line x1="401.2" y1="254" x2="401.2" y2="247" stroke="#000" stroke-width="2" />
<line x1="435.2" y1="254" x2="435.2" y2="247" stroke="#000" stroke-width="2" />
<line x1="469.2" y1="254" x2="469.2" y2="247" stroke="#000" stroke-width="2" />
<line x1="503.2" y1="254" x2="503.2" y2="241" stroke="#000" stroke-width="2" />
<line x1="537.2" y1="254" x2="537.2" y2="247" stroke="#000" stroke-width="2" />
<line x1="571.2" y1="254" x2="571.2" y2="247" stroke="#000" stroke-width="2" />
<line x1="605.2" y1="254" x2="605.2" y2="247" stroke="#000" stroke-width="2" />
<line x1="639.2" y1="254" x2="639.2" y2="247" stroke="#000" stroke-width="2" />
<line x1="673.2" y1="254" x2="673.2" y2="241" stroke="#000" stroke-width="2" />
<line x1="707.2" y1="254" x2="707.2" y2="247" stroke="#000" stroke-width="2" />
<line x1="741.2" y1="254" x2="741.2" y2="247" stroke="#000" stroke-width="2" />
<line x1="775.2" y1="254" x2="775.2" y2="247" stroke="#000" stroke-width="2" />
<line x1="809.2" y1="254" x2="809.2" y2="247" stroke="#000" stroke-width="2" />
<line x1="843.2" y1="254" x2="843.2" y2="241" stroke="#000" stroke-width="2" />
<line x1="877.2" y1="254" x2="877.2" y2="247" stroke="#000" stroke-width="2" />
<line x1="911.2" y1="254" x2="911.2" y2="247" stroke="#000" stroke-width="2" />
<line x1="945.2" y1="254" x2="945.2" y2="247" stroke="#000" stroke-width="2" />
<line x1="979.2" y1="254" x2="979.2" y2="247" stroke="#000" stroke-width="2" />
<line x1="1013.2" y1="254" x2="1013.2" y2="241" stroke="#000" stroke-width="2" />
<line x1="163.2" y1="477" x2="163.2" y2="464" stroke="#000" stroke-width="2" />
<line x1="197.2" y1="477" x2="197.2" y2="470" stroke="#000" stroke-width="2" />
<line x1="231.2" y1="477" x2="231.2" y2="470" stroke="#000" stroke-width="2" />
<line x1="265.2" y1="477" x2="265.2" y2="470" stroke="#000" stroke-width="2" />
<line x1="299.2" y1="477" x2="299.2" y2="470" stroke="#000" stroke-width="2" />
<line x1="333.2" y1="477" x2="333.2" y2="464" stroke="#000" stroke-width="2" />
<line x1="367.2" y1="477" x2="367.2" y2="470" stroke="#000" stroke-width="2" />
<line x1="401.2" y1="477" x2="401.2" y2="470" stroke="#000" stroke-width="2" />
<line x1="435.2" y1="477" x2="435.2" y2="470" stroke="#000" stroke-width="2" />
<line x1="469.2" y1="477" x2="469.2" y2="470" stroke="#000" stroke-width="2" />
<line x1="503.2" y1="477" x2="503.2" y2="464" stroke="#000" stroke-width="2" />
<line x1="537.2" y1="477" x2="537.2" y2="470" stroke="#000" stroke-width="2" />
<line x1="571.2" y1="477" x2="571.2" y2="470" stroke="#000" stroke-width="2" />
<line x1="605.2" y1="477" x2="605.2" y2="470" stroke="#000" stroke-width="2" />
<line x1="639.2" y1="477" x2="639.2" y2="470" stroke="#000" stroke-width="2" />
<line x1="673.2" y1="477" x2="673.2" y2="464" stroke="#000" stroke-width="2" />
<line x1="707.2" y1="477" x2="707.2" y2="470" stroke="#000" stroke-width="2" />
<line x1="741.2" y1="477" x2="741.2" y2="470" stroke="#000" stroke-width="2" />
<line x1="775.2" y1="477" x2="775.2" y2="470" stroke="#000" stroke-width="2" />
<line x1="809.2" y1="477" x2="809.2" y2="470" stroke="#000" stroke-width="2" />
<line x1="843.2" y1="477" x2="843.2" y2="464" stroke="#000" stroke-width="2" />
<line x1="877.2" y1="477" x2="877.2" y2="470" stroke="#000" stroke-width="2" />
<line x1="911.2" y1="477" x2="911.2" y2="470" stroke="#000" stroke-width="2" />
<line x1="945.2" y1="477" x2="945.2" y2="470" stroke="#000" stroke-width="2" />
<line x1="979.2" y1="477" x2="979.2" y2="470" stroke="#000" stroke-width="2" />
<line x1="1013.2" y1="477" x2="1013.2" y2="464" stroke="#000" stroke-width="2" />
<line x1="130" y1="228.2" x2="137" y2="228.2" stroke="#000" stroke-width="2" />
<line x1="130" y1="200.1" x2="143.3" y2="200.1" stroke="#000" stroke-width="2" />
<text x="122.8" y="209.4" font-size="31.8" text-anchor="end" >0.008</text>
<line x1="130" y1="172" x2="137" y2="172" stroke="#000" stroke-width="2" />
<line x1="130" y1="143.9" x2="143.3" y2="143.9" stroke="#000" stroke-width="2" />
<text x="122.8" y="153.2" font-size="31.8" text-anchor="end" >0.010</text>
<line x1="130" y1="115.8" x2="137" y2="115.8" stroke="#000" stroke-width="2" />
<line x1="130" y1="87.7" x2="143.3" y2="87.7" stroke="#000" stroke-width="2" />
<text x="122.8" y="97" font-size="31.8" text-anchor="end" >0.012</text>
<line x1="130" y1="59.6" x2="137" y2="59.6" stroke="#000" stroke-width="2" />
<line x1="130" y1="31.5" x2="143.3" y2="31.5" stroke="#000" stroke-width="2" />
<text x="122.8" y="40.8" font-size="31.8" text-anchor="end" >0.014</text>
<line x1="130" y1="451.7" x2="143.3" y2="451.7" stroke="#000" stroke-width="2" />
<text x="122.8" y="460.9" font-size="31.8" text-anchor="end" >0.06</text>
<line x1="130" y1="426.7" x2="137" y2="426.7" stroke="#000" stroke-width="2" />
<line x1="130" y1="401.7" x2="143.3" y2="401.7" stroke="#000" stroke-width="2" />
<text x="122.8" y="410.9" font-size="31.8" text-anchor="end" >0.08</text>
<line x1="130" y1="376.7" x2="137" y2="376.7" stroke="#000" stroke-width="2" />
<line x1="130" y1="351.7" x2="143.3" y2="351.7" stroke="#000" stroke-width="2" />
<text x="122.8" y="360.9" font-size="31.8" text-anchor="end" >0.10</text>
<line x1="130" y1="326.7" x2="137" y2="326.7" stroke="#000" stroke-width="2" />
<line x1="130" y1="301.7" x2="143.3" y2="301.7" stroke="#000" stroke-width="2" />
<text x="122.8" y="310.9" font-size="31.8" text-anchor="end" >0.12</text>
<line x1="130" y1="276.7" x2="137" y2="276.7" stroke="#000" stroke-width="2" />
<text x="163.2" y="509.4" font-size="31.8" text-anchor="middle" >0</text>
<text x="333.2" y="509.4" font-size="31.8" text-anchor="middle" >5</text>
<text x="503.2" y="509.4" font-size="31.8" text-anchor="middle" >10</text>
<text x="673.2" y="509.4" font-size="31.8" text-anchor="middle" >15</text>
<text x="843.2" y="509.4" font-size="31.8" text-anchor="middle" >20</text>
<text x="1013.2" y="509.4" font-size="31.8" text-anchor="middle" >25</text>
<text x="582" y="540" font-size="31.8" text-anchor="middle" textLength="213.47" lengthAdjust="spacingAndGlyphs" >Cycling Number</text>
<text x="161" y="76" font-size="31.5" >Dark</text>
<text x="159.6" y="289.3" font-size="31.5" >Light</text>
<line x1="858.8" y1="54.6" x2="917.4" y2="54.6" stroke="#ff0000" stroke-width="2.6" />
<line x1="858.8" y1="86.2" x2="917.4" y2="86.2" stroke="#0000ff" stroke-width="2.6" />
<text x="923.4" y="62.7" font-size="24.5" >LTP</text>
<text x="923.4" y="93.8" font-size="24.5" >LTD</text>
<line x1="858.8" y1="277.9" x2="917.4" y2="277.9" stroke="#ff0000" stroke-width="2.6" />
<line x1="858.8" y1="308.8" x2="917.4" y2="308.8" stroke="#0000ff" stroke-width="2.6" />
<text x="923.4" y="286" font-size="24.5" >LTP</text>
<text x="923.4" y="316.9" font-size="24.5" >LTD</text>
<text transform="translate(36.4,137.9) rotate(-90)" font-size="33" text-anchor="middle" textLength="80.54" lengthAdjust="spacingAndGlyphs" ><tspan font-style="italic">G</tspan><tspan> (nS)</tspan></text>
<text transform="translate(36.4,360.7) rotate(-90)" font-size="33" text-anchor="middle" textLength="80.54" lengthAdjust="spacingAndGlyphs" ><tspan font-style="italic">G</tspan><tspan> (nS)</tspan></text>
<text x="-1.5" y="40.8" font-size="61" >a</text>
</g>
<g id="pb">
<clipPath id="clipB"><rect x="1196.3" y="32" width="548.4000000000001" height="442"/></clipPath>
<g clip-path="url(#clipB)">
<circle cx="1321.3" cy="429.7" r="10.4" fill="#fff" stroke="#000" stroke-width="2.4"/>
<circle cx="1324.4" cy="427.1" r="10.4" fill="#fff" stroke="#000" stroke-width="2.4"/>
<circle cx="1327.5" cy="430.2" r="10.4" fill="#fff" stroke="#000" stroke-width="2.4"/>
<circle cx="1330.6" cy="433.2" r="10.4" fill="#fff" stroke="#000" stroke-width="2.4"/>
<circle cx="1333.8" cy="431.9" r="10.4" fill="#fff" stroke="#000" stroke-width="2.4"/>
<circle cx="1336.9" cy="432.1" r="10.4" fill="#fff" stroke="#000" stroke-width="2.4"/>
<circle cx="1340.0" cy="430.4" r="10.4" fill="#fff" stroke="#000" stroke-width="2.4"/>
<circle cx="1343.1" cy="429.1" r="10.4" fill="#fff" stroke="#000" stroke-width="2.4"/>
<circle cx="1346.2" cy="426.1" r="10.4" fill="#fff" stroke="#000" stroke-width="2.4"/>
<circle cx="1349.3" cy="426.9" r="10.4" fill="#fff" stroke="#000" stroke-width="2.4"/>
<circle cx="1352.4" cy="429.9" r="10.4" fill="#fff" stroke="#000" stroke-width="2.4"/>
<circle cx="1355.6" cy="418.4" r="10.4" fill="#fff" stroke="#000" stroke-width="2.4"/>
<circle cx="1358.7" cy="423.4" r="10.4" fill="#fff" stroke="#000" stroke-width="2.4"/>
<circle cx="1361.8" cy="418.6" r="10.4" fill="#fff" stroke="#000" stroke-width="2.4"/>
<circle cx="1364.9" cy="411.3" r="10.4" fill="#fff" stroke="#000" stroke-width="2.4"/>
<circle cx="1368.0" cy="414.0" r="10.4" fill="#fff" stroke="#000" stroke-width="2.4"/>
<circle cx="1371.1" cy="407.9" r="10.4" fill="#fff" stroke="#000" stroke-width="2.4"/>
<circle cx="1374.3" cy="405.8" r="10.4" fill="#fff" stroke="#000" stroke-width="2.4"/>
<circle cx="1377.4" cy="402.1" r="10.4" fill="#fff" stroke="#000" stroke-width="2.4"/>
<circle cx="1380.5" cy="401.9" r="10.4" fill="#fff" stroke="#000" stroke-width="2.4"/>
<circle cx="1383.6" cy="400.8" r="10.4" fill="#fff" stroke="#000" stroke-width="2.4"/>
<circle cx="1386.7" cy="392.3" r="10.4" fill="#fff" stroke="#000" stroke-width="2.4"/>
<circle cx="1389.8" cy="385.8" r="10.4" fill="#fff" stroke="#000" stroke-width="2.4"/>
<circle cx="1392.9" cy="380.7" r="10.4" fill="#fff" stroke="#000" stroke-width="2.4"/>
<circle cx="1396.1" cy="384.7" r="10.4" fill="#fff" stroke="#000" stroke-width="2.4"/>
<circle cx="1399.2" cy="377.4" r="10.4" fill="#fff" stroke="#000" stroke-width="2.4"/>
<circle cx="1402.3" cy="375.7" r="10.4" fill="#fff" stroke="#000" stroke-width="2.4"/>
<circle cx="1405.4" cy="369.9" r="10.4" fill="#fff" stroke="#000" stroke-width="2.4"/>
<circle cx="1408.5" cy="362.9" r="10.4" fill="#fff" stroke="#000" stroke-width="2.4"/>
<circle cx="1411.6" cy="356.4" r="10.4" fill="#fff" stroke="#000" stroke-width="2.4"/>
<circle cx="1414.7" cy="353.2" r="10.4" fill="#fff" stroke="#000" stroke-width="2.4"/>
<circle cx="1417.9" cy="350.7" r="10.4" fill="#fff" stroke="#000" stroke-width="2.4"/>
<circle cx="1421.0" cy="349.0" r="10.4" fill="#fff" stroke="#000" stroke-width="2.4"/>
<circle cx="1424.1" cy="343.3" r="10.4" fill="#fff" stroke="#000" stroke-width="2.4"/>
<circle cx="1427.2" cy="336.8" r="10.4" fill="#fff" stroke="#000" stroke-width="2.4"/>
<circle cx="1430.3" cy="326.9" r="10.4" fill="#fff" stroke="#000" stroke-width="2.4"/>
<circle cx="1433.4" cy="326.4" r="10.4" fill="#fff" stroke="#000" stroke-width="2.4"/>
<circle cx="1436.5" cy="321.0" r="10.4" fill="#fff" stroke="#000" stroke-width="2.4"/>
<circle cx="1439.7" cy="315.6" r="10.4" fill="#fff" stroke="#000" stroke-width="2.4"/>
<circle cx="1442.8" cy="306.9" r="10.4" fill="#fff" stroke="#000" stroke-width="2.4"/>
<circle cx="1445.9" cy="306.6" r="10.4" fill="#fff" stroke="#000" stroke-width="2.4"/>
<circle cx="1449.0" cy="295.3" r="10.4" fill="#fff" stroke="#000" stroke-width="2.4"/>
<circle cx="1452.1" cy="293.0" r="10.4" fill="#fff" stroke="#000" stroke-width="2.4"/>
<circle cx="1455.2" cy="284.8" r="10.4" fill="#fff" stroke="#000" stroke-width="2.4"/>
<circle cx="1458.4" cy="282.5" r="10.4" fill="#fff" stroke="#000" stroke-width="2.4"/>
<circle cx="1461.5" cy="271.8" r="10.4" fill="#fff" stroke="#000" stroke-width="2.4"/>
<circle cx="1464.6" cy="264.5" r="10.4" fill="#fff" stroke="#000" stroke-width="2.4"/>
<circle cx="1467.7" cy="260.5" r="10.4" fill="#fff" stroke="#000" stroke-width="2.4"/>
<circle cx="1470.8" cy="249.4" r="10.4" fill="#fff" stroke="#000" stroke-width="2.4"/>
<circle cx="1473.9" cy="245.4" r="10.4" fill="#fff" stroke="#000" stroke-width="2.4"/>
<circle cx="1477.0" cy="235.4" r="10.4" fill="#fff" stroke="#000" stroke-width="2.4"/>
<circle cx="1480.2" cy="228.3" r="10.4" fill="#fff" stroke="#000" stroke-width="2.4"/>
<circle cx="1483.3" cy="222.8" r="10.4" fill="#fff" stroke="#000" stroke-width="2.4"/>
<circle cx="1486.4" cy="214.6" r="10.4" fill="#fff" stroke="#000" stroke-width="2.4"/>
<circle cx="1489.5" cy="203.0" r="10.4" fill="#fff" stroke="#000" stroke-width="2.4"/>
<circle cx="1492.6" cy="195.3" r="10.4" fill="#fff" stroke="#000" stroke-width="2.4"/>
<circle cx="1495.7" cy="185.7" r="10.4" fill="#fff" stroke="#000" stroke-width="2.4"/>
<circle cx="1498.8" cy="176.5" r="10.4" fill="#fff" stroke="#000" stroke-width="2.4"/>
<circle cx="1502.0" cy="163.7" r="10.4" fill="#fff" stroke="#000" stroke-width="2.4"/>
<circle cx="1505.1" cy="158.0" r="10.4" fill="#fff" stroke="#000" stroke-width="2.4"/>
<circle cx="1508.2" cy="142.8" r="10.4" fill="#fff" stroke="#000" stroke-width="2.4"/>
<circle cx="1511.3" cy="131.3" r="10.4" fill="#fff" stroke="#000" stroke-width="2.4"/>
<circle cx="1514.4" cy="127.3" r="10.4" fill="#fff" stroke="#000" stroke-width="2.4"/>
<circle cx="1517.5" cy="122.2" r="10.4" fill="#fff" stroke="#000" stroke-width="2.4"/>
<circle cx="1520.7" cy="120.8" r="10.4" fill="#fff" stroke="#000" stroke-width="2.4"/>
<circle cx="1523.8" cy="109.3" r="10.4" fill="#fff" stroke="#000" stroke-width="2.4"/>
<circle cx="1526.9" cy="105.9" r="10.4" fill="#fff" stroke="#000" stroke-width="2.4"/>
<circle cx="1530.0" cy="108.7" r="10.4" fill="#fff" stroke="#000" stroke-width="2.4"/>
<circle cx="1533.1" cy="114.1" r="10.4" fill="#fff" stroke="#000" stroke-width="2.4"/>
<circle cx="1536.2" cy="117.4" r="10.4" fill="#fff" stroke="#000" stroke-width="2.4"/>
<circle cx="1539.3" cy="124.3" r="10.4" fill="#fff" stroke="#000" stroke-width="2.4"/>
<circle cx="1542.5" cy="126.4" r="10.4" fill="#fff" stroke="#000" stroke-width="2.4"/>
<circle cx="1545.6" cy="133.0" r="10.4" fill="#fff" stroke="#000" stroke-width="2.4"/>
<circle cx="1548.7" cy="141.4" r="10.4" fill="#fff" stroke="#000" stroke-width="2.4"/>
<circle cx="1551.8" cy="146.6" r="10.4" fill="#fff" stroke="#000" stroke-width="2.4"/>
<circle cx="1554.9" cy="154.9" r="10.4" fill="#fff" stroke="#000" stroke-width="2.4"/>
<circle cx="1558.0" cy="157.9" r="10.4" fill="#fff" stroke="#000" stroke-width="2.4"/>
<circle cx="1561.1" cy="167.0" r="10.4" fill="#fff" stroke="#000" stroke-width="2.4"/>
<circle cx="1564.3" cy="170.4" r="10.4" fill="#fff" stroke="#000" stroke-width="2.4"/>
<circle cx="1567.4" cy="176.0" r="10.4" fill="#fff" stroke="#000" stroke-width="2.4"/>
<circle cx="1570.5" cy="185.4" r="10.4" fill="#fff" stroke="#000" stroke-width="2.4"/>
<circle cx="1573.6" cy="190.5" r="10.4" fill="#fff" stroke="#000" stroke-width="2.4"/>
<circle cx="1576.7" cy="196.6" r="10.4" fill="#fff" stroke="#000" stroke-width="2.4"/>
<circle cx="1579.8" cy="200.1" r="10.4" fill="#fff" stroke="#000" stroke-width="2.4"/>
<circle cx="1582.9" cy="206.1" r="10.4" fill="#fff" stroke="#000" stroke-width="2.4"/>
<circle cx="1586.1" cy="212.8" r="10.4" fill="#fff" stroke="#000" stroke-width="2.4"/>
<circle cx="1589.2" cy="215.9" r="10.4" fill="#fff" stroke="#000" stroke-width="2.4"/>
<circle cx="1592.3" cy="220.2" r="10.4" fill="#fff" stroke="#000" stroke-width="2.4"/>
<circle cx="1595.4" cy="225.9" r="10.4" fill="#fff" stroke="#000" stroke-width="2.4"/>
<circle cx="1598.5" cy="232.1" r="10.4" fill="#fff" stroke="#000" stroke-width="2.4"/>
<circle cx="1601.6" cy="234.7" r="10.4" fill="#fff" stroke="#000" stroke-width="2.4"/>
<circle cx="1604.8" cy="243.9" r="10.4" fill="#fff" stroke="#000" stroke-width="2.4"/>
<circle cx="1607.9" cy="244.4" r="10.4" fill="#fff" stroke="#000" stroke-width="2.4"/>
<circle cx="1611.0" cy="251.6" r="10.4" fill="#fff" stroke="#000" stroke-width="2.4"/>
<circle cx="1614.1" cy="257.4" r="10.4" fill="#fff" stroke="#000" stroke-width="2.4"/>
<circle cx="1617.2" cy="260.9" r="10.4" fill="#fff" stroke="#000" stroke-width="2.4"/>
<circle cx="1620.3" cy="267.2" r="10.4" fill="#fff" stroke="#000" stroke-width="2.4"/>
<circle cx="1623.4" cy="269.8" r="10.4" fill="#fff" stroke="#000" stroke-width="2.4"/>
<circle cx="1626.6" cy="278.2" r="10.4" fill="#fff" stroke="#000" stroke-width="2.4"/>
<circle cx="1629.7" cy="286.3" r="10.4" fill="#fff" stroke="#000" stroke-width="2.4"/>
<circle cx="1632.8" cy="291.5" r="10.4" fill="#fff" stroke="#000" stroke-width="2.4"/>
<circle cx="1635.9" cy="296.3" r="10.4" fill="#fff" stroke="#000" stroke-width="2.4"/>
<circle cx="1639.0" cy="303.6" r="10.4" fill="#fff" stroke="#000" stroke-width="2.4"/>
<circle cx="1642.1" cy="308.1" r="10.4" fill="#fff" stroke="#000" stroke-width="2.4"/>
<circle cx="1645.2" cy="313.9" r="10.4" fill="#fff" stroke="#000" stroke-width="2.4"/>
<circle cx="1648.4" cy="322.1" r="10.4" fill="#fff" stroke="#000" stroke-width="2.4"/>
<circle cx="1651.5" cy="325.8" r="10.4" fill="#fff" stroke="#000" stroke-width="2.4"/>
<circle cx="1654.6" cy="331.1" r="10.4" fill="#fff" stroke="#000" stroke-width="2.4"/>
<circle cx="1657.7" cy="340.0" r="10.4" fill="#fff" stroke="#000" stroke-width="2.4"/>
<circle cx="1660.8" cy="348.0" r="10.4" fill="#fff" stroke="#000" stroke-width="2.4"/>
<circle cx="1663.9" cy="344.6" r="10.4" fill="#fff" stroke="#000" stroke-width="2.4"/>
<circle cx="1667.0" cy="355.7" r="10.4" fill="#fff" stroke="#000" stroke-width="2.4"/>
<circle cx="1670.2" cy="361.0" r="10.4" fill="#fff" stroke="#000" stroke-width="2.4"/>
<circle cx="1673.3" cy="361.1" r="10.4" fill="#fff" stroke="#000" stroke-width="2.4"/>
<circle cx="1676.4" cy="364.6" r="10.4" fill="#fff" stroke="#000" stroke-width="2.4"/>
<circle cx="1679.5" cy="373.3" r="10.4" fill="#fff" stroke="#000" stroke-width="2.4"/>
<circle cx="1682.6" cy="374.0" r="10.4" fill="#fff" stroke="#000" stroke-width="2.4"/>
<circle cx="1685.7" cy="378.2" r="10.4" fill="#fff" stroke="#000" stroke-width="2.4"/>
<circle cx="1688.9" cy="383.1" r="10.4" fill="#fff" stroke="#000" stroke-width="2.4"/>
<circle cx="1692.0" cy="390.2" r="10.4" fill="#fff" stroke="#000" stroke-width="2.4"/>
<circle cx="1695.1" cy="396.5" r="10.4" fill="#fff" stroke="#000" stroke-width="2.4"/>
<circle cx="1698.2" cy="398.5" r="10.4" fill="#fff" stroke="#000" stroke-width="2.4"/>
<circle cx="1701.3" cy="405.6" r="10.4" fill="#fff" stroke="#000" stroke-width="2.4"/>
<circle cx="1704.4" cy="409.0" r="10.4" fill="#fff" stroke="#000" stroke-width="2.4"/>
<circle cx="1707.5" cy="412.3" r="10.4" fill="#fff" stroke="#000" stroke-width="2.4"/>
<circle cx="1710.7" cy="415.6" r="10.4" fill="#fff" stroke="#000" stroke-width="2.4"/>
<circle cx="1713.8" cy="419.1" r="10.4" fill="#fff" stroke="#000" stroke-width="2.4"/>
<circle cx="1716.9" cy="424.0" r="10.4" fill="#fff" stroke="#000" stroke-width="2.4"/>
<circle cx="1720.0" cy="433.1" r="10.4" fill="#fff" stroke="#000" stroke-width="2.4"/>
<path d="M1321.3,421.8V437.7M1316.8,421.8h9M1316.8,437.7h9M1324.4,419.0V435.3M1319.9,419.0h9M1319.9,435.3h9M1327.5,419.6V440.9M1323.0,419.6h9M1323.0,440.9h9M1330.6,423.6V442.7M1326.1,423.6h9M1326.1,442.7h9M1333.8,422.5V441.3M1329.3,422.5h9M1329.3,441.3h9M1336.9,422.6V441.5M1332.4,422.6h9M1332.4,441.5h9M1340.0,421.3V439.5M1335.5,421.3h9M1335.5,439.5h9M1343.1,417.3V440.9M1338.6,417.3h9M1338.6,440.9h9M1346.2,416.4V435.9M1341.7,416.4h9M1341.7,435.9h9M1349.3,415.8V438.0M1344.8,415.8h9M1344.8,438.0h9M1352.4,420.1V439.6M1347.9,420.1h9M1347.9,439.6h9M1355.6,407.3V429.5M1351.1,407.3h9M1351.1,429.5h9M1358.7,415.0V431.8M1354.2,415.0h9M1354.2,431.8h9M1361.8,407.8V429.4M1357.3,407.8h9M1357.3,429.4h9M1364.9,399.3V423.4M1360.4,399.3h9M1360.4,423.4h9M1368.0,402.2V425.8M1363.5,402.2h9M1363.5,425.8h9M1371.1,397.2V418.7M1366.6,397.2h9M1366.6,418.7h9M1374.3,393.0V418.6M1369.8,393.0h9M1369.8,418.6h9M1377.4,387.3V416.8M1372.9,387.3h9M1372.9,416.8h9M1380.5,392.5V411.3M1376.0,392.5h9M1376.0,411.3h9M1383.6,387.2V414.3M1379.1,387.2h9M1379.1,414.3h9M1386.7,378.4V406.2M1382.2,378.4h9M1382.2,406.2h9M1389.8,371.3V400.4M1385.3,371.3h9M1385.3,400.4h9M1392.9,367.9V393.5M1388.4,367.9h9M1388.4,393.5h9M1396.1,367.2V402.3M1391.6,367.2h9M1391.6,402.3h9M1399.2,363.6V391.2M1394.7,363.6h9M1394.7,391.2h9M1402.3,359.6V391.8M1397.8,359.6h9M1397.8,391.8h9M1405.4,351.8V388.0M1400.9,351.8h9M1400.9,388.0h9M1408.5,343.8V381.9M1404.0,343.8h9M1404.0,381.9h9M1411.6,335.1V377.6M1407.1,335.1h9M1407.1,377.6h9M1414.7,336.0V370.3M1410.2,336.0h9M1410.2,370.3h9M1417.9,329.7V371.7M1413.4,329.7h9M1413.4,371.7h9M1421.0,328.1V369.8M1416.5,328.1h9M1416.5,369.8h9M1424.1,321.5V365.1M1419.6,321.5h9M1419.6,365.1h9M1427.2,320.6V353.1M1422.7,320.6h9M1422.7,353.1h9M1430.3,311.2V342.7M1425.8,311.2h9M1425.8,342.7h9M1433.4,304.3V348.6M1428.9,304.3h9M1428.9,348.6h9M1436.5,296.8V345.2M1432.0,296.8h9M1432.0,345.2h9M1439.7,294.3V336.9M1435.2,294.3h9M1435.2,336.9h9M1442.8,287.7V326.2M1438.3,287.7h9M1438.3,326.2h9M1445.9,277.7V335.6M1441.4,277.7h9M1441.4,335.6h9M1449.0,269.3V321.2M1444.5,269.3h9M1444.5,321.2h9M1452.1,259.7V326.3M1447.6,259.7h9M1447.6,326.3h9M1455.2,255.5V314.1M1450.7,255.5h9M1450.7,314.1h9M1458.4,259.3V305.7M1453.9,259.3h9M1453.9,305.7h9M1461.5,241.4V302.1M1457.0,241.4h9M1457.0,302.1h9M1464.6,224.7V304.3M1460.1,224.7h9M1460.1,304.3h9M1467.7,227.2V293.7M1463.2,227.2h9M1463.2,293.7h9M1470.8,212.3V286.4M1466.3,212.3h9M1466.3,286.4h9M1473.9,213.1V277.7M1469.4,213.1h9M1469.4,277.7h9M1477.0,206.3V264.4M1472.5,206.3h9M1472.5,264.4h9M1480.2,187.7V268.9M1475.7,187.7h9M1475.7,268.9h9M1483.3,182.3V263.2M1478.8,182.3h9M1478.8,263.2h9M1486.4,178.7V250.6M1481.9,178.7h9M1481.9,250.6h9M1489.5,157.1V248.9M1485.0,157.1h9M1485.0,248.9h9M1492.6,158.3V232.3M1488.1,158.3h9M1488.1,232.3h9M1495.7,139.1V232.4M1491.2,139.1h9M1491.2,232.4h9M1498.8,132.5V220.6M1494.3,132.5h9M1494.3,220.6h9M1502.0,116.8V210.6M1497.5,116.8h9M1497.5,210.6h9M1505.1,111.2V204.7M1500.6,111.2h9M1500.6,204.7h9M1508.2,93.6V191.9M1503.7,93.6h9M1503.7,191.9h9M1511.3,81.4V181.1M1506.8,81.4h9M1506.8,181.1h9M1514.4,71.6V183.0M1509.9,71.6h9M1509.9,183.0h9M1517.5,64.4V180.0M1513.0,64.4h9M1513.0,180.0h9M1520.7,69.9V171.8M1516.2,69.9h9M1516.2,171.8h9M1523.8,52.4V166.2M1519.3,52.4h9M1519.3,166.2h9M1526.9,49.7V162.0M1522.4,49.7h9M1522.4,162.0h9M1530.0,43.1V174.4M1525.5,43.1h9M1525.5,174.4h9M1533.1,69.8V158.3M1528.6,69.8h9M1528.6,158.3h9M1536.2,55.2V179.6M1531.7,55.2h9M1531.7,179.6h9M1539.3,69.6V179.0M1534.8,69.6h9M1534.8,179.0h9M1542.5,59.9V192.8M1538.0,59.9h9M1538.0,192.8h9M1545.6,74.9V191.0M1541.1,74.9h9M1541.1,191.0h9M1548.7,79.7V203.1M1544.2,79.7h9M1544.2,203.1h9M1551.8,98.7V194.6M1547.3,98.7h9M1547.3,194.6h9M1554.9,103.0V206.8M1550.4,103.0h9M1550.4,206.8h9M1558.0,90.3V225.5M1553.5,90.3h9M1553.5,225.5h9M1561.1,120.8V213.3M1556.6,120.8h9M1556.6,213.3h9M1564.3,119.5V221.2M1559.8,119.5h9M1559.8,221.2h9M1567.4,136.7V215.4M1562.9,136.7h9M1562.9,215.4h9M1570.5,129.7V241.2M1566.0,129.7h9M1566.0,241.2h9M1573.6,143.0V238.0M1569.1,143.0h9M1569.1,238.0h9M1576.7,143.5V249.7M1572.2,143.5h9M1572.2,249.7h9M1579.8,153.7V246.5M1575.3,153.7h9M1575.3,246.5h9M1582.9,154.4V257.8M1578.4,154.4h9M1578.4,257.8h9M1586.1,173.5V252.0M1581.6,173.5h9M1581.6,252.0h9M1589.2,159.9V272.0M1584.7,159.9h9M1584.7,272.0h9M1592.3,174.2V266.2M1587.8,174.2h9M1587.8,266.2h9M1595.4,174.7V277.1M1590.9,174.7h9M1590.9,277.1h9M1598.5,190.9V273.2M1594.0,190.9h9M1594.0,273.2h9M1601.6,193.3V276.2M1597.1,193.3h9M1597.1,276.2h9M1604.8,198.5V289.3M1600.3,198.5h9M1600.3,289.3h9M1607.9,195.3V293.5M1603.4,195.3h9M1603.4,293.5h9M1611.0,216.6V286.7M1606.5,216.6h9M1606.5,286.7h9M1614.1,221.0V293.9M1609.6,221.0h9M1609.6,293.9h9M1617.2,225.3V296.6M1612.7,225.3h9M1612.7,296.6h9M1620.3,231.7V302.7M1615.8,231.7h9M1615.8,302.7h9M1623.4,230.3V309.2M1618.9,230.3h9M1618.9,309.2h9M1626.6,236.5V319.8M1622.1,236.5h9M1622.1,319.8h9M1629.7,248.1V324.4M1625.2,248.1h9M1625.2,324.4h9M1632.8,251.3V331.7M1628.3,251.3h9M1628.3,331.7h9M1635.9,266.7V326.0M1631.4,266.7h9M1631.4,326.0h9M1639.0,281.8V325.5M1634.5,281.8h9M1634.5,325.5h9M1642.1,275.0V341.2M1637.6,275.0h9M1637.6,341.2h9M1645.2,277.6V350.2M1640.7,277.6h9M1640.7,350.2h9M1648.4,291.1V353.2M1643.9,291.1h9M1643.9,353.2h9M1651.5,292.0V359.6M1647.0,292.0h9M1647.0,359.6h9M1654.6,303.7V358.6M1650.1,303.7h9M1650.1,358.6h9M1657.7,309.8V370.2M1653.2,309.8h9M1653.2,370.2h9M1660.8,321.3V374.6M1656.3,321.3h9M1656.3,374.6h9M1663.9,315.8V373.3M1659.4,315.8h9M1659.4,373.3h9M1667.0,330.5V380.9M1662.5,330.5h9M1662.5,380.9h9M1670.2,330.6V391.4M1665.7,330.6h9M1665.7,391.4h9M1673.3,338.4V383.8M1668.8,338.4h9M1668.8,383.8h9M1676.4,339.7V389.4M1671.9,339.7h9M1671.9,389.4h9M1679.5,349.1V397.5M1675.0,349.1h9M1675.0,397.5h9M1682.6,354.3V393.6M1678.1,354.3h9M1678.1,393.6h9M1685.7,361.5V395.0M1681.2,361.5h9M1681.2,395.0h9M1688.9,366.9V399.2M1684.4,366.9h9M1684.4,399.2h9M1692.0,369.9V410.4M1687.5,369.9h9M1687.5,410.4h9M1695.1,378.1V414.9M1690.6,378.1h9M1690.6,414.9h9M1698.2,380.9V416.1M1693.7,380.9h9M1693.7,416.1h9M1701.3,389.4V421.8M1696.8,389.4h9M1696.8,421.8h9M1704.4,393.6V424.5M1699.9,393.6h9M1699.9,424.5h9M1707.5,397.0V427.6M1703.0,397.0h9M1703.0,427.6h9M1710.7,399.3V431.9M1706.2,399.3h9M1706.2,431.9h9M1713.8,404.7V433.5M1709.3,404.7h9M1709.3,433.5h9M1716.9,408.8V439.2M1712.4,408.8h9M1712.4,439.2h9M1720.0,422.3V443.9M1715.5,422.3h9M1715.5,443.9h9" stroke="#2a2aff" stroke-opacity="1" stroke-width="1.1" fill="none"/>
<polyline points="1321.3,447.2 1324.4,445.0 1327.5,442.8 1330.6,440.5 1333.8,438.1 1336.9,435.7 1340.0,433.3 1343.1,430.7 1346.2,428.1 1349.3,425.5 1352.4,422.8 1355.6,420.0 1358.7,417.1 1361.8,414.2 1364.9,411.2 1368.0,408.1 1371.1,405.0 1374.3,401.8 1377.4,398.5 1380.5,395.1 1383.6,391.6 1386.7,388.1 1389.8,384.4 1392.9,380.7 1396.1,376.9 1399.2,372.9 1402.3,368.9 1405.4,364.8 1408.5,360.6 1411.6,356.3 1414.7,351.8 1417.9,347.3 1421.0,342.7 1424.1,337.9 1427.2,333.0 1430.3,328.0 1433.4,322.9 1436.5,317.6 1439.7,312.3 1442.8,306.7 1445.9,301.1 1449.0,295.3 1452.1,289.4 1455.2,283.3 1458.4,277.1 1461.5,270.7 1464.6,264.2 1467.7,257.5 1470.8,250.6 1473.9,243.6 1477.0,236.3 1480.2,229.0 1483.3,221.4 1486.4,213.6 1489.5,205.7 1492.6,197.5 1495.7,189.2 1498.8,180.7 1502.0,171.9 1505.1,162.9 1508.2,153.7 1511.3,144.3 1514.4,134.6 1517.5,124.7 1520.7,114.6" fill="none" stroke="#ff0000" stroke-width="3.2" stroke-linejoin="round" />
<polyline points="1523.8,98.7 1526.9,104.5 1530.0,110.4 1533.1,116.2 1536.2,122.0 1539.3,127.8 1542.5,133.6 1545.6,139.4 1548.7,145.1 1551.8,150.8 1554.9,156.6 1558.0,162.3 1561.1,168.0 1564.3,173.7 1567.4,179.3 1570.5,185.0 1573.6,190.6 1576.7,196.3 1579.8,201.9 1582.9,207.5 1586.1,213.1 1589.2,218.7 1592.3,224.2 1595.4,229.8 1598.5,235.3 1601.6,240.8 1604.8,246.3 1607.9,251.8 1611.0,257.3 1614.1,262.8 1617.2,268.3 1620.3,273.7 1623.4,279.1 1626.6,284.6 1629.7,290.0 1632.8,295.4 1635.9,300.7 1639.0,306.1 1642.1,311.5 1645.2,316.8 1648.4,322.1 1651.5,327.5 1654.6,332.8 1657.7,338.1 1660.8,343.3 1663.9,348.6 1667.0,353.9 1670.2,359.1 1673.3,364.3 1676.4,369.5 1679.5,374.7 1682.6,379.9 1685.7,385.1 1688.9,390.3 1692.0,395.4 1695.1,400.6 1698.2,405.7 1701.3,410.8 1704.4,415.9 1707.5,421.0 1710.7,426.1 1713.8,431.2 1716.9,436.3 1720.0,441.3" fill="none" stroke="#0000ff" stroke-width="3.2" stroke-linejoin="round" />
</g>
<rect x="1196.3" y="32" width="548.4000000000001" height="442" fill="none" stroke="#000" stroke-width="2.3"/>
<line x1="1196.71" y1="474" x2="1196.71" y2="466.5" stroke="#000" stroke-width="2" />
<line x1="1221.62" y1="474" x2="1221.62" y2="459" stroke="#000" stroke-width="2" />
<line x1="1246.54" y1="474" x2="1246.54" y2="466.5" stroke="#000" stroke-width="2" />
<line x1="1271.46" y1="474" x2="1271.46" y2="466.5" stroke="#000" stroke-width="2" />
<line x1="1296.38" y1="474" x2="1296.38" y2="466.5" stroke="#000" stroke-width="2" />
<line x1="1321.3" y1="474" x2="1321.3" y2="459" stroke="#000" stroke-width="2" />
<line x1="1346.22" y1="474" x2="1346.22" y2="466.5" stroke="#000" stroke-width="2" />
<line x1="1371.14" y1="474" x2="1371.14" y2="466.5" stroke="#000" stroke-width="2" />
<line x1="1396.06" y1="474" x2="1396.06" y2="466.5" stroke="#000" stroke-width="2" />
<line x1="1420.97" y1="474" x2="1420.97" y2="459" stroke="#000" stroke-width="2" />
<line x1="1445.89" y1="474" x2="1445.89" y2="466.5" stroke="#000" stroke-width="2" />
<line x1="1470.81" y1="474" x2="1470.81" y2="466.5" stroke="#000" stroke-width="2" />
<line x1="1495.73" y1="474" x2="1495.73" y2="466.5" stroke="#000" stroke-width="2" />
<line x1="1520.65" y1="474" x2="1520.65" y2="459" stroke="#000" stroke-width="2" />
<line x1="1545.57" y1="474" x2="1545.57" y2="466.5" stroke="#000" stroke-width="2" />
<line x1="1570.49" y1="474" x2="1570.49" y2="466.5" stroke="#000" stroke-width="2" />
<line x1="1595.41" y1="474" x2="1595.41" y2="466.5" stroke="#000" stroke-width="2" />
<line x1="1620.33" y1="474" x2="1620.33" y2="459" stroke="#000" stroke-width="2" />
<line x1="1645.24" y1="474" x2="1645.24" y2="466.5" stroke="#000" stroke-width="2" />
<line x1="1670.16" y1="474" x2="1670.16" y2="466.5" stroke="#000" stroke-width="2" />
<line x1="1695.08" y1="474" x2="1695.08" y2="466.5" stroke="#000" stroke-width="2" />
<line x1="1720" y1="474" x2="1720" y2="459" stroke="#000" stroke-width="2" />
<text x="1221.62" y="514" font-size="36" text-anchor="middle" >-32</text>
<text x="1321.3" y="514" font-size="36" text-anchor="middle" >0</text>
<text x="1420.97" y="514" font-size="36" text-anchor="middle" >32</text>
<text x="1520.65" y="514" font-size="36" text-anchor="middle" >64</text>
<text x="1620.33" y="514" font-size="36" text-anchor="middle" >96</text>
<text x="1720" y="514" font-size="36" text-anchor="middle" >128</text>
<line x1="1196.3" y1="473.54" x2="1203.8" y2="473.54" stroke="#000" stroke-width="2" />
<line x1="1196.3" y1="442.1" x2="1211.3" y2="442.1" stroke="#000" stroke-width="2" />
<line x1="1196.3" y1="410.66" x2="1203.8" y2="410.66" stroke="#000" stroke-width="2" />
<line x1="1196.3" y1="379.22" x2="1203.8" y2="379.22" stroke="#000" stroke-width="2" />
<line x1="1196.3" y1="347.78" x2="1203.8" y2="347.78" stroke="#000" stroke-width="2" />
<line x1="1196.3" y1="316.34" x2="1203.8" y2="316.34" stroke="#000" stroke-width="2" />
<line x1="1196.3" y1="284.9" x2="1211.3" y2="284.9" stroke="#000" stroke-width="2" />
<line x1="1196.3" y1="253.46" x2="1203.8" y2="253.46" stroke="#000" stroke-width="2" />
<line x1="1196.3" y1="222.02" x2="1203.8" y2="222.02" stroke="#000" stroke-width="2" />
<line x1="1196.3" y1="190.58" x2="1203.8" y2="190.58" stroke="#000" stroke-width="2" />
<line x1="1196.3" y1="159.14" x2="1203.8" y2="159.14" stroke="#000" stroke-width="2" />
<line x1="1196.3" y1="127.7" x2="1211.3" y2="127.7" stroke="#000" stroke-width="2" />
<line x1="1196.3" y1="96.26" x2="1203.8" y2="96.26" stroke="#000" stroke-width="2" />
<line x1="1196.3" y1="64.82" x2="1203.8" y2="64.82" stroke="#000" stroke-width="2" />
<line x1="1196.3" y1="33.38" x2="1203.8" y2="33.38" stroke="#000" stroke-width="2" />
<text x="1185.5" y="454.1" font-size="36" text-anchor="end" >0.06</text>
<text x="1185.5" y="296.9" font-size="36" text-anchor="end" >0.08</text>
<text x="1185.5" y="139.7" font-size="36" text-anchor="end" >0.10</text>
<text x="1480" y="551.2" font-size="33.7" text-anchor="middle" textLength="214.02" lengthAdjust="spacingAndGlyphs" >Pulse Number</text>
<text transform="translate(1109,247.7) rotate(-90)" font-size="37.5" text-anchor="middle" ><tspan font-style="italic">G</tspan><tspan> (nS)</tspan></text>
<circle cx="1611" cy="60.3" r="12" fill="none" stroke="#000" stroke-width="2.2"/>
<text x="1635.7" y="69.8" font-size="29.5" >Average</text>
<line x1="1601.7" y1="96.7" x2="1620.6" y2="96.7" stroke="#ff0000" stroke-width="3.2" />
<line x1="1601.7" y1="132.6" x2="1620.6" y2="132.6" stroke="#0000ff" stroke-width="3.2" />
<text x="1635.7" y="106.3" font-size="29.5" >LTP fit</text>
<text x="1635.7" y="141.7" font-size="29.5" >LTD fit</text>
<text x="1543.5" y="331.5" font-size="31.4" text-anchor="middle" textLength="75.34" lengthAdjust="spacingAndGlyphs" >Light</text>
<text x="1543.6" y="395.3" font-size="35" text-anchor="middle" textLength="223.91" lengthAdjust="spacingAndGlyphs" >Cycle-to-cycle</text>
<text x="1543.2" y="441.3" font-size="35" text-anchor="middle" textLength="228.65" lengthAdjust="spacingAndGlyphs" >variation: 6.1%</text>
<text transform="translate(1372.8,327.6) rotate(-51)" font-size="41" text-anchor="middle" fill="#ff0000" ><tspan font-style="italic" font-family="DejaVu Serif" font-size="88%">ν</tspan><tspan> = -1.56</tspan></text>
<text transform="translate(1682.3,294.2) rotate(58)" font-size="40" text-anchor="middle" fill="#0000ff" ><tspan font-style="italic" font-family="DejaVu Serif" font-size="88%">ν</tspan><tspan> = 0.15</tspan></text>
<text x="1063.8" y="41.5" font-size="61" >b</text>
<rect x="1269.8" y="46.7" width="186.9000000000001" height="151.10000000000002" fill="#fff" stroke="#000" stroke-width="2"/>
<clipPath id="clipI"><rect x="1269.8" y="46.7" width="186.9000000000001" height="151.10000000000002"/></clipPath>
<g clip-path="url(#clipI)">
<path d="M1288.4,154.0V179.5M1284.4,154.0h8M1284.4,179.5h8M1289.6,125.4V205.4M1285.6,125.4h8M1285.6,205.4h8M1290.7,146.6V174.0M1286.7,146.6h8M1286.7,174.0h8M1291.9,149.9V173.9M1287.9,149.9h8M1287.9,173.9h8M1293.1,150.0V175.8M1289.1,150.0h8M1289.1,175.8h8M1294.2,149.7V173.8M1290.2,149.7h8M1290.2,173.8h8M1295.4,151.1V173.5M1291.4,151.1h8M1291.4,173.5h8M1296.6,146.7V175.3M1292.6,146.7h8M1292.6,175.3h8M1297.7,150.3V175.8M1293.7,150.3h8M1293.7,175.8h8M1298.9,147.9V176.0M1294.9,147.9h8M1294.9,176.0h8M1300.1,145.8V175.0M1296.1,145.8h8M1296.1,175.0h8M1301.2,139.2V169.9M1297.2,139.2h8M1297.2,169.9h8M1302.4,147.0V172.0M1298.4,147.0h8M1298.4,172.0h8M1303.6,145.0V172.2M1299.6,145.0h8M1299.6,172.2h8M1304.7,139.5V167.7M1300.7,139.5h8M1300.7,167.7h8M1305.9,140.2V166.7M1301.9,140.2h8M1301.9,166.7h8M1307.1,139.6V175.3M1303.1,139.6h8M1303.1,175.3h8M1308.2,138.7V168.0M1304.2,138.7h8M1304.2,168.0h8M1309.4,135.8V164.4M1305.4,135.8h8M1305.4,164.4h8M1310.6,137.0V165.5M1306.6,137.0h8M1306.6,165.5h8M1311.7,134.6V162.6M1307.7,134.6h8M1307.7,162.6h8M1312.9,134.8V168.0M1308.9,134.8h8M1308.9,168.0h8M1314.1,132.7V162.9M1310.1,132.7h8M1310.1,162.9h8M1315.2,135.3V164.1M1311.2,135.3h8M1311.2,164.1h8M1316.4,130.1V168.9M1312.4,130.1h8M1312.4,168.9h8M1317.6,130.1V161.7M1313.6,130.1h8M1313.6,161.7h8M1318.7,125.0V161.8M1314.7,125.0h8M1314.7,161.8h8M1319.9,123.9V162.8M1315.9,123.9h8M1315.9,162.8h8M1321.1,126.1V160.4M1317.1,126.1h8M1317.1,160.4h8M1322.2,127.4V159.1M1318.2,127.4h8M1318.2,159.1h8M1323.4,124.3V156.7M1319.4,124.3h8M1319.4,156.7h8M1324.6,117.3V158.2M1320.6,117.3h8M1320.6,158.2h8M1325.8,119.3V155.4M1321.8,119.3h8M1321.8,155.4h8M1326.9,118.9V153.3M1322.9,118.9h8M1322.9,153.3h8M1328.1,118.3V153.0M1324.1,118.3h8M1324.1,153.0h8M1329.3,117.8V153.7M1325.3,117.8h8M1325.3,153.7h8M1330.4,115.7V151.5M1326.4,115.7h8M1326.4,151.5h8M1331.6,113.3V153.9M1327.6,113.3h8M1327.6,153.9h8M1332.8,111.5V151.5M1328.8,111.5h8M1328.8,151.5h8M1333.9,110.4V147.8M1329.9,110.4h8M1329.9,147.8h8M1335.1,108.0V146.4M1331.1,108.0h8M1331.1,146.4h8M1336.3,104.7V146.3M1332.3,104.7h8M1332.3,146.3h8M1337.4,103.2V142.5M1333.4,103.2h8M1333.4,142.5h8M1338.6,99.8V139.5M1334.6,99.8h8M1334.6,139.5h8M1339.8,100.2V137.2M1335.8,100.2h8M1335.8,137.2h8M1340.9,102.2V141.6M1336.9,102.2h8M1336.9,141.6h8M1342.1,95.3V140.9M1338.1,95.3h8M1338.1,140.9h8M1343.3,97.9V136.0M1339.3,97.9h8M1339.3,136.0h8M1344.4,90.4V137.7M1340.4,90.4h8M1340.4,137.7h8M1345.6,90.2V133.5M1341.6,90.2h8M1341.6,133.5h8M1346.8,85.1V132.0M1342.8,85.1h8M1342.8,132.0h8M1347.9,85.7V132.7M1343.9,85.7h8M1343.9,132.7h8M1349.1,86.8V127.3M1345.1,86.8h8M1345.1,127.3h8M1350.3,83.5V125.0M1346.3,83.5h8M1346.3,125.0h8M1351.4,85.1V126.2M1347.4,85.1h8M1347.4,126.2h8M1352.6,78.6V127.9M1348.6,78.6h8M1348.6,127.9h8M1353.8,78.7V123.1M1349.8,78.7h8M1349.8,123.1h8M1354.9,73.9V121.5M1350.9,73.9h8M1350.9,121.5h8M1356.1,75.0V117.6M1352.1,75.0h8M1352.1,117.6h8M1357.3,72.5V116.1M1353.3,72.5h8M1353.3,116.1h8M1358.4,66.8V111.6M1354.4,66.8h8M1354.4,111.6h8M1359.6,68.8V114.0M1355.6,68.8h8M1355.6,114.0h8M1360.8,62.3V108.9M1356.8,62.3h8M1356.8,108.9h8M1361.9,62.4V106.4M1357.9,62.4h8M1357.9,106.4h8M1363.1,58.8V103.9M1359.1,58.8h8M1359.1,103.9h8M1364.3,59.8V107.8M1360.3,59.8h8M1360.3,107.8h8M1365.4,60.3V108.2M1361.4,60.3h8M1361.4,108.2h8M1366.6,61.6V104.8M1362.6,61.6h8M1362.6,104.8h8M1367.8,64.6V111.1M1363.8,64.6h8M1363.8,111.1h8M1368.9,67.5V110.3M1364.9,67.5h8M1364.9,110.3h8M1370.1,67.4V112.9M1366.1,67.4h8M1366.1,112.9h8M1371.3,70.5V115.4M1367.3,70.5h8M1367.3,115.4h8M1372.4,68.6V112.9M1368.4,68.6h8M1368.4,112.9h8M1373.6,73.2V116.2M1369.6,73.2h8M1369.6,116.2h8M1374.8,69.1V119.1M1370.8,69.1h8M1370.8,119.1h8M1375.9,76.9V119.6M1371.9,76.9h8M1371.9,119.6h8M1377.1,77.1V118.3M1373.1,77.1h8M1373.1,118.3h8M1378.3,75.7V121.1M1374.3,75.7h8M1374.3,121.1h8M1379.4,79.1V119.1M1375.4,79.1h8M1375.4,119.1h8M1380.6,80.5V126.7M1376.6,80.5h8M1376.6,126.7h8M1381.8,79.8V123.6M1377.8,79.8h8M1377.8,123.6h8M1382.9,87.4V126.5M1378.9,87.4h8M1378.9,126.5h8M1384.1,86.5V126.9M1380.1,86.5h8M1380.1,126.9h8M1385.3,81.7V127.9M1381.3,81.7h8M1381.3,127.9h8M1386.4,89.7V127.0M1382.4,89.7h8M1382.4,127.0h8M1387.6,89.7V126.2M1383.6,89.7h8M1383.6,126.2h8M1388.8,94.8V131.6M1384.8,94.8h8M1384.8,131.6h8M1389.9,94.5V133.7M1385.9,94.5h8M1385.9,133.7h8M1391.1,94.8V132.3M1387.1,94.8h8M1387.1,132.3h8M1392.3,93.4V135.5M1388.3,93.4h8M1388.3,135.5h8M1393.4,92.0V132.5M1389.4,92.0h8M1389.4,132.5h8M1394.6,96.2V136.5M1390.6,96.2h8M1390.6,136.5h8M1395.8,103.7V141.5M1391.8,103.7h8M1391.8,141.5h8M1396.9,98.6V142.6M1392.9,98.6h8M1392.9,142.6h8M1398.1,101.5V137.0M1394.1,101.5h8M1394.1,137.0h8M1399.3,101.5V139.9M1395.3,101.5h8M1395.3,139.9h8M1400.5,105.1V143.1M1396.5,105.1h8M1396.5,143.1h8M1401.6,107.4V142.3M1397.6,107.4h8M1397.6,142.3h8M1402.8,112.7V144.7M1398.8,112.7h8M1398.8,144.7h8M1404.0,107.6V145.1M1400.0,107.6h8M1400.0,145.1h8M1405.1,115.4V148.7M1401.1,115.4h8M1401.1,148.7h8M1406.3,115.8V154.8M1402.3,115.8h8M1402.3,154.8h8M1407.5,116.0V149.4M1403.5,116.0h8M1403.5,149.4h8M1408.6,111.8V148.3M1404.6,111.8h8M1404.6,148.3h8M1409.8,116.4V156.3M1405.8,116.4h8M1405.8,156.3h8M1411.0,121.7V151.1M1407.0,121.7h8M1407.0,151.1h8M1412.1,120.1V153.5M1408.1,120.1h8M1408.1,153.5h8M1413.3,122.0V150.5M1409.3,122.0h8M1409.3,150.5h8M1414.5,126.5V154.3M1410.5,126.5h8M1410.5,154.3h8M1415.6,123.8V157.4M1411.6,123.8h8M1411.6,157.4h8M1416.8,124.4V160.0M1412.8,124.4h8M1412.8,160.0h8M1418.0,130.7V159.7M1414.0,130.7h8M1414.0,159.7h8M1419.1,125.9V158.2M1415.1,125.9h8M1415.1,158.2h8M1420.3,130.8V160.8M1416.3,130.8h8M1416.3,160.8h8M1421.5,135.8V161.9M1417.5,135.8h8M1417.5,161.9h8M1422.6,135.3V161.5M1418.6,135.3h8M1418.6,161.5h8M1423.8,138.7V166.8M1419.8,138.7h8M1419.8,166.8h8M1425.0,136.6V164.8M1421.0,136.6h8M1421.0,164.8h8M1426.1,142.5V168.1M1422.1,142.5h8M1422.1,168.1h8M1427.3,144.0V170.2M1423.3,144.0h8M1423.3,170.2h8M1428.5,137.7V161.1M1424.5,137.7h8M1424.5,161.1h8M1429.6,144.6V170.2M1425.6,144.6h8M1425.6,170.2h8M1430.8,144.6V175.8M1426.8,144.6h8M1426.8,175.8h8M1432.0,147.8V171.2M1428.0,147.8h8M1428.0,171.2h8M1433.1,143.5V172.9M1429.1,143.5h8M1429.1,172.9h8M1434.3,147.5V175.1M1430.3,147.5h8M1430.3,175.1h8M1435.5,154.7V178.7M1431.5,154.7h8M1431.5,178.7h8M1436.6,155.9V178.9M1432.6,155.9h8M1432.6,178.9h8M1437.8,153.4V173.5M1433.8,153.4h8M1433.8,173.5h8" stroke="#3b3bff" stroke-opacity="0.85" stroke-width="1.15" fill="none"/>
<circle cx="1288.4" cy="166.7" r="5.3" fill="none" stroke="#000" stroke-width="1.15"/>
<circle cx="1290.7" cy="160.3" r="5.3" fill="none" stroke="#000" stroke-width="1.15"/>
<circle cx="1293.1" cy="162.9" r="5.3" fill="none" stroke="#000" stroke-width="1.15"/>
<circle cx="1295.4" cy="162.3" r="5.3" fill="none" stroke="#000" stroke-width="1.15"/>
<circle cx="1297.7" cy="163.1" r="5.3" fill="none" stroke="#000" stroke-width="1.15"/>
<circle cx="1300.1" cy="160.4" r="5.3" fill="none" stroke="#000" stroke-width="1.15"/>
<circle cx="1302.4" cy="159.5" r="5.3" fill="none" stroke="#000" stroke-width="1.15"/>
<circle cx="1304.7" cy="153.6" r="5.3" fill="none" stroke="#000" stroke-width="1.15"/>
<circle cx="1307.1" cy="157.5" r="5.3" fill="none" stroke="#000" stroke-width="1.15"/>
<circle cx="1309.4" cy="150.1" r="5.3" fill="none" stroke="#000" stroke-width="1.15"/>
<circle cx="1311.7" cy="148.6" r="5.3" fill="none" stroke="#000" stroke-width="1.15"/>
<circle cx="1314.1" cy="147.8" r="5.3" fill="none" stroke="#000" stroke-width="1.15"/>
<circle cx="1316.4" cy="149.5" r="5.3" fill="none" stroke="#000" stroke-width="1.15"/>
<circle cx="1318.7" cy="143.4" r="5.3" fill="none" stroke="#000" stroke-width="1.15"/>
<circle cx="1321.1" cy="143.2" r="5.3" fill="none" stroke="#000" stroke-width="1.15"/>
<circle cx="1323.4" cy="140.5" r="5.3" fill="none" stroke="#000" stroke-width="1.15"/>
<circle cx="1325.8" cy="137.3" r="5.3" fill="none" stroke="#000" stroke-width="1.15"/>
<circle cx="1328.1" cy="135.7" r="5.3" fill="none" stroke="#000" stroke-width="1.15"/>
<circle cx="1330.4" cy="133.6" r="5.3" fill="none" stroke="#000" stroke-width="1.15"/>
<circle cx="1332.8" cy="131.5" r="5.3" fill="none" stroke="#000" stroke-width="1.15"/>
<circle cx="1335.1" cy="127.2" r="5.3" fill="none" stroke="#000" stroke-width="1.15"/>
<circle cx="1337.4" cy="122.9" r="5.3" fill="none" stroke="#000" stroke-width="1.15"/>
<circle cx="1339.8" cy="118.7" r="5.3" fill="none" stroke="#000" stroke-width="1.15"/>
<circle cx="1342.1" cy="118.1" r="5.3" fill="none" stroke="#000" stroke-width="1.15"/>
<circle cx="1344.4" cy="114.0" r="5.3" fill="none" stroke="#000" stroke-width="1.15"/>
<circle cx="1346.8" cy="108.6" r="5.3" fill="none" stroke="#000" stroke-width="1.15"/>
<circle cx="1349.1" cy="107.0" r="5.3" fill="none" stroke="#000" stroke-width="1.15"/>
<circle cx="1351.4" cy="105.6" r="5.3" fill="none" stroke="#000" stroke-width="1.15"/>
<circle cx="1353.8" cy="100.9" r="5.3" fill="none" stroke="#000" stroke-width="1.15"/>
<circle cx="1356.1" cy="96.3" r="5.3" fill="none" stroke="#000" stroke-width="1.15"/>
<circle cx="1358.4" cy="89.2" r="5.3" fill="none" stroke="#000" stroke-width="1.15"/>
<circle cx="1360.8" cy="85.6" r="5.3" fill="none" stroke="#000" stroke-width="1.15"/>
<circle cx="1363.1" cy="81.3" r="5.3" fill="none" stroke="#000" stroke-width="1.15"/>
<circle cx="1365.4" cy="84.2" r="5.3" fill="none" stroke="#000" stroke-width="1.15"/>
<circle cx="1367.8" cy="87.8" r="5.3" fill="none" stroke="#000" stroke-width="1.15"/>
<circle cx="1370.1" cy="90.2" r="5.3" fill="none" stroke="#000" stroke-width="1.15"/>
<circle cx="1372.4" cy="90.8" r="5.3" fill="none" stroke="#000" stroke-width="1.15"/>
<circle cx="1374.8" cy="94.1" r="5.3" fill="none" stroke="#000" stroke-width="1.15"/>
<circle cx="1377.1" cy="97.7" r="5.3" fill="none" stroke="#000" stroke-width="1.15"/>
<circle cx="1379.4" cy="99.1" r="5.3" fill="none" stroke="#000" stroke-width="1.15"/>
<circle cx="1381.8" cy="101.7" r="5.3" fill="none" stroke="#000" stroke-width="1.15"/>
<circle cx="1384.1" cy="106.7" r="5.3" fill="none" stroke="#000" stroke-width="1.15"/>
<circle cx="1386.4" cy="108.4" r="5.3" fill="none" stroke="#000" stroke-width="1.15"/>
<circle cx="1388.8" cy="113.2" r="5.3" fill="none" stroke="#000" stroke-width="1.15"/>
<circle cx="1391.1" cy="113.6" r="5.3" fill="none" stroke="#000" stroke-width="1.15"/>
<circle cx="1393.4" cy="112.3" r="5.3" fill="none" stroke="#000" stroke-width="1.15"/>
<circle cx="1395.8" cy="122.6" r="5.3" fill="none" stroke="#000" stroke-width="1.15"/>
<circle cx="1398.1" cy="119.2" r="5.3" fill="none" stroke="#000" stroke-width="1.15"/>
<circle cx="1400.5" cy="124.1" r="5.3" fill="none" stroke="#000" stroke-width="1.15"/>
<circle cx="1402.8" cy="128.7" r="5.3" fill="none" stroke="#000" stroke-width="1.15"/>
<circle cx="1405.1" cy="132.1" r="5.3" fill="none" stroke="#000" stroke-width="1.15"/>
<circle cx="1407.5" cy="132.7" r="5.3" fill="none" stroke="#000" stroke-width="1.15"/>
<circle cx="1409.8" cy="136.4" r="5.3" fill="none" stroke="#000" stroke-width="1.15"/>
<circle cx="1412.1" cy="136.8" r="5.3" fill="none" stroke="#000" stroke-width="1.15"/>
<circle cx="1414.5" cy="140.4" r="5.3" fill="none" stroke="#000" stroke-width="1.15"/>
<circle cx="1416.8" cy="142.2" r="5.3" fill="none" stroke="#000" stroke-width="1.15"/>
<circle cx="1419.1" cy="142.0" r="5.3" fill="none" stroke="#000" stroke-width="1.15"/>
<circle cx="1421.5" cy="148.9" r="5.3" fill="none" stroke="#000" stroke-width="1.15"/>
<circle cx="1423.8" cy="152.8" r="5.3" fill="none" stroke="#000" stroke-width="1.15"/>
<circle cx="1426.1" cy="155.3" r="5.3" fill="none" stroke="#000" stroke-width="1.15"/>
<circle cx="1428.5" cy="149.4" r="5.3" fill="none" stroke="#000" stroke-width="1.15"/>
<circle cx="1430.8" cy="160.2" r="5.3" fill="none" stroke="#000" stroke-width="1.15"/>
<circle cx="1433.1" cy="158.2" r="5.3" fill="none" stroke="#000" stroke-width="1.15"/>
<circle cx="1435.5" cy="166.7" r="5.3" fill="none" stroke="#000" stroke-width="1.15"/>
<circle cx="1437.8" cy="163.4" r="5.3" fill="none" stroke="#000" stroke-width="1.15"/>
<polyline points="1288.4,167.7 1289.6,167.0 1290.7,166.4 1291.9,165.8 1293.1,165.1 1294.2,164.4 1295.4,163.7 1296.6,163.0 1297.7,162.3 1298.9,161.6 1300.1,160.8 1301.2,160.1 1302.4,159.3 1303.6,158.5 1304.7,157.7 1305.9,156.9 1307.1,156.0 1308.2,155.1 1309.4,154.3 1310.6,153.4 1311.7,152.4 1312.9,151.5 1314.1,150.5 1315.2,149.6 1316.4,148.6 1317.6,147.5 1318.7,146.5 1319.9,145.4 1321.1,144.4 1322.2,143.2 1323.4,142.1 1324.6,141.0 1325.8,139.8 1326.9,138.6 1328.1,137.3 1329.3,136.1 1330.4,134.8 1331.6,133.5 1332.8,132.2 1333.9,130.8 1335.1,129.4 1336.3,128.0 1337.4,126.5 1338.6,125.0 1339.8,123.5 1340.9,122.0 1342.1,120.4 1343.3,118.8 1344.4,117.1 1345.6,115.5 1346.8,113.7 1347.9,112.0 1349.1,110.2 1350.3,108.4 1351.4,106.5 1352.6,104.6 1353.8,102.7 1354.9,100.7 1356.1,98.7 1357.3,96.6 1358.4,94.5 1359.6,92.3 1360.8,90.1 1361.9,87.9 1363.1,85.6" fill="none" stroke="#ff0000" stroke-width="3" stroke-linejoin="round" />
<polyline points="1363.1,83.9 1437.8,164.3" fill="none" stroke="#0000ff" stroke-width="3" stroke-linejoin="round" />
</g>
<line x1="1288.4" y1="197.8" x2="1288.4" y2="186.8" stroke="#000" stroke-width="1.6" />
<line x1="1307.08" y1="197.8" x2="1307.08" y2="191.8" stroke="#000" stroke-width="1.6" />
<line x1="1325.75" y1="197.8" x2="1325.75" y2="191.8" stroke="#000" stroke-width="1.6" />
<line x1="1344.42" y1="197.8" x2="1344.42" y2="191.8" stroke="#000" stroke-width="1.6" />
<line x1="1363.1" y1="197.8" x2="1363.1" y2="186.8" stroke="#000" stroke-width="1.6" />
<line x1="1381.78" y1="197.8" x2="1381.78" y2="191.8" stroke="#000" stroke-width="1.6" />
<line x1="1400.45" y1="197.8" x2="1400.45" y2="191.8" stroke="#000" stroke-width="1.6" />
<line x1="1419.12" y1="197.8" x2="1419.12" y2="191.8" stroke="#000" stroke-width="1.6" />
<line x1="1437.8" y1="197.8" x2="1437.8" y2="186.8" stroke="#000" stroke-width="1.6" />
<line x1="1269.8" y1="181.05" x2="1275.8" y2="181.05" stroke="#000" stroke-width="1.6" />
<line x1="1269.8" y1="164.3" x2="1280.8" y2="164.3" stroke="#000" stroke-width="1.6" />
<line x1="1269.8" y1="147.55" x2="1275.8" y2="147.55" stroke="#000" stroke-width="1.6" />
<line x1="1269.8" y1="130.8" x2="1280.8" y2="130.8" stroke="#000" stroke-width="1.6" />
<line x1="1269.8" y1="114.05" x2="1275.8" y2="114.05" stroke="#000" stroke-width="1.6" />
<line x1="1269.8" y1="97.3" x2="1280.8" y2="97.3" stroke="#000" stroke-width="1.6" />
<line x1="1269.8" y1="80.55" x2="1275.8" y2="80.55" stroke="#000" stroke-width="1.6" />
<line x1="1269.8" y1="63.8" x2="1280.8" y2="63.8" stroke="#000" stroke-width="1.6" />
<line x1="1269.8" y1="47.05" x2="1275.8" y2="47.05" stroke="#000" stroke-width="1.6" />
<text x="1258.8" y="206" font-size="24" text-anchor="end" >7</text>
<text x="1258.8" y="172.5" font-size="24" text-anchor="end" >8</text>
<text x="1258.8" y="139" font-size="24" text-anchor="end" >9</text>
<text x="1258.8" y="105.5" font-size="24" text-anchor="end" >10</text>
<text x="1258.8" y="72" font-size="24" text-anchor="end" >11</text>
<text x="1288.4" y="224.9" font-size="25" text-anchor="middle" >0</text>
<text x="1363.1" y="224.9" font-size="25" text-anchor="middle" >64</text>
<text x="1437.8" y="224.9" font-size="25" text-anchor="middle" >128</text>
<text x="1364.4" y="246.2" font-size="23" text-anchor="middle" textLength="75.87" lengthAdjust="spacingAndGlyphs" >Pulse #</text>
<text transform="translate(1227.5,118.2) rotate(-90)" font-size="25.5" text-anchor="middle" ><tspan font-style="italic">G</tspan><tspan> (pS)</tspan></text>
<text x="1373.5" y="176.5" font-size="32" text-anchor="middle" >Dark</text>
<text transform="translate(1318.2,103.5) rotate(-50)" font-size="26" text-anchor="middle" fill="#ff0000" ><tspan font-style="italic" font-family="DejaVu Serif" font-size="88%">ν</tspan><tspan>: -1.33</tspan></text>
<text transform="translate(1416.5,95.5) rotate(47)" font-size="26" text-anchor="middle" fill="#0000ff" ><tspan font-style="italic" font-family="DejaVu Serif" font-size="88%">ν</tspan><tspan>: 0.07</tspan></text>
</g>
<g id="pc">
<rect x="131.2" y="608.5" width="324.1" height="436.9000000000001" fill="none" stroke="#000" stroke-width="2.1"/>
<line x1="131.2" y1="1024.7" x2="144.7" y2="1024.7" stroke="#000" stroke-width="2" />
<text x="123" y="1036.9" font-size="37.5" text-anchor="end" >0.4</text>
<line x1="131.2" y1="983.1" x2="138.2" y2="983.1" stroke="#000" stroke-width="2" />
<line x1="131.2" y1="941.5" x2="144.7" y2="941.5" stroke="#000" stroke-width="2" />
<text x="123" y="953.7" font-size="37.5" text-anchor="end" >0.8</text>
<line x1="131.2" y1="899.9" x2="138.2" y2="899.9" stroke="#000" stroke-width="2" />
<line x1="131.2" y1="858.3" x2="144.7" y2="858.3" stroke="#000" stroke-width="2" />
<text x="123" y="870.5" font-size="37.5" text-anchor="end" >1.2</text>
<line x1="131.2" y1="816.7" x2="138.2" y2="816.7" stroke="#000" stroke-width="2" />
<line x1="131.2" y1="775.1" x2="144.7" y2="775.1" stroke="#000" stroke-width="2" />
<text x="123" y="787.3" font-size="37.5" text-anchor="end" >1.6</text>
<line x1="131.2" y1="733.5" x2="138.2" y2="733.5" stroke="#000" stroke-width="2" />
<line x1="131.2" y1="691.9" x2="144.7" y2="691.9" stroke="#000" stroke-width="2" />
<text x="123" y="704.1" font-size="37.5" text-anchor="end" >2.0</text>
<line x1="131.2" y1="650.3" x2="138.2" y2="650.3" stroke="#000" stroke-width="2" />
<line x1="131.2" y1="608.7" x2="144.7" y2="608.7" stroke="#000" stroke-width="2" />
<text x="123" y="620.9" font-size="37.5" text-anchor="end" >2.4</text>
<line x1="163.1" y1="1045.4" x2="163.1" y2="1030.4" stroke="#000" stroke-width="2" />
<text x="163.1" y="1081.3" font-size="34.5" text-anchor="middle" >1</text>
<line x1="195.6" y1="1045.4" x2="195.6" y2="1038" stroke="#000" stroke-width="2" />
<line x1="228.1" y1="1045.4" x2="228.1" y2="1030.4" stroke="#000" stroke-width="2" />
<text x="228.1" y="1081.3" font-size="34.5" text-anchor="middle" >2</text>
<line x1="260.6" y1="1045.4" x2="260.6" y2="1038" stroke="#000" stroke-width="2" />
<line x1="293.1" y1="1045.4" x2="293.1" y2="1030.4" stroke="#000" stroke-width="2" />
<text x="293.1" y="1081.3" font-size="34.5" text-anchor="middle" >3</text>
<line x1="325.6" y1="1045.4" x2="325.6" y2="1038" stroke="#000" stroke-width="2" />
<line x1="358.1" y1="1045.4" x2="358.1" y2="1030.4" stroke="#000" stroke-width="2" />
<text x="358.1" y="1081.3" font-size="34.5" text-anchor="middle" >4</text>
<line x1="390.6" y1="1045.4" x2="390.6" y2="1038" stroke="#000" stroke-width="2" />
<line x1="423.1" y1="1045.4" x2="423.1" y2="1030.4" stroke="#000" stroke-width="2" />
<text x="423.1" y="1081.3" font-size="34.5" text-anchor="middle" >5</text>
<text x="293.6" y="1116" font-size="34" text-anchor="middle" textLength="131.91" lengthAdjust="spacingAndGlyphs" >Device #</text>
<text transform="translate(57.7,826.5) rotate(-90)" font-size="35.5" text-anchor="middle" textLength="206.14" lengthAdjust="spacingAndGlyphs" >Nonsymmetry</text>
<text x="-2.5" y="607.6" font-size="62" >c</text>
<rect x="185.3" y="641" width="11.2" height="10.8" fill="#000"/>
<circle cx="190.8" cy="691" r="6" fill="#ff0000"/>
<text x="241.6" y="659" font-size="37" >Dark</text>
<text x="241.6" y="704.2" font-size="37" >Light</text>
<path d="M163.1,820.2V969.2M155.1,820.2h16M155.1,969.2h16" stroke="#000" stroke-width="1.4" fill="none"/>
<rect x="157.7" y="889.3" width="10.8" height="10.8" fill="#000"/>
<path d="M228.1,757.8V1008.4M220.1,757.8h16M220.1,1008.4h16" stroke="#000" stroke-width="1.4" fill="none"/>
<rect x="222.7" y="877.7" width="10.8" height="10.8" fill="#000"/>
<path d="M293.1,843.8V969.2M285.1,843.8h16M285.1,969.2h16" stroke="#000" stroke-width="1.4" fill="none"/>
<rect x="287.7" y="900.9" width="10.8" height="10.8" fill="#000"/>
<path d="M358.1,830.3V954.6M350.1,830.3h16M350.1,954.6h16" stroke="#000" stroke-width="1.4" fill="none"/>
<rect x="352.7" y="887.3" width="10.8" height="10.8" fill="#000"/>
<path d="M423.1,653.6V956.1M415.1,653.6h16M415.1,956.1h16" stroke="#000" stroke-width="1.4" fill="none"/>
<rect x="417.7" y="799.7" width="10.8" height="10.8" fill="#000"/>
<path d="M163.1,995.7V1040.8M155.1,995.7h16M155.1,1040.8h16" stroke="#ff0000" stroke-width="1.4" fill="none"/>
<circle cx="163.1" cy="1018.2" r="6.2" fill="#ff0000"/>
<path d="M228.1,1024.8V1036.6M220.1,1024.8h16M220.1,1036.6h16" stroke="#ff0000" stroke-width="1.4" fill="none"/>
<circle cx="228.1" cy="1030.8" r="6.2" fill="#ff0000"/>
<path d="M293.1,1014.5V1036.2M285.1,1014.5h16M285.1,1036.2h16" stroke="#ff0000" stroke-width="1.4" fill="none"/>
<circle cx="293.1" cy="1025.2" r="6.2" fill="#ff0000"/>
<path d="M358.1,1019.6V1029.6M350.1,1019.6h16M350.1,1029.6h16" stroke="#ff0000" stroke-width="1.4" fill="none"/>
<circle cx="358.1" cy="1024.2" r="6.2" fill="#ff0000"/>
<path d="M423.1,1011.7V1023.8M415.1,1011.7h16M415.1,1023.8h16" stroke="#ff0000" stroke-width="1.4" fill="none"/>
<circle cx="423.1" cy="1018.2" r="6.2" fill="#ff0000"/>
</g>
<g id="pd">
<text x="483.3" y="607.6" font-size="61" >d</text>
<line x1="611.8" y1="763.4" x2="679.1" y2="696" stroke="#000" stroke-width="1.8" />
<line x1="611.8" y1="811.2" x2="679.1" y2="763.8" stroke="#000" stroke-width="1.8" />
<line x1="611.8" y1="850.3" x2="679.1" y2="829.5" stroke="#000" stroke-width="1.8" />
<line x1="600.5" y1="916.7" x2="679.1" y2="945" stroke="#000" stroke-width="1.8" />
<line x1="559.5" y1="932.3" x2="679.1" y2="1009.5" stroke="#000" stroke-width="1.8" />
<line x1="722.6" y1="696" x2="836" y2="727.5" stroke="#c5c070" stroke-width="1.8" stroke-dasharray="5,3" stroke-opacity="0.38"/>
<line x1="722.6" y1="696" x2="836" y2="799.5" stroke="#c5c070" stroke-width="1.8" stroke-dasharray="5,3" stroke-opacity="0.95"/>
<line x1="722.6" y1="696" x2="836" y2="910.2" stroke="#c5c070" stroke-width="1.8" stroke-dasharray="5,3" stroke-opacity="0.75"/>
<line x1="722.6" y1="696" x2="836" y2="974.8" stroke="#c5c070" stroke-width="1.8" stroke-dasharray="5,3" stroke-opacity="0.55"/>
<line x1="722.6" y1="763.8" x2="836" y2="727.5" stroke="#c5c070" stroke-width="1.8" stroke-dasharray="5,3" stroke-opacity="0.55"/>
<line x1="722.6" y1="763.8" x2="836" y2="799.5" stroke="#c5c070" stroke-width="1.8" stroke-dasharray="5,3" stroke-opacity="0.38"/>
<line x1="722.6" y1="763.8" x2="836" y2="910.2" stroke="#c5c070" stroke-width="1.8" stroke-dasharray="5,3" stroke-opacity="0.95"/>
<line x1="722.6" y1="763.8" x2="836" y2="974.8" stroke="#c5c070" stroke-width="1.8" stroke-dasharray="5,3" stroke-opacity="0.75"/>
<line x1="722.6" y1="829.5" x2="836" y2="727.5" stroke="#c5c070" stroke-width="1.8" stroke-dasharray="5,3" stroke-opacity="0.75"/>
<line x1="722.6" y1="829.5" x2="836" y2="799.5" stroke="#c5c070" stroke-width="1.8" stroke-dasharray="5,3" stroke-opacity="0.55"/>
<line x1="722.6" y1="829.5" x2="836" y2="910.2" stroke="#c5c070" stroke-width="1.8" stroke-dasharray="5,3" stroke-opacity="0.38"/>
<line x1="722.6" y1="829.5" x2="836" y2="974.8" stroke="#c5c070" stroke-width="1.8" stroke-dasharray="5,3" stroke-opacity="0.95"/>
<line x1="722.6" y1="945" x2="836" y2="727.5" stroke="#c5c070" stroke-width="1.8" stroke-dasharray="5,3" stroke-opacity="0.95"/>
<line x1="722.6" y1="945" x2="836" y2="799.5" stroke="#c5c070" stroke-width="1.8" stroke-dasharray="5,3" stroke-opacity="0.75"/>
<line x1="722.6" y1="945" x2="836" y2="910.2" stroke="#c5c070" stroke-width="1.8" stroke-dasharray="5,3" stroke-opacity="0.55"/>
<line x1="722.6" y1="945" x2="836" y2="974.8" stroke="#c5c070" stroke-width="1.8" stroke-dasharray="5,3" stroke-opacity="0.38"/>
<line x1="722.6" y1="1009.5" x2="836" y2="727.5" stroke="#c5c070" stroke-width="1.8" stroke-dasharray="5,3" stroke-opacity="0.38"/>
<line x1="722.6" y1="1009.5" x2="836" y2="799.5" stroke="#c5c070" stroke-width="1.8" stroke-dasharray="5,3" stroke-opacity="0.95"/>
<line x1="722.6" y1="1009.5" x2="836" y2="910.2" stroke="#c5c070" stroke-width="1.8" stroke-dasharray="5,3" stroke-opacity="0.75"/>
<line x1="722.6" y1="1009.5" x2="836" y2="974.8" stroke="#c5c070" stroke-width="1.8" stroke-dasharray="5,3" stroke-opacity="0.55"/>
<line x1="880" y1="727.5" x2="975.3" y2="761.8" stroke="#5f8c94" stroke-width="1.7" stroke-dasharray="5,3" stroke-opacity="0.5"/>
<line x1="880" y1="727.5" x2="975.3" y2="827.5" stroke="#5f8c94" stroke-width="1.7" stroke-dasharray="5,3" stroke-opacity="0.75"/>
<line x1="880" y1="727.5" x2="975.3" y2="944.8" stroke="#5f8c94" stroke-width="1.7" stroke-dasharray="5,3" stroke-opacity="1.0"/>
<line x1="880" y1="799.5" x2="975.3" y2="761.8" stroke="#5f8c94" stroke-width="1.7" stroke-dasharray="5,3" stroke-opacity="1.0"/>
<line x1="880" y1="799.5" x2="975.3" y2="827.5" stroke="#5f8c94" stroke-width="1.7" stroke-dasharray="5,3" stroke-opacity="0.5"/>
<line x1="880" y1="799.5" x2="975.3" y2="944.8" stroke="#5f8c94" stroke-width="1.7" stroke-dasharray="5,3" stroke-opacity="0.75"/>
<line x1="880" y1="910.2" x2="975.3" y2="761.8" stroke="#5f8c94" stroke-width="1.7" stroke-dasharray="5,3" stroke-opacity="0.75"/>
<line x1="880" y1="910.2" x2="975.3" y2="827.5" stroke="#5f8c94" stroke-width="1.7" stroke-dasharray="5,3" stroke-opacity="1.0"/>
<line x1="880" y1="910.2" x2="975.3" y2="944.8" stroke="#5f8c94" stroke-width="1.7" stroke-dasharray="5,3" stroke-opacity="0.5"/>
<line x1="880" y1="974.8" x2="975.3" y2="761.8" stroke="#5f8c94" stroke-width="1.7" stroke-dasharray="5,3" stroke-opacity="0.5"/>
<line x1="880" y1="974.8" x2="975.3" y2="827.5" stroke="#5f8c94" stroke-width="1.7" stroke-dasharray="5,3" stroke-opacity="0.75"/>
<line x1="880" y1="974.8" x2="975.3" y2="944.8" stroke="#5f8c94" stroke-width="1.7" stroke-dasharray="5,3" stroke-opacity="1.0"/>
<circle cx="700.6" cy="696" r="22" fill="#cfcb7c"/>
<circle cx="700.6" cy="763.8" r="22" fill="#cfcb7c"/>
<circle cx="700.6" cy="829.5" r="22" fill="#cfcb7c"/>
<circle cx="700.6" cy="945" r="22" fill="#cfcb7c"/>
<circle cx="700.6" cy="1009.5" r="22" fill="#cfcb7c"/>
<circle cx="858" cy="727.5" r="22" fill="#f8dccd"/>
<circle cx="858" cy="799.5" r="22" fill="#f8dccd"/>
<circle cx="858" cy="910.2" r="22" fill="#f8dccd"/>
<circle cx="858" cy="974.8" r="22" fill="#f8dccd"/>
<circle cx="997.8" cy="761.8" r="22.5" fill="#d3ece5"/>
<circle cx="997.8" cy="827.5" r="22.5" fill="#d3ece5"/>
<circle cx="997.8" cy="944.8" r="22.5" fill="#d3ece5"/>
<text x="700.6" y="706.6" font-size="32" text-anchor="middle" >1</text>
<text x="700.6" y="774.4" font-size="32" text-anchor="middle" >2</text>
<text x="700.6" y="840.1" font-size="32" text-anchor="middle" >3</text>
<text x="700.6" y="955.6" font-size="32" text-anchor="middle" textLength="49.09" lengthAdjust="spacingAndGlyphs" >783</text>
<text x="700.6" y="1020.1" font-size="32" text-anchor="middle" textLength="49.09" lengthAdjust="spacingAndGlyphs" >784</text>
<text x="858" y="738.1" font-size="32" text-anchor="middle" >1</text>
<text x="858" y="810.1" font-size="32" text-anchor="middle" >2</text>
<text x="858" y="920.8" font-size="32" text-anchor="middle" >99</text>
<text x="858" y="985.4" font-size="32" text-anchor="middle" textLength="49.09" lengthAdjust="spacingAndGlyphs" >300</text>
<text x="997.8" y="772.4" font-size="32" text-anchor="middle" >1</text>
<text x="997.8" y="838.1" font-size="32" text-anchor="middle" >2</text>
<text x="997.8" y="955.4" font-size="32" text-anchor="middle" >10</text>
<circle cx="700.6" cy="864.5" r="3.6" fill="#cfcb7c"/>
<circle cx="700.6" cy="885.5" r="3.6" fill="#cfcb7c"/>
<circle cx="700.6" cy="906.3" r="3.6" fill="#cfcb7c"/>
<circle cx="858" cy="835.3" r="3.6" fill="#f8dccd"/>
<circle cx="858" cy="855.8" r="3.6" fill="#f8dccd"/>
<circle cx="858" cy="875.8" r="3.6" fill="#f8dccd"/>
<circle cx="997.8" cy="865.6" r="3.6" fill="#d3ece5"/>
<circle cx="997.8" cy="885.9" r="3.6" fill="#d3ece5"/>
<circle cx="997.8" cy="906" r="3.6" fill="#d3ece5"/>
<line x1="857.5" y1="665.7" x2="790.5" y2="712" stroke="#000" stroke-width="1.4" />
<path d="M803.5,710.5 L790.5,712 L796,700" fill="none" stroke="#000" stroke-width="1.4"/>
<line x1="866" y1="665.7" x2="937.5" y2="743" stroke="#000" stroke-width="1.4" />
<path d="M925,742.5 L937.5,743 L934.5,731" fill="none" stroke="#000" stroke-width="1.4"/>
<text x="871.3" y="659.6" font-size="33" text-anchor="middle" textLength="224.36" lengthAdjust="spacingAndGlyphs" >Synaptic weights</text>
<polygon points="511.1,793.7 611.8,753.7 611.8,911.8 511.1,951.8" fill="#000"/>
<g transform="matrix(3.5964,-1.4286,0,5.6464,511.1,793.7)" shape-rendering="crispEdges"><rect x="19" y="3" width="1.04" height="1.04" fill="rgb(26,26,26)"/><rect x="20" y="3" width="1.04" height="1.04" fill="rgb(49,49,49)"/><rect x="21" y="3" width="1.04" height="1.04" fill="rgb(77,77,77)"/><rect x="22" y="3" width="1.04" height="1.04" fill="rgb(47,47,47)"/><rect x="13" y="4" width="1.04" height="1.04" fill="rgb(29,29,29)"/><rect x="14" y="4" width="1.04" height="1.04" fill="rgb(43,43,43)"/><rect x="15" y="4" width="1.04" height="1.04" fill="rgb(61,61,61)"/><rect x="16" y="4" width="1.04" height="1.04" fill="rgb(83,83,83)"/><rect x="17" y="4" width="1.04" height="1.04" fill="rgb(113,113,113)"/><rect x="18" y="4" width="1.04" height="1.04" fill="rgb(147,147,147)"/><rect x="19" y="4" width="1.04" height="1.04" fill="rgb(178,178,178)"/><rect x="20" y="4" width="1.04" height="1.04" fill="rgb(208,208,208)"/><rect x="21" y="4" width="1.04" height="1.04" fill="rgb(229,229,229)"/><rect x="22" y="4" width="1.04" height="1.04" fill="rgb(198,198,198)"/><rect x="23" y="4" width="1.04" height="1.04" fill="rgb(121,121,121)"/><rect x="24" y="4" width="1.04" height="1.04" fill="rgb(35,35,35)"/><rect x="8" y="5" width="1.04" height="1.04" fill="rgb(48,48,48)"/><rect x="9" y="5" width="1.04" height="1.04" fill="rgb(93,93,93)"/><rect x="10" y="5" width="1.04" height="1.04" fill="rgb(116,116,116)"/><rect x="11" y="5" width="1.04" height="1.04" fill="rgb(141,141,141)"/><rect x="12" y="5" width="1.04" height="1.04" fill="rgb(164,164,164)"/><rect x="13" y="5" width="1.04" height="1.04" fill="rgb(185,185,185)"/><rect x="14" y="5" width="1.04" height="1.04" fill="rgb(204,204,204)"/><rect x="15" y="5" width="1.04" height="1.04" fill="rgb(220,220,220)"/><rect x="16" y="5" width="1.04" height="1.04" fill="rgb(233,233,233)"/><rect x="17" y="5" width="1.04" height="1.04" fill="rgb(243,243,243)"/><rect x="18" y="5" width="1.04" height="1.04" fill="rgb(250,250,250)"/><rect x="19" y="5" width="1.04" height="1.04" fill="rgb(253,253,253)"/><rect x="20" y="5" width="1.04" height="1.04" fill="rgb(254,254,254)"/><rect x="21" y="5" width="1.04" height="1.04" fill="rgb(254,254,254)"/><rect x="22" y="5" width="1.04" height="1.04" fill="rgb(254,254,254)"/><rect x="23" y="5" width="1.04" height="1.04" fill="rgb(237,237,237)"/><rect x="24" y="5" width="1.04" height="1.04" fill="rgb(127,127,127)"/><rect x="7" y="6" width="1.04" height="1.04" fill="rgb(42,42,42)"/><rect x="8" y="6" width="1.04" height="1.04" fill="rgb(181,181,181)"/><rect x="9" y="6" width="1.04" height="1.04" fill="rgb(237,237,237)"/><rect x="10" y="6" width="1.04" height="1.04" fill="rgb(245,245,245)"/><rect x="11" y="6" width="1.04" height="1.04" fill="rgb(249,249,249)"/><rect x="12" y="6" width="1.04" height="1.04" fill="rgb(252,252,252)"/><rect x="13" y="6" width="1.04" height="1.04" fill="rgb(254,254,254)"/><rect x="14" y="6" width="1.04" height="1.04" fill="rgb(254,254,254)"/><rect x="15" y="6" width="1.04" height="1.04" fill="rgb(253,253,253)"/><rect x="16" y="6" width="1.04" height="1.04" fill="rgb(251,251,251)"/><rect x="17" y="6" width="1.04" height="1.04" fill="rgb(249,249,249)"/><rect x="18" y="6" width="1.04" height="1.04" fill="rgb(239,239,239)"/><rect x="19" y="6" width="1.04" height="1.04" fill="rgb(222,222,222)"/><rect x="20" y="6" width="1.04" height="1.04" fill="rgb(202,202,202)"/><rect x="21" y="6" width="1.04" height="1.04" fill="rgb(214,214,214)"/><rect x="22" y="6" width="1.04" height="1.04" fill="rgb(251,251,251)"/><rect x="23" y="6" width="1.04" height="1.04" fill="rgb(252,252,252)"/><rect x="24" y="6" width="1.04" height="1.04" fill="rgb(155,155,155)"/><rect x="7" y="7" width="1.04" height="1.04" fill="rgb(57,57,57)"/><rect x="8" y="7" width="1.04" height="1.04" fill="rgb(210,210,210)"/><rect x="9" y="7" width="1.04" height="1.04" fill="rgb(250,250,250)"/><rect x="10" y="7" width="1.04" height="1.04" fill="rgb(245,245,245)"/><rect x="11" y="7" width="1.04" height="1.04" fill="rgb(236,236,236)"/><rect x="12" y="7" width="1.04" height="1.04" fill="rgb(229,229,229)"/><rect x="13" y="7" width="1.04" height="1.04" fill="rgb(220,220,220)"/><rect x="14" y="7" width="1.04" height="1.04" fill="rgb(196,196,196)"/><rect x="15" y="7" width="1.04" height="1.04" fill="rgb(174,174,174)"/><rect x="16" y="7" width="1.04" height="1.04" fill="rgb(153,153,153)"/><rect x="17" y="7" width="1.04" height="1.04" fill="rgb(138,138,138)"/><rect x="18" y="7" width="1.04" height="1.04" fill="rgb(101,101,101)"/><rect x="19" y="7" width="1.04" height="1.04" fill="rgb(65,65,65)"/><rect x="20" y="7" width="1.04" height="1.04" fill="rgb(45,45,45)"/><rect x="21" y="7" width="1.04" height="1.04" fill="rgb(127,127,127)"/><rect x="22" y="7" width="1.04" height="1.04" fill="rgb(244,244,244)"/><rect x="23" y="7" width="1.04" height="1.04" fill="rgb(249,249,249)"/><rect x="24" y="7" width="1.04" height="1.04" fill="rgb(137,137,137)"/><rect x="8" y="8" width="1.04" height="1.04" fill="rgb(101,101,101)"/><rect x="9" y="8" width="1.04" height="1.04" fill="rgb(147,147,147)"/><rect x="10" y="8" width="1.04" height="1.04" fill="rgb(117,117,117)"/><rect x="11" y="8" width="1.04" height="1.04" fill="rgb(91,91,91)"/><rect x="12" y="8" width="1.04" height="1.04" fill="rgb(74,74,74)"/><rect x="13" y="8" width="1.04" height="1.04" fill="rgb(62,62,62)"/><rect x="14" y="8" width="1.04" height="1.04" fill="rgb(37,37,37)"/><rect x="15" y="8" width="1.04" height="1.04" fill="rgb(23,23,23)"/><rect x="21" y="8" width="1.04" height="1.04" fill="rgb(132,132,132)"/><rect x="22" y="8" width="1.04" height="1.04" fill="rgb(248,248,248)"/><rect x="23" y="8" width="1.04" height="1.04" fill="rgb(245,245,245)"/><rect x="24" y="8" width="1.04" height="1.04" fill="rgb(117,117,117)"/><rect x="20" y="9" width="1.04" height="1.04" fill="rgb(29,29,29)"/><rect x="21" y="9" width="1.04" height="1.04" fill="rgb(177,177,177)"/><rect x="22" y="9" width="1.04" height="1.04" fill="rgb(253,253,253)"/><rect x="23" y="9" width="1.04" height="1.04" fill="rgb(238,238,238)"/><rect x="24" y="9" width="1.04" height="1.04" fill="rgb(99,99,99)"/><rect x="20" y="10" width="1.04" height="1.04" fill="rgb(80,80,80)"/><rect x="21" y="10" width="1.04" height="1.04" fill="rgb(226,226,226)"/><rect x="22" y="10" width="1.04" height="1.04" fill="rgb(254,254,254)"/><rect x="23" y="10" width="1.04" height="1.04" fill="rgb(205,205,205)"/><rect x="24" y="10" width="1.04" height="1.04" fill="rgb(52,52,52)"/><rect x="19" y="11" width="1.04" height="1.04" fill="rgb(39,39,39)"/><rect x="20" y="11" width="1.04" height="1.04" fill="rgb(166,166,166)"/><rect x="21" y="11" width="1.04" height="1.04" fill="rgb(250,250,250)"/><rect x="22" y="11" width="1.04" height="1.04" fill="rgb(247,247,247)"/><rect x="23" y="11" width="1.04" height="1.04" fill="rgb(141,141,141)"/><rect x="7" y="12" width="1.04" height="1.04" fill="rgb(24,24,24)"/><rect x="8" y="12" width="1.04" height="1.04" fill="rgb(65,65,65)"/><rect x="9" y="12" width="1.04" height="1.04" fill="rgb(75,75,75)"/><rect x="10" y="12" width="1.04" height="1.04" fill="rgb(75,75,75)"/><rect x="11" y="12" width="1.04" height="1.04" fill="rgb(75,75,75)"/><rect x="12" y="12" width="1.04" height="1.04" fill="rgb(75,75,75)"/><rect x="13" y="12" width="1.04" height="1.04" fill="rgb(68,68,68)"/><rect x="14" y="12" width="1.04" height="1.04" fill="rgb(60,60,60)"/><rect x="15" y="12" width="1.04" height="1.04" fill="rgb(60,60,60)"/><rect x="16" y="12" width="1.04" height="1.04" fill="rgb(60,60,60)"/><rect x="17" y="12" width="1.04" height="1.04" fill="rgb(67,67,67)"/><rect x="18" y="12" width="1.04" height="1.04" fill="rgb(99,99,99)"/><rect x="19" y="12" width="1.04" height="1.04" fill="rgb(170,170,170)"/><rect x="20" y="12" width="1.04" height="1.04" fill="rgb(240,240,240)"/><rect x="21" y="12" width="1.04" height="1.04" fill="rgb(254,254,254)"/><rect x="22" y="12" width="1.04" height="1.04" fill="rgb(214,214,214)"/><rect x="23" y="12" width="1.04" height="1.04" fill="rgb(68,68,68)"/><rect x="7" y="13" width="1.04" height="1.04" fill="rgb(130,130,130)"/><rect x="8" y="13" width="1.04" height="1.04" fill="rgb(220,220,220)"/><rect x="9" y="13" width="1.04" height="1.04" fill="rgb(230,230,230)"/><rect x="10" y="13" width="1.04" height="1.04" fill="rgb(230,230,230)"/><rect x="11" y="13" width="1.04" height="1.04" fill="rgb(230,230,230)"/><rect x="12" y="13" width="1.04" height="1.04" fill="rgb(230,230,230)"/><rect x="13" y="13" width="1.04" height="1.04" fill="rgb(226,226,226)"/><rect x="14" y="13" width="1.04" height="1.04" fill="rgb(221,221,221)"/><rect x="15" y="13" width="1.04" height="1.04" fill="rgb(220,220,220)"/><rect x="16" y="13" width="1.04" height="1.04" fill="rgb(220,220,220)"/><rect x="17" y="13" width="1.04" height="1.04" fill="rgb(224,224,224)"/><rect x="18" y="13" width="1.04" height="1.04" fill="rgb(238,238,238)"/><rect x="19" y="13" width="1.04" height="1.04" fill="rgb(250,250,250)"/><rect x="20" y="13" width="1.04" height="1.04" fill="rgb(254,254,254)"/><rect x="21" y="13" width="1.04" height="1.04" fill="rgb(225,225,225)"/><rect x="22" y="13" width="1.04" height="1.04" fill="rgb(115,115,115)"/><rect x="6" y="14" width="1.04" height="1.04" fill="rgb(26,26,26)"/><rect x="7" y="14" width="1.04" height="1.04" fill="rgb(174,174,174)"/><rect x="8" y="14" width="1.04" height="1.04" fill="rgb(250,250,250)"/><rect x="9" y="14" width="1.04" height="1.04" fill="rgb(253,253,253)"/><rect x="10" y="14" width="1.04" height="1.04" fill="rgb(252,252,252)"/><rect x="11" y="14" width="1.04" height="1.04" fill="rgb(252,252,252)"/><rect x="12" y="14" width="1.04" height="1.04" fill="rgb(253,253,253)"/><rect x="13" y="14" width="1.04" height="1.04" fill="rgb(253,253,253)"/><rect x="14" y="14" width="1.04" height="1.04" fill="rgb(253,253,253)"/><rect x="15" y="14" width="1.04" height="1.04" fill="rgb(252,252,252)"/><rect x="16" y="14" width="1.04" height="1.04" fill="rgb(253,253,253)"/><rect x="17" y="14" width="1.04" height="1.04" fill="rgb(254,254,254)"/><rect x="18" y="14" width="1.04" height="1.04" fill="rgb(254,254,254)"/><rect x="19" y="14" width="1.04" height="1.04" fill="rgb(255,255,255)"/><rect x="20" y="14" width="1.04" height="1.04" fill="rgb(245,245,245)"/><rect x="21" y="14" width="1.04" height="1.04" fill="rgb(134,134,134)"/><rect x="7" y="15" width="1.04" height="1.04" fill="rgb(83,83,83)"/><rect x="8" y="15" width="1.04" height="1.04" fill="rgb(164,164,164)"/><rect x="9" y="15" width="1.04" height="1.04" fill="rgb(166,166,166)"/><rect x="10" y="15" width="1.04" height="1.04" fill="rgb(163,163,163)"/><rect x="11" y="15" width="1.04" height="1.04" fill="rgb(163,163,163)"/><rect x="12" y="15" width="1.04" height="1.04" fill="rgb(168,168,168)"/><rect x="13" y="15" width="1.04" height="1.04" fill="rgb(171,171,171)"/><rect x="14" y="15" width="1.04" height="1.04" fill="rgb(164,164,164)"/><rect x="15" y="15" width="1.04" height="1.04" fill="rgb(163,163,163)"/><rect x="16" y="15" width="1.04" height="1.04" fill="rgb(169,169,169)"/><rect x="17" y="15" width="1.04" height="1.04" fill="rgb(189,189,189)"/><rect x="18" y="15" width="1.04" height="1.04" fill="rgb(227,227,227)"/><rect x="19" y="15" width="1.04" height="1.04" fill="rgb(254,254,254)"/><rect x="20" y="15" width="1.04" height="1.04" fill="rgb(236,236,236)"/><rect x="21" y="15" width="1.04" height="1.04" fill="rgb(90,90,90)"/><rect x="13" y="16" width="1.04" height="1.04" fill="rgb(21,21,21)"/><rect x="16" y="16" width="1.04" height="1.04" fill="rgb(21,21,21)"/><rect x="17" y="16" width="1.04" height="1.04" fill="rgb(45,45,45)"/><rect x="18" y="16" width="1.04" height="1.04" fill="rgb(174,174,174)"/><rect x="19" y="16" width="1.04" height="1.04" fill="rgb(253,253,253)"/><rect x="20" y="16" width="1.04" height="1.04" fill="rgb(231,231,231)"/><rect x="21" y="16" width="1.04" height="1.04" fill="rgb(77,77,77)"/><rect x="17" y="17" width="1.04" height="1.04" fill="rgb(34,34,34)"/><rect x="18" y="17" width="1.04" height="1.04" fill="rgb(188,188,188)"/><rect x="19" y="17" width="1.04" height="1.04" fill="rgb(254,254,254)"/><rect x="20" y="17" width="1.04" height="1.04" fill="rgb(223,223,223)"/><rect x="21" y="17" width="1.04" height="1.04" fill="rgb(65,65,65)"/><rect x="17" y="18" width="1.04" height="1.04" fill="rgb(84,84,84)"/><rect x="18" y="18" width="1.04" height="1.04" fill="rgb(228,228,228)"/><rect x="19" y="18" width="1.04" height="1.04" fill="rgb(254,254,254)"/><rect x="20" y="18" width="1.04" height="1.04" fill="rgb(200,200,200)"/><rect x="21" y="18" width="1.04" height="1.04" fill="rgb(43,43,43)"/><rect x="4" y="19" width="1.04" height="1.04" fill="rgb(27,27,27)"/><rect x="5" y="19" width="1.04" height="1.04" fill="rgb(32,32,32)"/><rect x="16" y="19" width="1.04" height="1.04" fill="rgb(44,44,44)"/><rect x="17" y="19" width="1.04" height="1.04" fill="rgb(168,168,168)"/><rect x="18" y="19" width="1.04" height="1.04" fill="rgb(250,250,250)"/><rect x="19" y="19" width="1.04" height="1.04" fill="rgb(246,246,246)"/><rect x="20" y="19" width="1.04" height="1.04" fill="rgb(137,137,137)"/><rect x="3" y="20" width="1.04" height="1.04" fill="rgb(46,46,46)"/><rect x="4" y="20" width="1.04" height="1.04" fill="rgb(164,164,164)"/><rect x="5" y="20" width="1.04" height="1.04" fill="rgb(182,182,182)"/><rect x="6" y="20" width="1.04" height="1.04" fill="rgb(89,89,89)"/><rect x="14" y="20" width="1.04" height="1.04" fill="rgb(42,42,42)"/><rect x="15" y="20" width="1.04" height="1.04" fill="rgb(101,101,101)"/><rect x="16" y="20" width="1.04" height="1.04" fill="rgb(184,184,184)"/><rect x="17" y="20" width="1.04" height="1.04" fill="rgb(242,242,242)"/><rect x="18" y="20" width="1.04" height="1.04" fill="rgb(254,254,254)"/><rect x="19" y="20" width="1.04" height="1.04" fill="rgb(215,215,215)"/><rect x="20" y="20" width="1.04" height="1.04" fill="rgb(64,64,64)"/><rect x="3" y="21" width="1.04" height="1.04" fill="rgb(92,92,92)"/><rect x="4" y="21" width="1.04" height="1.04" fill="rgb(234,234,234)"/><rect x="5" y="21" width="1.04" height="1.04" fill="rgb(252,252,252)"/><rect x="6" y="21" width="1.04" height="1.04" fill="rgb(218,218,218)"/><rect x="7" y="21" width="1.04" height="1.04" fill="rgb(122,122,122)"/><rect x="8" y="21" width="1.04" height="1.04" fill="rgb(61,61,61)"/><rect x="9" y="21" width="1.04" height="1.04" fill="rgb(49,49,49)"/><rect x="10" y="21" width="1.04" height="1.04" fill="rgb(56,56,56)"/><rect x="11" y="21" width="1.04" height="1.04" fill="rgb(86,86,86)"/><rect x="12" y="21" width="1.04" height="1.04" fill="rgb(125,125,125)"/><rect x="13" y="21" width="1.04" height="1.04" fill="rgb(164,164,164)"/><rect x="14" y="21" width="1.04" height="1.04" fill="rgb(200,200,200)"/><rect x="15" y="21" width="1.04" height="1.04" fill="rgb(234,234,234)"/><rect x="16" y="21" width="1.04" height="1.04" fill="rgb(252,252,252)"/><rect x="17" y="21" width="1.04" height="1.04" fill="rgb(251,251,251)"/><rect x="18" y="21" width="1.04" height="1.04" fill="rgb(228,228,228)"/><rect x="19" y="21" width="1.04" height="1.04" fill="rgb(132,132,132)"/><rect x="3" y="22" width="1.04" height="1.04" fill="rgb(47,47,47)"/><rect x="4" y="22" width="1.04" height="1.04" fill="rgb(176,176,176)"/><rect x="5" y="22" width="1.04" height="1.04" fill="rgb(244,244,244)"/><rect x="6" y="22" width="1.04" height="1.04" fill="rgb(254,254,254)"/><rect x="7" y="22" width="1.04" height="1.04" fill="rgb(239,239,239)"/><rect x="8" y="22" width="1.04" height="1.04" fill="rgb(220,220,220)"/><rect x="9" y="22" width="1.04" height="1.04" fill="rgb(211,211,211)"/><rect x="10" y="22" width="1.04" height="1.04" fill="rgb(217,217,217)"/><rect x="11" y="22" width="1.04" height="1.04" fill="rgb(234,234,234)"/><rect x="12" y="22" width="1.04" height="1.04" fill="rgb(246,246,246)"/><rect x="13" y="22" width="1.04" height="1.04" fill="rgb(252,252,252)"/><rect x="14" y="22" width="1.04" height="1.04" fill="rgb(254,254,254)"/><rect x="15" y="22" width="1.04" height="1.04" fill="rgb(253,253,253)"/><rect x="16" y="22" width="1.04" height="1.04" fill="rgb(234,234,234)"/><rect x="17" y="22" width="1.04" height="1.04" fill="rgb(175,175,175)"/><rect x="18" y="22" width="1.04" height="1.04" fill="rgb(92,92,92)"/><rect x="19" y="22" width="1.04" height="1.04" fill="rgb(25,25,25)"/><rect x="4" y="23" width="1.04" height="1.04" fill="rgb(47,47,47)"/><rect x="5" y="23" width="1.04" height="1.04" fill="rgb(156,156,156)"/><rect x="6" y="23" width="1.04" height="1.04" fill="rgb(239,239,239)"/><rect x="7" y="23" width="1.04" height="1.04" fill="rgb(253,253,253)"/><rect x="8" y="23" width="1.04" height="1.04" fill="rgb(253,253,253)"/><rect x="9" y="23" width="1.04" height="1.04" fill="rgb(254,254,254)"/><rect x="10" y="23" width="1.04" height="1.04" fill="rgb(254,254,254)"/><rect x="11" y="23" width="1.04" height="1.04" fill="rgb(252,252,252)"/><rect x="12" y="23" width="1.04" height="1.04" fill="rgb(245,245,245)"/><rect x="13" y="23" width="1.04" height="1.04" fill="rgb(232,232,232)"/><rect x="14" y="23" width="1.04" height="1.04" fill="rgb(211,211,211)"/><rect x="15" y="23" width="1.04" height="1.04" fill="rgb(185,185,185)"/><rect x="16" y="23" width="1.04" height="1.04" fill="rgb(110,110,110)"/><rect x="17" y="23" width="1.04" height="1.04" fill="rgb(33,33,33)"/><rect x="5" y="24" width="1.04" height="1.04" fill="rgb(34,34,34)"/><rect x="6" y="24" width="1.04" height="1.04" fill="rgb(128,128,128)"/><rect x="7" y="24" width="1.04" height="1.04" fill="rgb(170,170,170)"/><rect x="8" y="24" width="1.04" height="1.04" fill="rgb(170,170,170)"/><rect x="9" y="24" width="1.04" height="1.04" fill="rgb(184,184,184)"/><rect x="10" y="24" width="1.04" height="1.04" fill="rgb(197,197,197)"/><rect x="11" y="24" width="1.04" height="1.04" fill="rgb(166,166,166)"/><rect x="12" y="24" width="1.04" height="1.04" fill="rgb(122,122,122)"/><rect x="13" y="24" width="1.04" height="1.04" fill="rgb(83,83,83)"/><rect x="14" y="24" width="1.04" height="1.04" fill="rgb(51,51,51)"/><rect x="15" y="24" width="1.04" height="1.04" fill="rgb(31,31,31)"/><rect x="7" y="25" width="1.04" height="1.04" fill="rgb(21,21,21)"/><rect x="8" y="25" width="1.04" height="1.04" fill="rgb(21,21,21)"/><rect x="9" y="25" width="1.04" height="1.04" fill="rgb(28,28,28)"/><rect x="10" y="25" width="1.04" height="1.04" fill="rgb(38,38,38)"/><rect x="11" y="25" width="1.04" height="1.04" fill="rgb(21,21,21)"/></g>
<text x="496.7" y="999.4" font-size="32.5" textLength="100.1" lengthAdjust="spacingAndGlyphs" >MNIST</text>
<text x="496.7" y="1035.6" font-size="32.5" textLength="93.7" lengthAdjust="spacingAndGlyphs" >images</text>
<text x="666.8" y="1062.3" font-size="32.5" textLength="67.99" lengthAdjust="spacingAndGlyphs" >Input</text>
<text x="653.7" y="1099.5" font-size="32.5" textLength="103.92" lengthAdjust="spacingAndGlyphs" >neurons</text>
<text x="816.3" y="1034.6" font-size="32.5" textLength="96.7" lengthAdjust="spacingAndGlyphs" >Hidden</text>
<text x="816.3" y="1072.3" font-size="32.5" textLength="103.51" lengthAdjust="spacingAndGlyphs" >neurons</text>
<text x="962.2" y="1007" font-size="32.5" textLength="91.92" lengthAdjust="spacingAndGlyphs" >Output</text>
<text x="963.7" y="1044.1" font-size="32.5" textLength="103.61" lengthAdjust="spacingAndGlyphs" >neurons</text>
</g>
<g id="pe">
<rect x="1198" y="609.5" width="541.8" height="435.70000000000005" fill="none" stroke="#000" stroke-width="2.1"/>
<line x1="1198" y1="1044.1" x2="1214" y2="1044.1" stroke="#000" stroke-width="2" />
<text x="1185.5" y="1054.8" font-size="34.5" text-anchor="end" >0.0</text>
<line x1="1198" y1="1024.35" x2="1206" y2="1024.35" stroke="#000" stroke-width="2" />
<line x1="1198" y1="1004.6" x2="1206" y2="1004.6" stroke="#000" stroke-width="2" />
<line x1="1198" y1="984.85" x2="1206" y2="984.85" stroke="#000" stroke-width="2" />
<line x1="1198" y1="965.1" x2="1214" y2="965.1" stroke="#000" stroke-width="2" />
<text x="1185.5" y="975.8" font-size="34.5" text-anchor="end" >0.2</text>
<line x1="1198" y1="945.35" x2="1206" y2="945.35" stroke="#000" stroke-width="2" />
<line x1="1198" y1="925.6" x2="1206" y2="925.6" stroke="#000" stroke-width="2" />
<line x1="1198" y1="905.85" x2="1206" y2="905.85" stroke="#000" stroke-width="2" />
<line x1="1198" y1="886.1" x2="1214" y2="886.1" stroke="#000" stroke-width="2" />
<text x="1185.5" y="896.8" font-size="34.5" text-anchor="end" >0.4</text>
<line x1="1198" y1="866.35" x2="1206" y2="866.35" stroke="#000" stroke-width="2" />
<line x1="1198" y1="846.6" x2="1206" y2="846.6" stroke="#000" stroke-width="2" />
<line x1="1198" y1="826.85" x2="1206" y2="826.85" stroke="#000" stroke-width="2" />
<line x1="1198" y1="807.1" x2="1214" y2="807.1" stroke="#000" stroke-width="2" />
<text x="1185.5" y="817.8" font-size="34.5" text-anchor="end" >0.6</text>
<line x1="1198" y1="787.35" x2="1206" y2="787.35" stroke="#000" stroke-width="2" />
<line x1="1198" y1="767.6" x2="1206" y2="767.6" stroke="#000" stroke-width="2" />
<line x1="1198" y1="747.85" x2="1206" y2="747.85" stroke="#000" stroke-width="2" />
<line x1="1198" y1="728.1" x2="1214" y2="728.1" stroke="#000" stroke-width="2" />
<text x="1185.5" y="738.8" font-size="34.5" text-anchor="end" >0.8</text>
<line x1="1198" y1="708.35" x2="1206" y2="708.35" stroke="#000" stroke-width="2" />
<line x1="1198" y1="688.6" x2="1206" y2="688.6" stroke="#000" stroke-width="2" />
<line x1="1198" y1="668.85" x2="1206" y2="668.85" stroke="#000" stroke-width="2" />
<line x1="1198" y1="649.1" x2="1214" y2="649.1" stroke="#000" stroke-width="2" />
<text x="1185.5" y="659.8" font-size="34.5" text-anchor="end" >1.0</text>
<line x1="1198" y1="629.35" x2="1206" y2="629.35" stroke="#000" stroke-width="2" />
<line x1="1219.96" y1="1045.2" x2="1219.96" y2="1037.2" stroke="#000" stroke-width="2" />
<line x1="1242.6" y1="1045.2" x2="1242.6" y2="1029.2" stroke="#000" stroke-width="2" />
<text x="1242.6" y="1083" font-size="35" text-anchor="middle" >0</text>
<line x1="1265.24" y1="1045.2" x2="1265.24" y2="1037.2" stroke="#000" stroke-width="2" />
<line x1="1287.88" y1="1045.2" x2="1287.88" y2="1037.2" stroke="#000" stroke-width="2" />
<line x1="1310.52" y1="1045.2" x2="1310.52" y2="1037.2" stroke="#000" stroke-width="2" />
<line x1="1333.16" y1="1045.2" x2="1333.16" y2="1037.2" stroke="#000" stroke-width="2" />
<line x1="1355.8" y1="1045.2" x2="1355.8" y2="1029.2" stroke="#000" stroke-width="2" />
<text x="1355.8" y="1083" font-size="35" text-anchor="middle" >10</text>
<line x1="1378.44" y1="1045.2" x2="1378.44" y2="1037.2" stroke="#000" stroke-width="2" />
<line x1="1401.08" y1="1045.2" x2="1401.08" y2="1037.2" stroke="#000" stroke-width="2" />
<line x1="1423.72" y1="1045.2" x2="1423.72" y2="1037.2" stroke="#000" stroke-width="2" />
<line x1="1446.36" y1="1045.2" x2="1446.36" y2="1037.2" stroke="#000" stroke-width="2" />
<line x1="1469" y1="1045.2" x2="1469" y2="1029.2" stroke="#000" stroke-width="2" />
<text x="1469" y="1083" font-size="35" text-anchor="middle" >20</text>
<line x1="1491.64" y1="1045.2" x2="1491.64" y2="1037.2" stroke="#000" stroke-width="2" />
<line x1="1514.28" y1="1045.2" x2="1514.28" y2="1037.2" stroke="#000" stroke-width="2" />
<line x1="1536.92" y1="1045.2" x2="1536.92" y2="1037.2" stroke="#000" stroke-width="2" />
<line x1="1559.56" y1="1045.2" x2="1559.56" y2="1037.2" stroke="#000" stroke-width="2" />
<line x1="1582.2" y1="1045.2" x2="1582.2" y2="1029.2" stroke="#000" stroke-width="2" />
<text x="1582.2" y="1083" font-size="35" text-anchor="middle" >30</text>
<line x1="1604.84" y1="1045.2" x2="1604.84" y2="1037.2" stroke="#000" stroke-width="2" />
<line x1="1627.48" y1="1045.2" x2="1627.48" y2="1037.2" stroke="#000" stroke-width="2" />
<line x1="1650.12" y1="1045.2" x2="1650.12" y2="1037.2" stroke="#000" stroke-width="2" />
<line x1="1672.76" y1="1045.2" x2="1672.76" y2="1037.2" stroke="#000" stroke-width="2" />
<line x1="1695.4" y1="1045.2" x2="1695.4" y2="1029.2" stroke="#000" stroke-width="2" />
<text x="1695.4" y="1083" font-size="35" text-anchor="middle" >40</text>
<line x1="1718.04" y1="1045.2" x2="1718.04" y2="1037.2" stroke="#000" stroke-width="2" />
<text x="1469.5" y="1116.8" font-size="36" text-anchor="middle" textLength="216.99" lengthAdjust="spacingAndGlyphs" >Epoch number</text>
<text transform="translate(1124.8,826) rotate(-90)" font-size="36.5" text-anchor="middle" textLength="140.43" lengthAdjust="spacingAndGlyphs" >Accuracy</text>
<text x="1064.8" y="607.6" font-size="61" >e</text>
<clipPath id="clipE"><rect x="1198" y="609.5" width="541.8" height="435.70000000000005"/></clipPath>
<g clip-path="url(#clipE)">
<polyline points="1242.6,992.8 1253.9,683.9 1265.2,675.6 1276.6,671.6 1287.9,670.4 1299.2,669.2 1310.5,668.5 1321.8,666.5 1333.2,665.7 1344.5,665.7 1355.8,665.7 1367.1,665.7 1378.4,665.7 1389.8,665.7 1401.1,665.7 1412.4,665.7 1423.7,665.7 1435.0,665.7 1446.4,665.7 1457.7,665.7 1469.0,665.7 1480.3,665.7 1491.6,665.7 1503.0,665.7 1514.3,665.7 1525.6,665.7 1536.9,665.7 1548.2,665.7 1559.6,665.5 1570.9,665.3 1582.2,665.3 1593.5,665.1 1604.8,664.9 1616.2,664.9 1627.5,664.7 1638.8,664.7 1650.1,664.5 1661.4,664.5 1672.8,664.5 1684.1,664.5 1695.4,664.5" fill="none" stroke="#4d4d4d" stroke-width="2.5" stroke-linejoin="round" />
<rect x="1248.6" y="678.6" width="10.6" height="10.6" fill="#4d4d4d" stroke="#777" stroke-width="0.4"/>
<rect x="1259.9" y="670.3" width="10.6" height="10.6" fill="#4d4d4d" stroke="#777" stroke-width="0.4"/>
<rect x="1271.3" y="666.3" width="10.6" height="10.6" fill="#4d4d4d" stroke="#777" stroke-width="0.4"/>
<rect x="1282.6" y="665.1" width="10.6" height="10.6" fill="#4d4d4d" stroke="#777" stroke-width="0.4"/>
<rect x="1293.9" y="663.9" width="10.6" height="10.6" fill="#4d4d4d" stroke="#777" stroke-width="0.4"/>
<rect x="1305.2" y="663.2" width="10.6" height="10.6" fill="#4d4d4d" stroke="#777" stroke-width="0.4"/>
<rect x="1316.5" y="661.2" width="10.6" height="10.6" fill="#4d4d4d" stroke="#777" stroke-width="0.4"/>
<rect x="1327.9" y="660.4" width="10.6" height="10.6" fill="#4d4d4d" stroke="#777" stroke-width="0.4"/>
<rect x="1339.2" y="660.4" width="10.6" height="10.6" fill="#4d4d4d" stroke="#777" stroke-width="0.4"/>
<rect x="1350.5" y="660.4" width="10.6" height="10.6" fill="#4d4d4d" stroke="#777" stroke-width="0.4"/>
<rect x="1361.8" y="660.4" width="10.6" height="10.6" fill="#4d4d4d" stroke="#777" stroke-width="0.4"/>
<rect x="1373.1" y="660.4" width="10.6" height="10.6" fill="#4d4d4d" stroke="#777" stroke-width="0.4"/>
<rect x="1384.5" y="660.4" width="10.6" height="10.6" fill="#4d4d4d" stroke="#777" stroke-width="0.4"/>
<rect x="1395.8" y="660.4" width="10.6" height="10.6" fill="#4d4d4d" stroke="#777" stroke-width="0.4"/>
<rect x="1407.1" y="660.4" width="10.6" height="10.6" fill="#4d4d4d" stroke="#777" stroke-width="0.4"/>
<rect x="1418.4" y="660.4" width="10.6" height="10.6" fill="#4d4d4d" stroke="#777" stroke-width="0.4"/>
<rect x="1429.7" y="660.4" width="10.6" height="10.6" fill="#4d4d4d" stroke="#777" stroke-width="0.4"/>
<rect x="1441.1" y="660.4" width="10.6" height="10.6" fill="#4d4d4d" stroke="#777" stroke-width="0.4"/>
<rect x="1452.4" y="660.4" width="10.6" height="10.6" fill="#4d4d4d" stroke="#777" stroke-width="0.4"/>
<rect x="1463.7" y="660.4" width="10.6" height="10.6" fill="#4d4d4d" stroke="#777" stroke-width="0.4"/>
<rect x="1475.0" y="660.4" width="10.6" height="10.6" fill="#4d4d4d" stroke="#777" stroke-width="0.4"/>
<rect x="1486.3" y="660.4" width="10.6" height="10.6" fill="#4d4d4d" stroke="#777" stroke-width="0.4"/>
<rect x="1497.7" y="660.4" width="10.6" height="10.6" fill="#4d4d4d" stroke="#777" stroke-width="0.4"/>
<rect x="1509.0" y="660.4" width="10.6" height="10.6" fill="#4d4d4d" stroke="#777" stroke-width="0.4"/>
<rect x="1520.3" y="660.4" width="10.6" height="10.6" fill="#4d4d4d" stroke="#777" stroke-width="0.4"/>
<rect x="1531.6" y="660.4" width="10.6" height="10.6" fill="#4d4d4d" stroke="#777" stroke-width="0.4"/>
<rect x="1542.9" y="660.4" width="10.6" height="10.6" fill="#4d4d4d" stroke="#777" stroke-width="0.4"/>
<rect x="1554.3" y="660.2" width="10.6" height="10.6" fill="#4d4d4d" stroke="#777" stroke-width="0.4"/>
<rect x="1565.6" y="660.0" width="10.6" height="10.6" fill="#4d4d4d" stroke="#777" stroke-width="0.4"/>
<rect x="1576.9" y="660.0" width="10.6" height="10.6" fill="#4d4d4d" stroke="#777" stroke-width="0.4"/>
<rect x="1588.2" y="659.8" width="10.6" height="10.6" fill="#4d4d4d" stroke="#777" stroke-width="0.4"/>
<rect x="1599.5" y="659.6" width="10.6" height="10.6" fill="#4d4d4d" stroke="#777" stroke-width="0.4"/>
<rect x="1610.9" y="659.6" width="10.6" height="10.6" fill="#4d4d4d" stroke="#777" stroke-width="0.4"/>
<rect x="1622.2" y="659.4" width="10.6" height="10.6" fill="#4d4d4d" stroke="#777" stroke-width="0.4"/>
<rect x="1633.5" y="659.4" width="10.6" height="10.6" fill="#4d4d4d" stroke="#777" stroke-width="0.4"/>
<rect x="1644.8" y="659.2" width="10.6" height="10.6" fill="#4d4d4d" stroke="#777" stroke-width="0.4"/>
<rect x="1656.1" y="659.2" width="10.6" height="10.6" fill="#4d4d4d" stroke="#777" stroke-width="0.4"/>
<rect x="1667.5" y="659.2" width="10.6" height="10.6" fill="#4d4d4d" stroke="#777" stroke-width="0.4"/>
<rect x="1678.8" y="659.2" width="10.6" height="10.6" fill="#4d4d4d" stroke="#777" stroke-width="0.4"/>
<rect x="1690.1" y="659.2" width="10.6" height="10.6" fill="#4d4d4d" stroke="#777" stroke-width="0.4"/>
<polyline points="1242.6,1002.6 1253.9,696.1 1265.2,687.8 1276.6,687.0 1287.9,686.2 1299.2,685.0 1310.5,683.5 1321.8,683.9 1333.2,681.1 1344.5,680.3 1355.8,679.7 1367.1,679.7 1378.4,679.7 1389.8,679.7 1401.1,679.7 1412.4,679.7 1423.7,679.7 1435.0,679.7 1446.4,679.7 1457.7,679.7 1469.0,679.7 1480.3,679.7 1491.6,679.7 1503.0,679.7 1514.3,679.7 1525.6,679.7 1536.9,679.7 1548.2,679.7 1559.6,679.7 1570.9,679.7 1582.2,679.7 1593.5,679.7 1604.8,679.7 1616.2,679.7 1627.5,679.7 1638.8,679.7 1650.1,679.7 1661.4,679.7 1672.8,679.7 1684.1,679.7 1695.4,679.7" fill="none" stroke="#e84040" stroke-width="3" stroke-linejoin="round" />
<circle cx="1242.6" cy="1002.6" r="6.3" fill="#fff" stroke="#ee3535" stroke-width="1.4"/>
<circle cx="1253.9" cy="696.1" r="6.3" fill="#fff" stroke="#ee3535" stroke-width="1.4"/>
<circle cx="1265.2" cy="687.8" r="6.3" fill="#fff" stroke="#ee3535" stroke-width="1.4"/>
<circle cx="1276.6" cy="687.0" r="6.3" fill="#fff" stroke="#ee3535" stroke-width="1.4"/>
<circle cx="1287.9" cy="686.2" r="6.3" fill="#fff" stroke="#ee3535" stroke-width="1.4"/>
<circle cx="1299.2" cy="685.0" r="6.3" fill="#fff" stroke="#ee3535" stroke-width="1.4"/>
<circle cx="1310.5" cy="683.5" r="6.3" fill="#fff" stroke="#ee3535" stroke-width="1.4"/>
<circle cx="1321.8" cy="683.9" r="6.3" fill="#fff" stroke="#ee3535" stroke-width="1.4"/>
<circle cx="1333.2" cy="681.1" r="6.3" fill="#fff" stroke="#ee3535" stroke-width="1.4"/>
<circle cx="1344.5" cy="680.3" r="6.3" fill="#fff" stroke="#ee3535" stroke-width="1.4"/>
<circle cx="1355.8" cy="679.7" r="6.3" fill="#fff" stroke="#ee3535" stroke-width="1.4"/>
<circle cx="1367.1" cy="679.7" r="6.3" fill="#fff" stroke="#ee3535" stroke-width="1.4"/>
<circle cx="1378.4" cy="679.7" r="6.3" fill="#fff" stroke="#ee3535" stroke-width="1.4"/>
<circle cx="1389.8" cy="679.7" r="6.3" fill="#fff" stroke="#ee3535" stroke-width="1.4"/>
<circle cx="1401.1" cy="679.7" r="6.3" fill="#fff" stroke="#ee3535" stroke-width="1.4"/>
<circle cx="1412.4" cy="679.7" r="6.3" fill="#fff" stroke="#ee3535" stroke-width="1.4"/>
<circle cx="1423.7" cy="679.7" r="6.3" fill="#fff" stroke="#ee3535" stroke-width="1.4"/>
<circle cx="1435.0" cy="679.7" r="6.3" fill="#fff" stroke="#ee3535" stroke-width="1.4"/>
<circle cx="1446.4" cy="679.7" r="6.3" fill="#fff" stroke="#ee3535" stroke-width="1.4"/>
<circle cx="1457.7" cy="679.7" r="6.3" fill="#fff" stroke="#ee3535" stroke-width="1.4"/>
<circle cx="1469.0" cy="679.7" r="6.3" fill="#fff" stroke="#ee3535" stroke-width="1.4"/>
<circle cx="1480.3" cy="679.7" r="6.3" fill="#fff" stroke="#ee3535" stroke-width="1.4"/>
<circle cx="1491.6" cy="679.7" r="6.3" fill="#fff" stroke="#ee3535" stroke-width="1.4"/>
<circle cx="1503.0" cy="679.7" r="6.3" fill="#fff" stroke="#ee3535" stroke-width="1.4"/>
<circle cx="1514.3" cy="679.7" r="6.3" fill="#fff" stroke="#ee3535" stroke-width="1.4"/>
<circle cx="1525.6" cy="679.7" r="6.3" fill="#fff" stroke="#ee3535" stroke-width="1.4"/>
<circle cx="1536.9" cy="679.7" r="6.3" fill="#fff" stroke="#ee3535" stroke-width="1.4"/>
<circle cx="1548.2" cy="679.7" r="6.3" fill="#fff" stroke="#ee3535" stroke-width="1.4"/>
<circle cx="1559.6" cy="679.7" r="6.3" fill="#fff" stroke="#ee3535" stroke-width="1.4"/>
<circle cx="1570.9" cy="679.7" r="6.3" fill="#fff" stroke="#ee3535" stroke-width="1.4"/>
<circle cx="1582.2" cy="679.7" r="6.3" fill="#fff" stroke="#ee3535" stroke-width="1.4"/>
<circle cx="1593.5" cy="679.7" r="6.3" fill="#fff" stroke="#ee3535" stroke-width="1.4"/>
<circle cx="1604.8" cy="679.7" r="6.3" fill="#fff" stroke="#ee3535" stroke-width="1.4"/>
<circle cx="1616.2" cy="679.7" r="6.3" fill="#fff" stroke="#ee3535" stroke-width="1.4"/>
<circle cx="1627.5" cy="679.7" r="6.3" fill="#fff" stroke="#ee3535" stroke-width="1.4"/>
<circle cx="1638.8" cy="679.7" r="6.3" fill="#fff" stroke="#ee3535" stroke-width="1.4"/>
<circle cx="1650.1" cy="679.7" r="6.3" fill="#fff" stroke="#ee3535" stroke-width="1.4"/>
<circle cx="1661.4" cy="679.7" r="6.3" fill="#fff" stroke="#ee3535" stroke-width="1.4"/>
<circle cx="1672.8" cy="679.7" r="6.3" fill="#fff" stroke="#ee3535" stroke-width="1.4"/>
<circle cx="1684.1" cy="679.7" r="6.3" fill="#fff" stroke="#ee3535" stroke-width="1.4"/>
<circle cx="1695.4" cy="679.7" r="6.3" fill="#fff" stroke="#ee3535" stroke-width="1.4"/>
<polyline points="1242.6,992.8 1253.9,1004.6 1265.2,1012.5 1276.6,998.7 1287.9,1002.6 1299.2,1000.7 1310.5,990.8 1321.8,1004.6 1333.2,1002.6 1344.5,1002.6 1355.8,1001.4 1367.1,1001.4 1378.4,1002.2 1389.8,1003.0 1401.1,1003.4 1412.4,1003.4 1423.7,1003.8 1435.0,1001.4 1446.4,999.1 1457.7,1003.8 1469.0,999.9 1480.3,1008.5 1491.6,1013.3 1503.0,1009.3 1514.3,1018.4 1525.6,1009.3 1536.9,1001.4 1548.2,998.7 1559.6,997.5 1570.9,1003.8 1582.2,1003.8 1593.5,999.9 1604.8,975.0 1616.2,1006.6 1627.5,988.0 1638.8,996.7 1650.1,1007.8 1661.4,973.8 1672.8,998.7 1684.1,992.0 1695.4,1012.5" fill="none" stroke="#1f77dd" stroke-width="3" stroke-linejoin="round" stroke-dasharray="9,5"/>
<path d="M1242.6,985.0L1251.3,999.1L1233.9,999.1Z" fill="#0000ff"/>
<path d="M1253.9,996.8L1262.6,1011.0L1245.2,1011.0Z" fill="#0000ff"/>
<path d="M1265.2,1004.7L1273.9,1018.9L1256.5,1018.9Z" fill="#0000ff"/>
<path d="M1276.6,990.9L1285.3,1005.1L1267.9,1005.1Z" fill="#0000ff"/>
<path d="M1287.9,994.8L1296.6,1009.0L1279.2,1009.0Z" fill="#0000ff"/>
<path d="M1299.2,992.9L1307.9,1007.1L1290.5,1007.1Z" fill="#0000ff"/>
<path d="M1310.5,983.0L1319.2,997.2L1301.8,997.2Z" fill="#0000ff"/>
<path d="M1321.8,996.8L1330.5,1011.0L1313.1,1011.0Z" fill="#0000ff"/>
<path d="M1333.2,994.8L1341.9,1009.0L1324.5,1009.0Z" fill="#0000ff"/>
<path d="M1344.5,994.8L1353.2,1009.0L1335.8,1009.0Z" fill="#0000ff"/>
<path d="M1355.8,993.6L1364.5,1007.8L1347.1,1007.8Z" fill="#0000ff"/>
<path d="M1367.1,993.6L1375.8,1007.8L1358.4,1007.8Z" fill="#0000ff"/>
<path d="M1378.4,994.4L1387.1,1008.6L1369.7,1008.6Z" fill="#0000ff"/>
<path d="M1389.8,995.2L1398.5,1009.4L1381.1,1009.4Z" fill="#0000ff"/>
<path d="M1401.1,995.6L1409.8,1009.8L1392.4,1009.8Z" fill="#0000ff"/>
<path d="M1412.4,995.6L1421.1,1009.8L1403.7,1009.8Z" fill="#0000ff"/>
<path d="M1423.7,996.0L1432.4,1010.2L1415.0,1010.2Z" fill="#0000ff"/>
<path d="M1435.0,993.6L1443.7,1007.8L1426.3,1007.8Z" fill="#0000ff"/>
<path d="M1446.4,991.3L1455.1,1005.5L1437.7,1005.5Z" fill="#0000ff"/>
<path d="M1457.7,996.0L1466.4,1010.2L1449.0,1010.2Z" fill="#0000ff"/>
<path d="M1469.0,992.1L1477.7,1006.3L1460.3,1006.3Z" fill="#0000ff"/>
<path d="M1480.3,1000.8L1489.0,1014.9L1471.6,1014.9Z" fill="#0000ff"/>
<path d="M1491.6,1005.5L1500.3,1019.7L1482.9,1019.7Z" fill="#0000ff"/>
<path d="M1503.0,1001.5L1511.7,1015.7L1494.3,1015.7Z" fill="#0000ff"/>
<path d="M1514.3,1010.6L1523.0,1024.8L1505.6,1024.8Z" fill="#0000ff"/>
<path d="M1525.6,1001.5L1534.3,1015.7L1516.9,1015.7Z" fill="#0000ff"/>
<path d="M1536.9,993.6L1545.6,1007.8L1528.2,1007.8Z" fill="#0000ff"/>
<path d="M1548.2,990.9L1556.9,1005.1L1539.5,1005.1Z" fill="#0000ff"/>
<path d="M1559.6,989.7L1568.3,1003.9L1550.9,1003.9Z" fill="#0000ff"/>
<path d="M1570.9,996.0L1579.6,1010.2L1562.2,1010.2Z" fill="#0000ff"/>
<path d="M1582.2,996.0L1590.9,1010.2L1573.5,1010.2Z" fill="#0000ff"/>
<path d="M1593.5,992.1L1602.2,1006.3L1584.8,1006.3Z" fill="#0000ff"/>
<path d="M1604.8,967.2L1613.5,981.4L1596.1,981.4Z" fill="#0000ff"/>
<path d="M1616.2,998.8L1624.9,1013.0L1607.5,1013.0Z" fill="#0000ff"/>
<path d="M1627.5,980.2L1636.2,994.4L1618.8,994.4Z" fill="#0000ff"/>
<path d="M1638.8,988.9L1647.5,1003.1L1630.1,1003.1Z" fill="#0000ff"/>
<path d="M1650.1,1000.0L1658.8,1014.2L1641.4,1014.2Z" fill="#0000ff"/>
<path d="M1661.4,966.0L1670.1,980.2L1652.7,980.2Z" fill="#0000ff"/>
<path d="M1672.8,990.9L1681.5,1005.1L1664.1,1005.1Z" fill="#0000ff"/>
<path d="M1684.1,984.2L1692.8,998.4L1675.4,998.4Z" fill="#0000ff"/>
<path d="M1695.4,1004.7L1704.1,1018.9L1686.7,1018.9Z" fill="#0000ff"/>
</g>
<text x="1701.5" y="647" font-size="42.5" text-anchor="end" >96.1%</text>
<text x="1701.5" y="727.5" font-size="42.5" text-anchor="end" fill="#ff0000" >92.3%</text>
<text x="1696.5" y="951" font-size="42" text-anchor="end" fill="#4040ff" >10%</text>
<line x1="1311.3" y1="772.6" x2="1356.1" y2="772.6" stroke="#555" stroke-width="2.6" stroke-linecap="round"/>
<rect x="1328.5" y="767.3" width="10.6" height="10.6" fill="#4d4d4d"/>
<line x1="1311.3" y1="819.4" x2="1356.1" y2="819.4" stroke="#e84040" stroke-width="2.6" stroke-linecap="round"/>
<circle cx="1333.6" cy="819.4" r="6.8" fill="#fff" stroke="#ee3535" stroke-width="1.4"/>
<line x1="1311.3" y1="878.6" x2="1356.1" y2="878.6" stroke="#1f77dd" stroke-width="2.6" stroke-linecap="round"/>
<path d="M1333.6,869.6L1342.3,883.6L1324.9,883.6Z" fill="#0000ff"/>
<text x="1386.2" y="784.3" font-size="36.5" >Ideal</text>
<text x="1386.2" y="831.1" font-size="36.5">WZ’-In<tspan font-size="27.5" dy="11">2</tspan><tspan dy="-11">Se</tspan><tspan font-size="27.5" dy="11">3</tspan><tspan dy="-11"> Light</tspan></text>
<text x="1386.2" y="890.5" font-size="36.5">WZ’-In<tspan font-size="27.5" dy="11">2</tspan><tspan dy="-11">Se</tspan><tspan font-size="27.5" dy="11">3</tspan><tspan dy="-11"> Dark</tspan></text>
</g>
</svg>
</body></html>
